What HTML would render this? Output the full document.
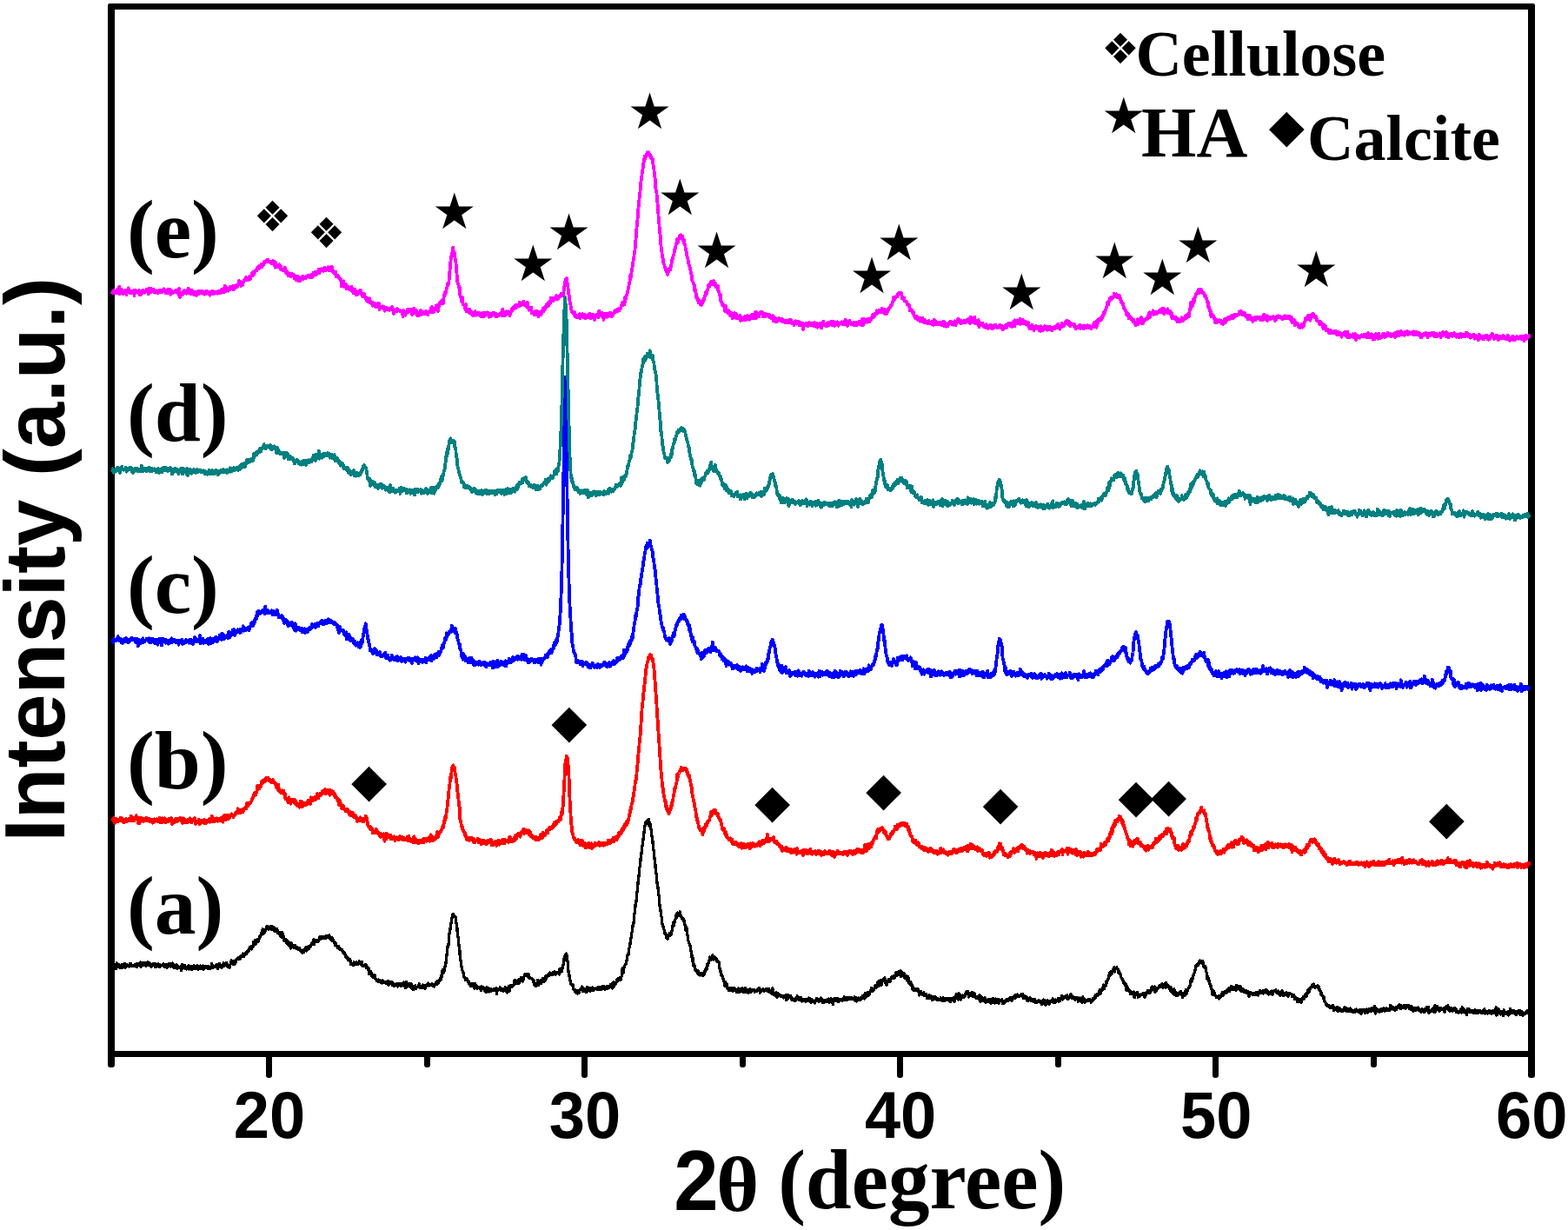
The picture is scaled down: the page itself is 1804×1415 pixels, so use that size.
<!DOCTYPE html>
<html lang="en">
<head>
<meta charset="utf-8">
<title>XRD patterns</title>
<style>
html,body{margin:0;padding:0;background:#fff;}
body{width:1804px;height:1415px;overflow:hidden;}
svg{display:block;}
</style>
</head>
<body>
<svg width="1804" height="1415" viewBox="0 0 1804 1415">
<rect x="0" y="0" width="1804" height="1415" fill="#ffffff"/>
<g id="axes" fill="#000">
<rect x="124" y="4" width="8" height="1224" rx="3"/>
<rect x="1758" y="4" width="8" height="1236" rx="3"/>
<rect x="124" y="4" width="1642" height="7" rx="3"/>
<rect x="128" y="1209" width="1634" height="7"/>
<rect x="306" y="1209" width="7" height="31" rx="3"/>
<rect x="488" y="1209" width="7" height="19" rx="3"/>
<rect x="669" y="1209" width="7" height="31" rx="3"/>
<rect x="851" y="1209" width="7" height="19" rx="3"/>
<rect x="1032" y="1209" width="7" height="31" rx="3"/>
<rect x="1214" y="1209" width="7" height="19" rx="3"/>
<rect x="1395" y="1209" width="7" height="31" rx="3"/>
<rect x="1577" y="1209" width="7" height="19" rx="3"/>
</g>
<g id="curves" shape-rendering="crispEdges">
<polyline points="129.0,1113.8 129.8,1110.2 130.5,1114.1 131.2,1112.6 132.0,1114.2 132.8,1111.9 133.5,1114.5 134.2,1107.5 135.0,1112.5 135.8,1109.7 136.5,1111.8 137.2,1109.6 138.0,1113.2 138.8,1110.4 139.5,1112.9 140.2,1109.2 141.0,1113.6 141.8,1110.0 142.5,1109.5 143.2,1108.2 144.0,1113.1 144.8,1111.9 145.5,1111.4 146.2,1109.8 147.0,1111.9 147.8,1110.8 148.5,1111.9 149.2,1108.9 150.0,1111.7 150.8,1108.5 151.5,1111.5 152.2,1110.4 153.0,1111.7 153.8,1110.8 154.5,1110.9 155.2,1109.2 156.0,1111.5 156.8,1108.7 157.5,1112.5 158.2,1109.4 159.0,1110.2 159.8,1108.2 160.5,1109.8 161.2,1107.1 162.0,1112.2 162.8,1108.8 163.5,1111.0 164.2,1107.6 165.0,1108.4 165.8,1107.4 166.5,1110.5 167.2,1107.7 168.0,1111.0 168.8,1108.0 169.5,1110.4 170.2,1107.0 171.0,1109.4 171.8,1107.4 172.5,1110.7 173.2,1109.5 174.0,1112.1 174.8,1110.0 175.5,1110.8 176.2,1109.0 177.0,1110.3 177.8,1108.4 178.5,1112.2 179.2,1109.1 180.0,1112.4 180.8,1109.8 181.5,1111.4 182.2,1108.7 183.0,1112.3 183.8,1109.7 184.5,1112.2 185.2,1111.1 186.0,1110.7 186.8,1109.9 187.5,1110.7 188.2,1108.8 189.0,1112.7 189.8,1109.5 190.5,1112.3 191.2,1109.8 192.0,1113.6 192.8,1110.6 193.5,1110.8 194.2,1108.3 195.0,1111.8 195.8,1108.8 196.5,1112.0 197.2,1108.4 198.0,1110.7 198.8,1108.0 199.5,1113.1 200.2,1109.9 201.0,1113.9 201.8,1110.4 202.5,1112.3 203.2,1109.5 204.0,1114.9 204.8,1111.9 205.5,1113.4 206.2,1112.6 207.0,1113.3 207.8,1112.6 208.5,1116.3 209.2,1109.4 210.0,1114.3 210.8,1113.0 211.5,1112.0 212.2,1110.5 213.0,1114.0 213.8,1113.0 214.5,1114.9 215.2,1112.3 216.0,1111.4 216.8,1110.7 217.5,1114.9 218.2,1111.8 219.0,1113.5 219.8,1111.9 220.5,1115.3 221.2,1112.4 222.0,1114.2 222.8,1110.7 223.5,1114.3 224.2,1111.5 225.0,1114.2 225.8,1112.2 226.5,1113.1 227.2,1110.5 228.0,1115.0 228.8,1111.7 229.5,1113.9 230.2,1111.1 231.0,1114.5 231.8,1111.6 232.5,1112.6 233.2,1111.1 234.0,1115.2 234.8,1111.9 235.5,1114.2 236.2,1111.6 237.0,1112.4 237.8,1111.5 238.5,1114.0 239.2,1111.6 240.0,1114.6 240.8,1112.1 241.5,1114.7 242.2,1113.0 243.0,1111.8 243.8,1108.4 244.5,1113.4 245.2,1112.0 246.0,1112.7 246.8,1111.5 247.5,1112.3 248.2,1110.6 249.0,1111.2 249.8,1109.4 250.5,1114.4 251.2,1111.0 252.0,1111.2 252.8,1108.4 253.5,1112.2 254.2,1111.1 255.0,1113.3 255.8,1111.3 256.5,1110.0 257.2,1107.9 258.0,1111.7 258.8,1108.8 259.5,1110.6 260.2,1107.2 261.0,1111.4 261.8,1109.3 262.5,1112.6 263.2,1110.3 264.0,1113.1 264.8,1109.9 265.5,1108.3 266.2,1104.8 267.0,1108.7 267.8,1105.3 268.5,1109.5 269.2,1105.3 270.0,1109.1 270.8,1105.5 271.5,1106.4 272.2,1103.5 273.0,1103.7 273.8,1101.5 274.5,1103.4 275.2,1102.1 276.0,1102.9 276.8,1099.9 277.5,1101.1 278.2,1099.4 279.0,1100.3 279.8,1097.0 280.5,1100.5 281.2,1097.0 282.0,1098.4 282.8,1096.6 283.5,1097.4 284.2,1094.2 285.0,1095.3 285.8,1093.2 286.5,1093.4 287.2,1089.5 288.0,1091.7 288.8,1089.1 289.5,1092.0 290.2,1088.2 291.0,1089.7 291.8,1083.5 292.5,1085.0 293.2,1081.7 294.0,1086.5 294.8,1083.0 295.5,1084.2 296.2,1080.2 297.0,1083.5 297.8,1080.9 298.5,1080.1 299.2,1076.1 300.0,1076.9 300.8,1073.5 301.5,1074.1 302.2,1068.7 303.0,1074.0 303.8,1070.1 304.5,1073.0 305.2,1070.8 306.0,1069.2 306.8,1065.9 307.5,1068.3 308.2,1066.1 309.0,1069.8 309.8,1066.7 310.5,1068.0 311.2,1065.2 312.0,1069.1 312.8,1065.7 313.5,1068.4 314.2,1066.7 315.0,1070.2 315.8,1067.0 316.5,1071.8 317.2,1068.5 318.0,1071.9 318.8,1068.2 319.5,1073.3 320.2,1072.4 321.0,1074.4 321.8,1072.7 322.5,1076.7 323.2,1076.3 324.0,1078.7 324.8,1072.4 325.5,1078.9 326.2,1076.7 327.0,1082.6 327.8,1080.6 328.5,1081.9 329.2,1080.9 330.0,1085.2 330.8,1082.7 331.5,1086.5 332.2,1083.7 333.0,1088.4 333.8,1085.9 334.5,1090.9 335.2,1084.6 336.0,1089.2 336.8,1088.8 337.5,1090.0 338.2,1087.6 339.0,1090.6 339.8,1087.8 340.5,1090.9 341.2,1089.2 342.0,1091.9 342.8,1090.4 343.5,1092.2 344.2,1090.3 345.0,1093.3 345.8,1092.2 346.5,1094.2 347.2,1093.7 348.0,1096.4 348.8,1093.0 349.5,1095.7 350.2,1092.3 351.0,1093.1 351.8,1089.9 352.5,1094.0 353.2,1090.3 354.0,1092.6 354.8,1089.1 355.5,1091.7 356.2,1088.9 357.0,1089.7 357.8,1086.8 358.5,1086.5 359.2,1084.1 360.0,1086.1 360.8,1080.9 361.5,1086.5 362.2,1083.3 363.0,1083.3 363.8,1081.2 364.5,1083.3 365.2,1081.8 366.0,1083.1 366.8,1081.1 367.5,1079.0 368.2,1077.5 369.0,1080.9 369.8,1077.2 370.5,1079.6 371.2,1078.0 372.0,1079.6 372.8,1077.5 373.5,1079.5 374.2,1077.1 375.0,1079.2 375.8,1076.3 376.5,1078.8 377.2,1076.8 378.0,1077.6 378.8,1075.7 379.5,1079.2 380.2,1079.0 381.0,1081.1 381.8,1078.2 382.5,1082.7 383.2,1081.2 384.0,1083.2 384.8,1083.1 385.5,1087.6 386.2,1085.0 387.0,1088.5 387.8,1088.1 388.5,1090.3 389.2,1088.2 390.0,1091.4 390.8,1090.0 391.5,1092.3 392.2,1091.7 393.0,1093.5 393.8,1092.6 394.5,1095.9 395.2,1094.7 396.0,1097.4 396.8,1096.6 397.5,1100.2 398.2,1099.8 399.0,1102.0 399.8,1101.0 400.5,1104.7 401.2,1103.9 402.0,1105.3 402.8,1103.7 403.5,1109.8 404.2,1108.1 405.0,1108.6 405.8,1108.2 406.5,1110.3 407.2,1107.0 408.0,1109.5 408.8,1108.4 409.5,1109.5 410.2,1106.6 411.0,1109.8 411.8,1107.3 412.5,1109.2 413.2,1105.6 414.0,1107.6 414.8,1106.5 415.5,1109.3 416.2,1106.3 417.0,1111.3 417.8,1110.6 418.5,1110.9 419.2,1110.1 420.0,1111.3 420.8,1109.3 421.5,1113.4 422.2,1113.2 423.0,1114.4 423.8,1113.0 424.5,1120.3 425.2,1118.7 426.0,1117.9 426.8,1117.7 427.5,1122.8 428.2,1120.7 429.0,1124.2 429.8,1123.1 430.5,1124.5 431.2,1121.6 432.0,1126.4 432.8,1126.2 433.5,1128.7 434.2,1127.2 435.0,1129.2 435.8,1127.0 436.5,1129.0 437.2,1127.9 438.0,1130.6 438.8,1128.9 439.5,1130.9 440.2,1127.7 441.0,1130.7 441.8,1129.2 442.5,1130.2 443.2,1129.5 444.0,1131.5 444.8,1130.5 445.5,1130.7 446.2,1128.5 447.0,1133.3 447.8,1130.4 448.5,1132.1 449.2,1129.3 450.0,1131.3 450.8,1129.3 451.5,1133.5 452.2,1130.8 453.0,1134.3 453.8,1133.4 454.5,1133.9 455.2,1132.7 456.0,1132.5 456.8,1131.3 457.5,1135.1 458.2,1131.8 459.0,1133.4 459.8,1131.6 460.5,1134.0 461.2,1132.1 462.0,1134.7 462.8,1132.2 463.5,1132.0 464.2,1130.1 465.0,1134.3 465.8,1133.7 466.5,1136.4 467.2,1129.3 468.0,1135.1 468.8,1131.7 469.5,1133.5 470.2,1132.1 471.0,1134.5 471.8,1131.4 472.5,1135.8 473.2,1131.8 474.0,1137.3 474.8,1134.7 475.5,1138.3 476.2,1135.8 477.0,1136.8 477.8,1133.9 478.5,1137.7 479.2,1135.7 480.0,1135.8 480.8,1134.6 481.5,1134.9 482.2,1131.8 483.0,1136.6 483.8,1134.5 484.5,1136.8 485.2,1134.7 486.0,1136.1 486.8,1133.1 487.5,1136.6 488.2,1133.8 489.0,1137.1 489.8,1133.4 490.5,1134.4 491.2,1132.5 492.0,1133.9 492.8,1131.1 493.5,1134.1 494.2,1133.0 495.0,1133.8 495.8,1132.6 496.5,1133.5 497.2,1131.8 498.0,1134.5 498.8,1132.6 499.5,1134.9 500.2,1132.5 501.0,1131.5 501.8,1129.7 502.5,1132.8 503.2,1128.8 504.0,1131.3 504.8,1128.4 505.5,1128.8 506.2,1125.6 507.0,1127.0 507.8,1122.0 508.5,1123.6 509.2,1115.8 510.0,1119.7 510.8,1114.6 511.5,1116.8 512.2,1110.4 513.0,1108.0 513.8,1099.9 514.5,1095.1 515.2,1087.8 516.0,1087.4 516.8,1074.2 517.5,1073.2 518.2,1066.4 519.0,1062.4 519.8,1055.9 520.5,1055.2 521.2,1051.4 522.0,1054.6 522.8,1053.3 523.5,1054.2 524.2,1055.1 525.0,1062.5 525.8,1066.5 526.5,1077.6 527.2,1078.1 528.0,1088.2 528.8,1091.6 529.5,1104.8 530.2,1104.5 531.0,1112.6 531.8,1115.7 532.5,1118.8 533.2,1119.1 534.0,1124.4 534.8,1125.1 535.5,1127.2 536.2,1125.4 537.0,1126.6 537.8,1126.7 538.5,1130.1 539.2,1128.9 540.0,1132.0 540.8,1131.3 541.5,1134.3 542.2,1131.5 543.0,1134.7 543.8,1131.6 544.5,1134.3 545.2,1133.0 546.0,1137.9 546.8,1131.5 547.5,1135.0 548.2,1134.0 549.0,1137.8 549.8,1135.2 550.5,1136.4 551.2,1135.2 552.0,1137.3 552.8,1135.5 553.5,1139.6 554.2,1134.8 555.0,1136.7 555.8,1135.2 556.5,1137.4 557.2,1136.3 558.0,1140.9 558.8,1138.6 559.5,1141.8 560.2,1135.9 561.0,1140.2 561.8,1136.7 562.5,1140.9 563.2,1137.7 564.0,1139.2 564.8,1137.7 565.5,1140.2 566.2,1138.4 567.0,1138.9 567.8,1137.6 568.5,1139.7 569.2,1138.9 570.0,1138.0 570.8,1136.6 571.5,1143.3 572.2,1137.6 573.0,1139.0 573.8,1137.9 574.5,1138.6 575.2,1136.0 576.0,1139.5 576.8,1138.0 577.5,1139.2 578.2,1137.8 579.0,1140.0 579.8,1137.7 580.5,1138.2 581.2,1136.0 582.0,1140.5 582.8,1136.3 583.5,1142.1 584.2,1140.8 585.0,1136.9 585.8,1134.2 586.5,1140.2 587.2,1133.1 588.0,1135.8 588.8,1134.6 589.5,1135.2 590.2,1133.5 591.0,1133.4 591.8,1127.7 592.5,1131.8 593.2,1127.9 594.0,1131.5 594.8,1129.6 595.5,1131.1 596.2,1127.0 597.0,1131.0 597.8,1129.0 598.5,1128.5 599.2,1124.5 600.0,1128.0 600.8,1124.8 601.5,1129.1 602.2,1126.7 603.0,1123.4 603.8,1121.1 604.5,1121.5 605.2,1120.2 606.0,1122.6 606.8,1120.5 607.5,1123.7 608.2,1120.8 609.0,1125.1 609.8,1124.2 610.5,1125.5 611.2,1125.5 612.0,1126.1 612.8,1126.0 613.5,1129.7 614.2,1127.5 615.0,1133.1 615.8,1132.7 616.5,1134.3 617.2,1131.2 618.0,1130.4 618.8,1127.4 619.5,1133.4 620.2,1129.5 621.0,1131.1 621.8,1128.1 622.5,1131.7 623.2,1127.8 624.0,1129.1 624.8,1125.5 625.5,1129.3 626.2,1127.1 627.0,1128.8 627.8,1122.8 628.5,1125.5 629.2,1123.2 630.0,1123.5 630.8,1120.8 631.5,1122.6 632.2,1119.0 633.0,1121.2 633.8,1119.7 634.5,1121.8 635.2,1120.5 636.0,1121.7 636.8,1118.4 637.5,1120.0 638.2,1117.8 639.0,1121.8 639.8,1119.2 640.5,1120.0 641.2,1118.2 642.0,1119.4 642.8,1117.8 643.5,1121.0 644.2,1114.1 645.0,1118.5 645.8,1116.0 646.5,1117.4 647.2,1112.0 648.0,1110.0 648.8,1103.5 649.5,1105.1 650.2,1098.8 651.0,1102.5 651.8,1097.1 652.5,1105.2 653.2,1106.0 654.0,1118.7 654.8,1121.1 655.5,1126.9 656.2,1128.7 657.0,1132.4 657.8,1133.2 658.5,1133.6 659.2,1132.7 660.0,1138.1 660.8,1138.2 661.5,1141.0 662.2,1139.0 663.0,1142.5 663.8,1140.0 664.5,1143.0 665.2,1139.9 666.0,1142.6 666.8,1139.2 667.5,1138.7 668.2,1137.3 669.0,1138.4 669.8,1135.1 670.5,1140.8 671.2,1138.6 672.0,1140.3 672.8,1137.7 673.5,1141.0 674.2,1138.8 675.0,1141.8 675.8,1135.3 676.5,1139.6 677.2,1137.9 678.0,1137.1 678.8,1136.2 679.5,1140.2 680.2,1136.9 681.0,1138.8 681.8,1136.0 682.5,1139.5 683.2,1136.6 684.0,1138.5 684.8,1137.4 685.5,1137.8 686.2,1136.4 687.0,1138.7 687.8,1136.1 688.5,1138.4 689.2,1135.4 690.0,1138.9 690.8,1136.1 691.5,1138.3 692.2,1135.7 693.0,1137.0 693.8,1134.3 694.5,1136.0 695.2,1134.7 696.0,1138.8 696.8,1136.6 697.5,1136.3 698.2,1134.5 699.0,1137.8 699.8,1134.8 700.5,1136.6 701.2,1134.1 702.0,1135.4 702.8,1132.4 703.5,1134.7 704.2,1131.7 705.0,1137.0 705.8,1129.7 706.5,1134.3 707.2,1130.3 708.0,1132.5 708.8,1130.1 709.5,1129.5 710.2,1126.1 711.0,1128.4 711.8,1125.8 712.5,1126.9 713.2,1125.0 714.0,1127.3 714.8,1123.8 715.5,1122.1 716.2,1113.8 717.0,1119.5 717.8,1114.2 718.5,1112.9 719.2,1109.6 720.0,1109.3 720.8,1105.4 721.5,1103.5 722.2,1097.6 723.0,1098.3 723.8,1090.6 724.5,1089.6 725.2,1083.9 726.0,1078.9 726.8,1073.4 727.5,1071.0 728.2,1063.6 729.0,1062.5 729.8,1052.0 730.5,1048.8 731.2,1039.2 732.0,1036.9 732.8,1027.6 733.5,1022.2 734.2,1013.1 735.0,1008.3 735.8,998.5 736.5,995.2 737.2,986.9 738.0,982.1 738.8,974.0 739.5,970.4 740.2,963.3 741.0,958.3 741.8,950.5 742.5,949.6 743.2,945.1 744.0,947.2 744.8,944.1 745.5,946.7 746.2,942.2 747.0,950.3 747.8,946.3 748.5,953.3 749.2,954.3 750.0,962.1 750.8,966.9 751.5,975.0 752.2,979.1 753.0,988.2 753.8,993.0 754.5,1005.0 755.2,1005.2 756.0,1015.7 756.8,1019.3 757.5,1027.1 758.2,1030.9 759.0,1041.8 759.8,1045.1 760.5,1052.3 761.2,1055.1 762.0,1063.5 762.8,1065.0 763.5,1068.5 764.2,1069.9 765.0,1074.1 765.8,1073.4 766.5,1078.9 767.2,1078.5 768.0,1080.6 768.8,1077.7 769.5,1076.8 770.2,1074.0 771.0,1076.8 771.8,1073.1 772.5,1074.7 773.2,1069.7 774.0,1065.7 774.8,1060.8 775.5,1064.7 776.2,1060.1 777.0,1057.8 777.8,1053.0 778.5,1056.1 779.2,1050.0 780.0,1053.6 780.8,1050.4 781.5,1051.2 782.2,1048.7 783.0,1054.4 783.8,1053.7 784.5,1056.3 785.2,1055.7 786.0,1058.4 786.8,1058.0 787.5,1062.6 788.2,1064.5 789.0,1070.0 789.8,1066.1 790.5,1074.7 791.2,1076.3 792.0,1082.7 792.8,1084.6 793.5,1086.9 794.2,1088.2 795.0,1094.7 795.8,1097.4 796.5,1105.5 797.2,1102.1 798.0,1111.0 798.8,1109.7 799.5,1115.7 800.2,1114.6 801.0,1117.1 801.8,1116.0 802.5,1119.5 803.2,1116.9 804.0,1121.5 804.8,1120.5 805.5,1121.9 806.2,1120.0 807.0,1121.7 807.8,1120.0 808.5,1122.4 809.2,1119.5 810.0,1121.8 810.8,1117.1 811.5,1117.4 812.2,1113.5 813.0,1115.2 813.8,1108.7 814.5,1111.1 815.2,1106.9 816.0,1104.9 816.8,1101.0 817.5,1104.6 818.2,1101.1 819.0,1101.4 819.8,1098.6 820.5,1104.0 821.2,1101.5 822.0,1101.4 822.8,1101.1 823.5,1103.2 824.2,1102.6 825.0,1106.1 825.8,1105.0 826.5,1106.4 827.2,1107.2 828.0,1114.6 828.8,1115.6 829.5,1121.3 830.2,1120.7 831.0,1122.9 831.8,1124.3 832.5,1129.2 833.2,1129.6 834.0,1134.8 834.8,1129.9 835.5,1132.3 836.2,1132.3 837.0,1137.2 837.8,1136.3 838.5,1139.7 839.2,1136.7 840.0,1138.4 840.8,1136.7 841.5,1139.2 842.2,1136.3 843.0,1140.5 843.8,1137.7 844.5,1137.2 845.2,1136.5 846.0,1139.5 846.8,1138.3 847.5,1141.8 848.2,1138.5 849.0,1138.6 849.8,1137.0 850.5,1141.3 851.2,1139.5 852.0,1140.7 852.8,1137.3 853.5,1137.8 854.2,1136.9 855.0,1141.4 855.8,1137.8 856.5,1141.4 857.2,1136.2 858.0,1141.5 858.8,1139.0 859.5,1139.0 860.2,1138.4 861.0,1142.4 861.8,1139.9 862.5,1140.8 863.2,1137.6 864.0,1141.2 864.8,1139.3 865.5,1140.1 866.2,1138.2 867.0,1139.8 867.8,1138.6 868.5,1141.2 869.2,1140.2 870.0,1140.5 870.8,1138.5 871.5,1140.2 872.2,1137.1 873.0,1138.5 873.8,1136.8 874.5,1142.2 875.2,1138.4 876.0,1140.8 876.8,1138.9 877.5,1139.7 878.2,1137.9 879.0,1140.6 879.8,1138.4 880.5,1139.4 881.2,1137.2 882.0,1139.1 882.8,1137.9 883.5,1140.4 884.2,1137.4 885.0,1141.4 885.8,1139.3 886.5,1141.5 887.2,1140.0 888.0,1143.7 888.8,1136.9 889.5,1143.9 890.2,1141.5 891.0,1144.0 891.8,1143.2 892.5,1145.3 893.2,1142.0 894.0,1147.4 894.8,1142.9 895.5,1145.0 896.2,1143.5 897.0,1145.5 897.8,1144.4 898.5,1146.4 899.2,1145.8 900.0,1146.6 900.8,1145.4 901.5,1148.0 902.2,1146.6 903.0,1146.2 903.8,1144.6 904.5,1150.4 905.2,1147.0 906.0,1149.0 906.8,1144.2 907.5,1148.2 908.2,1147.1 909.0,1147.4 909.8,1145.8 910.5,1150.0 911.2,1148.1 912.0,1150.5 912.8,1149.7 913.5,1151.1 914.2,1149.1 915.0,1151.1 915.8,1149.0 916.5,1149.3 917.2,1146.0 918.0,1149.6 918.8,1147.7 919.5,1150.5 920.2,1147.9 921.0,1150.2 921.8,1147.6 922.5,1151.9 923.2,1150.7 924.0,1151.6 924.8,1149.3 925.5,1151.4 926.2,1149.4 927.0,1152.2 927.8,1149.9 928.5,1150.0 929.2,1149.3 930.0,1151.6 930.8,1148.0 931.5,1150.9 932.2,1149.0 933.0,1153.2 933.8,1149.8 934.5,1152.3 935.2,1150.5 936.0,1152.1 936.8,1151.2 937.5,1154.0 938.2,1150.4 939.0,1150.8 939.8,1148.2 940.5,1151.3 941.2,1149.4 942.0,1152.8 942.8,1149.6 943.5,1150.9 944.2,1148.1 945.0,1151.4 945.8,1149.5 946.5,1153.5 947.2,1150.7 948.0,1153.7 948.8,1150.8 949.5,1152.8 950.2,1151.6 951.0,1152.5 951.8,1149.6 952.5,1152.5 953.2,1149.0 954.0,1153.5 954.8,1150.8 955.5,1152.1 956.2,1148.9 957.0,1153.0 957.8,1149.3 958.5,1155.3 959.2,1149.1 960.0,1151.3 960.8,1149.1 961.5,1151.1 962.2,1148.6 963.0,1151.9 963.8,1148.9 964.5,1152.3 965.2,1149.6 966.0,1151.6 966.8,1149.8 967.5,1150.7 968.2,1149.8 969.0,1151.4 969.8,1149.8 970.5,1149.8 971.2,1146.6 972.0,1150.3 972.8,1147.6 973.5,1150.8 974.2,1149.2 975.0,1150.4 975.8,1147.2 976.5,1149.4 977.2,1147.2 978.0,1149.1 978.8,1147.6 979.5,1149.4 980.2,1147.9 981.0,1149.8 981.8,1148.9 982.5,1149.8 983.2,1146.8 984.0,1151.3 984.8,1147.9 985.5,1152.0 986.2,1150.0 987.0,1149.7 987.8,1148.0 988.5,1150.7 989.2,1149.7 990.0,1150.5 990.8,1147.2 991.5,1148.2 992.2,1145.8 993.0,1148.5 993.8,1146.6 994.5,1149.0 995.2,1142.8 996.0,1147.8 996.8,1145.3 997.5,1144.4 998.2,1141.4 999.0,1145.3 999.8,1142.8 1000.5,1143.3 1001.2,1140.2 1002.0,1138.7 1002.8,1136.3 1003.5,1140.5 1004.2,1137.7 1005.0,1139.2 1005.8,1137.7 1006.5,1135.2 1007.2,1133.7 1008.0,1136.5 1008.8,1133.7 1009.5,1132.7 1010.2,1129.1 1011.0,1134.2 1011.8,1130.1 1012.5,1130.9 1013.2,1127.4 1014.0,1133.1 1014.8,1128.2 1015.5,1129.0 1016.2,1126.2 1017.0,1127.7 1017.8,1124.9 1018.5,1130.8 1019.2,1127.8 1020.0,1133.0 1020.8,1129.3 1021.5,1128.6 1022.2,1126.7 1023.0,1129.9 1023.8,1127.5 1024.5,1128.6 1025.2,1124.7 1026.0,1125.5 1026.8,1123.2 1027.5,1125.0 1028.2,1122.3 1029.0,1125.5 1029.8,1121.6 1030.5,1120.5 1031.2,1118.5 1032.0,1122.5 1032.8,1118.8 1033.5,1121.6 1034.2,1117.9 1035.0,1118.1 1035.8,1116.9 1036.5,1123.8 1037.2,1118.1 1038.0,1122.6 1038.8,1121.5 1039.5,1120.5 1040.2,1119.6 1041.0,1125.7 1041.8,1122.8 1042.5,1125.3 1043.2,1122.9 1044.0,1128.4 1044.8,1123.6 1045.5,1130.5 1046.2,1129.6 1047.0,1132.1 1047.8,1129.7 1048.5,1134.0 1049.2,1132.7 1050.0,1138.2 1050.8,1135.5 1051.5,1139.4 1052.2,1137.4 1053.0,1139.7 1053.8,1139.6 1054.5,1139.8 1055.2,1137.4 1056.0,1140.9 1056.8,1138.2 1057.5,1144.9 1058.2,1142.0 1059.0,1143.1 1059.8,1140.9 1060.5,1144.1 1061.2,1143.7 1062.0,1144.7 1062.8,1141.8 1063.5,1145.7 1064.2,1144.0 1065.0,1144.7 1065.8,1143.7 1066.5,1148.4 1067.2,1147.4 1068.0,1146.0 1068.8,1144.9 1069.5,1148.3 1070.2,1145.4 1071.0,1147.5 1071.8,1146.8 1072.5,1150.7 1073.2,1147.4 1074.0,1146.8 1074.8,1146.3 1075.5,1149.8 1076.2,1147.1 1077.0,1149.2 1077.8,1148.0 1078.5,1150.7 1079.2,1148.7 1080.0,1150.5 1080.8,1149.4 1081.5,1150.8 1082.2,1147.5 1083.0,1150.6 1083.8,1149.5 1084.5,1151.6 1085.2,1147.5 1086.0,1151.8 1086.8,1149.3 1087.5,1150.9 1088.2,1148.8 1089.0,1149.9 1089.8,1148.5 1090.5,1150.6 1091.2,1149.0 1092.0,1151.8 1092.8,1148.3 1093.5,1152.5 1094.2,1151.4 1095.0,1149.2 1095.8,1148.3 1096.5,1151.1 1097.2,1147.6 1098.0,1152.1 1098.8,1148.6 1099.5,1149.1 1100.2,1143.4 1101.0,1148.5 1101.8,1144.1 1102.5,1150.0 1103.2,1142.7 1104.0,1149.0 1104.8,1144.8 1105.5,1150.0 1106.2,1148.2 1107.0,1147.4 1107.8,1145.1 1108.5,1147.8 1109.2,1145.4 1110.0,1145.9 1110.8,1143.4 1111.5,1143.7 1112.2,1140.2 1113.0,1142.8 1113.8,1140.9 1114.5,1146.9 1115.2,1143.6 1116.0,1145.4 1116.8,1143.1 1117.5,1144.0 1118.2,1141.3 1119.0,1146.5 1119.8,1144.8 1120.5,1143.9 1121.2,1142.7 1122.0,1147.6 1122.8,1146.3 1123.5,1148.7 1124.2,1147.6 1125.0,1147.3 1125.8,1145.7 1126.5,1149.2 1127.2,1144.5 1128.0,1152.6 1128.8,1146.5 1129.5,1148.4 1130.2,1147.5 1131.0,1151.5 1131.8,1149.8 1132.5,1150.0 1133.2,1148.0 1134.0,1153.1 1134.8,1150.2 1135.5,1152.7 1136.2,1150.1 1137.0,1152.4 1137.8,1150.0 1138.5,1152.2 1139.2,1149.6 1140.0,1154.3 1140.8,1150.2 1141.5,1151.5 1142.2,1148.4 1143.0,1153.3 1143.8,1150.1 1144.5,1153.9 1145.2,1149.1 1146.0,1153.7 1146.8,1151.6 1147.5,1151.5 1148.2,1149.5 1149.0,1154.5 1149.8,1153.0 1150.5,1152.1 1151.2,1150.8 1152.0,1151.3 1152.8,1149.7 1153.5,1154.8 1154.2,1151.6 1155.0,1154.3 1155.8,1152.5 1156.5,1152.3 1157.2,1150.3 1158.0,1151.4 1158.8,1149.3 1159.5,1151.5 1160.2,1149.9 1161.0,1150.5 1161.8,1147.6 1162.5,1149.7 1163.2,1147.2 1164.0,1151.5 1164.8,1147.5 1165.5,1148.9 1166.2,1146.1 1167.0,1148.6 1167.8,1144.7 1168.5,1148.1 1169.2,1144.5 1170.0,1146.5 1170.8,1144.1 1171.5,1146.3 1172.2,1145.4 1173.0,1146.3 1173.8,1144.9 1174.5,1144.6 1175.2,1143.6 1176.0,1146.2 1176.8,1143.6 1177.5,1148.5 1178.2,1147.8 1179.0,1148.0 1179.8,1146.0 1180.5,1148.0 1181.2,1146.9 1182.0,1151.7 1182.8,1150.1 1183.5,1150.8 1184.2,1148.1 1185.0,1149.5 1185.8,1148.1 1186.5,1151.7 1187.2,1150.8 1188.0,1150.7 1188.8,1149.4 1189.5,1152.7 1190.2,1149.4 1191.0,1153.4 1191.8,1151.3 1192.5,1152.9 1193.2,1151.6 1194.0,1152.9 1194.8,1150.8 1195.5,1152.7 1196.2,1151.9 1197.0,1153.2 1197.8,1151.5 1198.5,1155.5 1199.2,1153.0 1200.0,1154.2 1200.8,1150.1 1201.5,1153.8 1202.2,1150.6 1203.0,1156.8 1203.8,1153.1 1204.5,1153.2 1205.2,1150.7 1206.0,1154.9 1206.8,1153.1 1207.5,1155.2 1208.2,1152.0 1209.0,1152.3 1209.8,1151.2 1210.5,1151.7 1211.2,1148.6 1212.0,1153.7 1212.8,1150.2 1213.5,1153.4 1214.2,1150.1 1215.0,1152.2 1215.8,1150.9 1216.5,1151.3 1217.2,1148.6 1218.0,1152.3 1218.8,1148.9 1219.5,1151.3 1220.2,1149.1 1221.0,1148.7 1221.8,1145.3 1222.5,1150.0 1223.2,1148.7 1224.0,1148.8 1224.8,1146.4 1225.5,1147.7 1226.2,1145.2 1227.0,1148.0 1227.8,1144.8 1228.5,1149.6 1229.2,1147.6 1230.0,1148.3 1230.8,1146.9 1231.5,1146.1 1232.2,1143.5 1233.0,1148.3 1233.8,1146.5 1234.5,1148.5 1235.2,1147.1 1236.0,1149.4 1236.8,1147.6 1237.5,1150.2 1238.2,1147.4 1239.0,1149.2 1239.8,1147.4 1240.5,1152.2 1241.2,1150.0 1242.0,1150.7 1242.8,1148.1 1243.5,1151.5 1244.2,1148.9 1245.0,1153.7 1245.8,1146.7 1246.5,1151.2 1247.2,1149.3 1248.0,1153.2 1248.8,1150.9 1249.5,1152.1 1250.2,1151.4 1251.0,1151.3 1251.8,1150.1 1252.5,1151.2 1253.2,1149.7 1254.0,1151.6 1254.8,1150.1 1255.5,1153.2 1256.2,1150.5 1257.0,1151.4 1257.8,1148.2 1258.5,1150.0 1259.2,1146.9 1260.0,1148.3 1260.8,1144.3 1261.5,1145.7 1262.2,1144.0 1263.0,1145.0 1263.8,1142.8 1264.5,1141.6 1265.2,1138.6 1266.0,1143.1 1266.8,1141.4 1267.5,1138.8 1268.2,1136.7 1269.0,1138.9 1269.8,1133.1 1270.5,1137.4 1271.2,1134.3 1272.0,1134.3 1272.8,1129.4 1273.5,1130.5 1274.2,1126.5 1275.0,1126.8 1275.8,1122.3 1276.5,1122.9 1277.2,1118.1 1278.0,1121.2 1278.8,1117.9 1279.5,1120.2 1280.2,1115.8 1281.0,1115.8 1281.8,1112.9 1282.5,1118.0 1283.2,1114.4 1284.0,1114.0 1284.8,1112.8 1285.5,1115.1 1286.2,1115.0 1287.0,1119.4 1287.8,1117.8 1288.5,1120.4 1289.2,1120.9 1290.0,1124.5 1290.8,1125.6 1291.5,1127.4 1292.2,1127.5 1293.0,1131.2 1293.8,1130.2 1294.5,1134.1 1295.2,1132.2 1296.0,1139.1 1296.8,1134.5 1297.5,1139.4 1298.2,1138.1 1299.0,1140.1 1299.8,1139.2 1300.5,1143.5 1301.2,1141.7 1302.0,1143.4 1302.8,1141.3 1303.5,1142.0 1304.2,1141.1 1305.0,1147.9 1305.8,1145.6 1306.5,1144.6 1307.2,1142.3 1308.0,1144.9 1308.8,1141.4 1309.5,1147.2 1310.2,1145.0 1311.0,1146.8 1311.8,1145.5 1312.5,1144.1 1313.2,1143.3 1314.0,1144.1 1314.8,1142.7 1315.5,1144.6 1316.2,1142.7 1317.0,1147.9 1317.8,1142.7 1318.5,1144.4 1319.2,1141.2 1320.0,1142.9 1320.8,1139.5 1321.5,1142.2 1322.2,1139.7 1323.0,1142.8 1323.8,1139.7 1324.5,1140.1 1325.2,1135.0 1326.0,1138.9 1326.8,1136.9 1327.5,1136.9 1328.2,1135.1 1329.0,1141.1 1329.8,1137.0 1330.5,1139.5 1331.2,1136.4 1332.0,1137.0 1332.8,1135.6 1333.5,1136.0 1334.2,1133.3 1335.0,1135.7 1335.8,1134.8 1336.5,1132.8 1337.2,1131.6 1338.0,1136.2 1338.8,1133.5 1339.5,1134.7 1340.2,1131.6 1341.0,1136.2 1341.8,1130.3 1342.5,1135.4 1343.2,1132.7 1344.0,1135.3 1344.8,1134.0 1345.5,1138.0 1346.2,1135.2 1347.0,1140.6 1347.8,1136.7 1348.5,1141.4 1349.2,1138.9 1350.0,1143.7 1350.8,1137.8 1351.5,1144.7 1352.2,1143.9 1353.0,1145.7 1353.8,1142.1 1354.5,1145.8 1355.2,1144.8 1356.0,1144.3 1356.8,1141.7 1357.5,1141.7 1358.2,1140.3 1359.0,1144.0 1359.8,1142.9 1360.5,1147.3 1361.2,1144.6 1362.0,1145.0 1362.8,1141.9 1363.5,1145.0 1364.2,1138.4 1365.0,1143.0 1365.8,1139.9 1366.5,1139.9 1367.2,1136.8 1368.0,1136.1 1368.8,1133.7 1369.5,1134.1 1370.2,1126.7 1371.0,1129.4 1371.8,1124.7 1372.5,1125.6 1373.2,1120.4 1374.0,1119.8 1374.8,1116.0 1375.5,1115.9 1376.2,1110.2 1377.0,1111.5 1377.8,1109.0 1378.5,1110.8 1379.2,1106.5 1380.0,1108.7 1380.8,1105.1 1381.5,1106.6 1382.2,1105.6 1383.0,1108.4 1383.8,1105.7 1384.5,1111.5 1385.2,1111.9 1386.0,1112.8 1386.8,1111.9 1387.5,1117.3 1388.2,1118.6 1389.0,1126.0 1389.8,1123.3 1390.5,1128.3 1391.2,1127.5 1392.0,1132.0 1392.8,1133.1 1393.5,1137.4 1394.2,1137.7 1395.0,1144.3 1395.8,1139.1 1396.5,1143.2 1397.2,1142.3 1398.0,1145.2 1398.8,1145.2 1399.5,1147.3 1400.2,1146.2 1401.0,1146.6 1401.8,1145.6 1402.5,1149.1 1403.2,1147.8 1404.0,1147.3 1404.8,1145.1 1405.5,1145.4 1406.2,1141.9 1407.0,1145.6 1407.8,1143.0 1408.5,1142.2 1409.2,1140.6 1410.0,1142.1 1410.8,1139.6 1411.5,1141.9 1412.2,1139.0 1413.0,1139.4 1413.8,1136.7 1414.5,1140.7 1415.2,1137.8 1416.0,1137.3 1416.8,1134.3 1417.5,1138.7 1418.2,1135.4 1419.0,1138.1 1419.8,1135.6 1420.5,1138.3 1421.2,1136.5 1422.0,1139.6 1422.8,1133.5 1423.5,1137.3 1424.2,1134.4 1425.0,1137.4 1425.8,1134.8 1426.5,1138.5 1427.2,1135.0 1428.0,1140.5 1428.8,1137.7 1429.5,1138.4 1430.2,1137.9 1431.0,1141.6 1431.8,1139.0 1432.5,1141.3 1433.2,1139.2 1434.0,1142.5 1434.8,1140.0 1435.5,1141.6 1436.2,1141.0 1437.0,1146.1 1437.8,1142.8 1438.5,1142.2 1439.2,1141.6 1440.0,1143.7 1440.8,1142.6 1441.5,1144.4 1442.2,1142.2 1443.0,1144.8 1443.8,1142.3 1444.5,1144.5 1445.2,1141.9 1446.0,1143.7 1446.8,1142.0 1447.5,1144.9 1448.2,1141.3 1449.0,1141.0 1449.8,1139.2 1450.5,1142.6 1451.2,1140.5 1452.0,1140.7 1452.8,1139.7 1453.5,1143.0 1454.2,1140.6 1455.0,1141.6 1455.8,1138.8 1456.5,1141.9 1457.2,1139.0 1458.0,1142.1 1458.8,1140.8 1459.5,1143.9 1460.2,1142.1 1461.0,1143.5 1461.8,1140.8 1462.5,1143.6 1463.2,1140.0 1464.0,1144.5 1464.8,1141.6 1465.5,1141.2 1466.2,1139.8 1467.0,1139.7 1467.8,1138.8 1468.5,1141.9 1469.2,1140.2 1470.0,1142.4 1470.8,1140.1 1471.5,1143.7 1472.2,1142.2 1473.0,1145.5 1473.8,1142.5 1474.5,1141.0 1475.2,1139.6 1476.0,1145.1 1476.8,1144.1 1477.5,1144.9 1478.2,1142.5 1479.0,1144.5 1479.8,1141.7 1480.5,1143.4 1481.2,1142.2 1482.0,1146.0 1482.8,1144.5 1483.5,1143.8 1484.2,1142.8 1485.0,1143.8 1485.8,1143.6 1486.5,1146.6 1487.2,1144.5 1488.0,1145.2 1488.8,1144.9 1489.5,1149.2 1490.2,1147.3 1491.0,1149.8 1491.8,1148.0 1492.5,1152.7 1493.2,1148.7 1494.0,1152.3 1494.8,1151.0 1495.5,1150.8 1496.2,1149.8 1497.0,1153.6 1497.8,1150.9 1498.5,1149.9 1499.2,1146.9 1500.0,1149.6 1500.8,1148.0 1501.5,1145.2 1502.2,1143.6 1503.0,1146.6 1503.8,1142.4 1504.5,1142.9 1505.2,1138.3 1506.0,1141.0 1506.8,1137.0 1507.5,1137.4 1508.2,1135.5 1509.0,1134.6 1509.8,1132.6 1510.5,1135.8 1511.2,1132.0 1512.0,1135.4 1512.8,1134.0 1513.5,1136.2 1514.2,1134.7 1515.0,1135.2 1515.8,1133.8 1516.5,1136.5 1517.2,1134.6 1518.0,1139.3 1518.8,1138.9 1519.5,1143.2 1520.2,1142.1 1521.0,1145.2 1521.8,1145.4 1522.5,1148.6 1523.2,1147.2 1524.0,1152.1 1524.8,1152.7 1525.5,1155.3 1526.2,1155.3 1527.0,1157.3 1527.8,1157.4 1528.5,1157.2 1529.2,1156.6 1530.0,1159.9 1530.8,1157.2 1531.5,1159.7 1532.2,1157.8 1533.0,1159.2 1533.8,1156.4 1534.5,1162.4 1535.2,1158.9 1536.0,1160.6 1536.8,1159.5 1537.5,1161.1 1538.2,1158.2 1539.0,1163.7 1539.8,1160.2 1540.5,1163.0 1541.2,1159.9 1542.0,1162.1 1542.8,1161.3 1543.5,1163.2 1544.2,1161.2 1545.0,1163.0 1545.8,1160.7 1546.5,1161.2 1547.2,1158.5 1548.0,1162.1 1548.8,1159.7 1549.5,1163.3 1550.2,1161.8 1551.0,1161.3 1551.8,1160.2 1552.5,1163.4 1553.2,1160.1 1554.0,1163.3 1554.8,1161.3 1555.5,1164.1 1556.2,1162.9 1557.0,1164.3 1557.8,1162.7 1558.5,1164.8 1559.2,1161.5 1560.0,1163.0 1560.8,1161.1 1561.5,1163.8 1562.2,1162.8 1563.0,1164.3 1563.8,1161.6 1564.5,1163.1 1565.2,1161.4 1566.0,1166.2 1566.8,1161.7 1567.5,1164.0 1568.2,1162.1 1569.0,1162.2 1569.8,1161.2 1570.5,1165.3 1571.2,1162.4 1572.0,1163.4 1572.8,1161.0 1573.5,1165.0 1574.2,1161.3 1575.0,1161.2 1575.8,1160.4 1576.5,1163.6 1577.2,1161.2 1578.0,1163.3 1578.8,1159.4 1579.5,1162.3 1580.2,1160.3 1581.0,1163.1 1581.8,1157.4 1582.5,1166.0 1583.2,1163.2 1584.0,1163.0 1584.8,1161.1 1585.5,1163.0 1586.2,1161.9 1587.0,1164.5 1587.8,1162.1 1588.5,1162.9 1589.2,1160.9 1590.0,1163.0 1590.8,1162.1 1591.5,1161.1 1592.2,1159.7 1593.0,1163.0 1593.8,1161.0 1594.5,1162.3 1595.2,1160.0 1596.0,1162.5 1596.8,1161.4 1597.5,1162.7 1598.2,1160.1 1599.0,1162.6 1599.8,1156.3 1600.5,1159.6 1601.2,1157.8 1602.0,1160.4 1602.8,1158.5 1603.5,1161.7 1604.2,1160.5 1605.0,1162.1 1605.8,1159.0 1606.5,1161.5 1607.2,1159.1 1608.0,1158.1 1608.8,1156.8 1609.5,1157.1 1610.2,1155.8 1611.0,1160.1 1611.8,1156.8 1612.5,1160.0 1613.2,1157.2 1614.0,1159.5 1614.8,1156.7 1615.5,1159.6 1616.2,1158.4 1617.0,1160.2 1617.8,1156.5 1618.5,1157.9 1619.2,1156.5 1620.0,1158.6 1620.8,1156.9 1621.5,1160.5 1622.2,1157.8 1623.0,1161.1 1623.8,1157.8 1624.5,1160.9 1625.2,1158.5 1626.0,1163.7 1626.8,1161.6 1627.5,1161.2 1628.2,1159.4 1629.0,1162.4 1629.8,1159.7 1630.5,1161.0 1631.2,1159.1 1632.0,1162.0 1632.8,1160.0 1633.5,1162.7 1634.2,1161.7 1635.0,1164.0 1635.8,1160.9 1636.5,1162.2 1637.2,1161.5 1638.0,1164.3 1638.8,1161.0 1639.5,1164.1 1640.2,1160.7 1641.0,1162.6 1641.8,1158.2 1642.5,1159.5 1643.2,1158.3 1644.0,1165.7 1644.8,1164.3 1645.5,1163.9 1646.2,1162.7 1647.0,1163.6 1647.8,1160.7 1648.5,1161.0 1649.2,1159.1 1650.0,1164.0 1650.8,1156.6 1651.5,1163.9 1652.2,1162.0 1653.0,1159.1 1653.8,1157.3 1654.5,1162.1 1655.2,1159.3 1656.0,1163.5 1656.8,1160.1 1657.5,1162.0 1658.2,1159.6 1659.0,1161.8 1659.8,1160.7 1660.5,1160.8 1661.2,1159.5 1662.0,1164.2 1662.8,1161.3 1663.5,1160.4 1664.2,1157.4 1665.0,1160.3 1665.8,1156.7 1666.5,1161.6 1667.2,1159.3 1668.0,1163.4 1668.8,1160.5 1669.5,1162.0 1670.2,1159.5 1671.0,1163.4 1671.8,1161.3 1672.5,1162.4 1673.2,1159.5 1674.0,1161.2 1674.8,1160.0 1675.5,1164.2 1676.2,1163.2 1677.0,1164.8 1677.8,1163.3 1678.5,1165.1 1679.2,1163.4 1680.0,1164.1 1680.8,1160.6 1681.5,1164.9 1682.2,1158.7 1683.0,1163.4 1683.8,1160.5 1684.5,1164.8 1685.2,1161.5 1686.0,1165.9 1686.8,1162.3 1687.5,1167.7 1688.2,1160.5 1689.0,1163.7 1689.8,1160.3 1690.5,1164.5 1691.2,1163.2 1692.0,1164.6 1692.8,1162.8 1693.5,1164.6 1694.2,1163.0 1695.0,1165.0 1695.8,1162.5 1696.5,1165.3 1697.2,1161.8 1698.0,1165.4 1698.8,1163.5 1699.5,1165.6 1700.2,1162.3 1701.0,1165.3 1701.8,1162.9 1702.5,1163.5 1703.2,1162.7 1704.0,1165.3 1704.8,1163.3 1705.5,1165.3 1706.2,1162.3 1707.0,1162.5 1707.8,1160.8 1708.5,1166.1 1709.2,1162.9 1710.0,1164.2 1710.8,1163.2 1711.5,1166.1 1712.2,1164.0 1713.0,1165.6 1713.8,1162.2 1714.5,1164.4 1715.2,1163.6 1716.0,1166.0 1716.8,1162.7 1717.5,1165.4 1718.2,1163.0 1719.0,1164.5 1719.8,1163.0 1720.5,1165.7 1721.2,1158.9 1722.0,1168.0 1722.8,1164.6 1723.5,1164.4 1724.2,1160.8 1725.0,1165.0 1725.8,1163.0 1726.5,1167.0 1727.2,1163.2 1728.0,1166.2 1728.8,1163.5 1729.5,1168.4 1730.2,1161.7 1731.0,1166.2 1731.8,1164.5 1732.5,1166.7 1733.2,1165.0 1734.0,1165.8 1734.8,1163.9 1735.5,1168.1 1736.2,1167.3 1737.0,1166.6 1737.8,1160.2 1738.5,1165.8 1739.2,1163.7 1740.0,1165.1 1740.8,1163.1 1741.5,1165.2 1742.2,1162.6 1743.0,1166.4 1743.8,1163.3 1744.5,1167.5 1745.2,1164.7 1746.0,1164.6 1746.8,1162.9 1747.5,1165.3 1748.2,1162.2 1749.0,1167.0 1749.8,1163.6 1750.5,1166.2 1751.2,1164.0 1752.0,1168.2 1752.8,1165.1 1753.5,1166.0 1754.2,1165.3 1755.0,1166.0 1755.8,1163.5 1756.5,1165.7 1757.2,1162.5 1758.0,1165.9 1758.8,1163.6" fill="none" stroke="#000000" stroke-width="3.3" stroke-linejoin="round" stroke-linecap="butt"/>
<polyline points="129.0,944.5 129.8,942.6 130.5,944.1 131.2,941.1 132.0,947.2 132.8,945.8 133.5,944.4 134.2,942.1 135.0,945.6 135.8,942.5 136.5,944.0 137.2,943.2 138.0,942.7 138.8,940.7 139.5,944.4 140.2,941.3 141.0,945.0 141.8,942.3 142.5,946.1 143.2,942.8 144.0,943.7 144.8,942.2 145.5,945.0 146.2,942.4 147.0,943.7 147.8,942.0 148.5,944.4 149.2,943.4 150.0,942.0 150.8,938.8 151.5,944.6 152.2,943.0 153.0,943.9 153.8,940.9 154.5,944.0 155.2,940.9 156.0,941.5 156.8,938.2 157.5,942.7 158.2,941.0 159.0,947.0 159.8,940.5 160.5,947.1 161.2,944.1 162.0,943.6 162.8,940.8 163.5,942.6 164.2,941.9 165.0,945.1 165.8,942.0 166.5,943.8 167.2,942.9 168.0,943.8 168.8,940.8 169.5,944.1 170.2,941.5 171.0,943.0 171.8,942.1 172.5,945.0 173.2,942.4 174.0,945.4 174.8,942.5 175.5,946.7 176.2,943.5 177.0,946.0 177.8,942.3 178.5,944.6 179.2,943.2 180.0,944.4 180.8,942.4 181.5,945.3 182.2,943.4 183.0,943.6 183.8,940.8 184.5,946.5 185.2,945.2 186.0,946.2 186.8,941.3 187.5,945.9 188.2,944.4 189.0,944.1 189.8,941.4 190.5,946.4 191.2,943.3 192.0,945.4 192.8,943.0 193.5,945.2 194.2,942.0 195.0,944.5 195.8,941.7 196.5,944.6 197.2,941.2 198.0,948.2 198.8,943.8 199.5,945.8 200.2,945.0 201.0,946.1 201.8,942.2 202.5,945.0 203.2,943.6 204.0,944.9 204.8,941.6 205.5,942.7 206.2,941.4 207.0,943.3 207.8,941.0 208.5,944.3 209.2,942.7 210.0,946.8 210.8,941.3 211.5,943.4 212.2,942.4 213.0,945.7 213.8,944.7 214.5,946.0 215.2,943.8 216.0,946.2 216.8,942.8 217.5,943.4 218.2,941.3 219.0,944.7 219.8,943.6 220.5,946.3 221.2,942.5 222.0,944.0 222.8,942.0 223.5,942.8 224.2,941.1 225.0,947.9 225.8,945.4 226.5,946.0 227.2,944.4 228.0,945.5 228.8,942.6 229.5,948.3 230.2,944.3 231.0,947.4 231.8,944.2 232.5,945.5 233.2,944.5 234.0,946.4 234.8,943.1 235.5,947.1 236.2,943.5 237.0,946.8 237.8,945.2 238.5,945.1 239.2,943.5 240.0,945.6 240.8,942.1 241.5,945.7 242.2,943.6 243.0,942.6 243.8,938.6 244.5,945.0 245.2,942.4 246.0,944.2 246.8,941.7 247.5,944.9 248.2,941.6 249.0,944.3 249.8,941.4 250.5,944.8 251.2,941.8 252.0,943.9 252.8,941.7 253.5,943.7 254.2,941.2 255.0,943.7 255.8,940.1 256.5,945.8 257.2,938.7 258.0,943.5 258.8,938.0 259.5,943.5 260.2,940.7 261.0,939.5 261.8,937.6 262.5,942.6 263.2,937.9 264.0,940.9 264.8,939.3 265.5,938.8 266.2,936.3 267.0,938.6 267.8,937.4 268.5,940.2 269.2,938.4 270.0,937.9 270.8,935.9 271.5,936.5 272.2,933.9 273.0,933.6 273.8,930.3 274.5,935.5 275.2,934.0 276.0,935.1 276.8,931.9 277.5,934.9 278.2,931.3 279.0,934.6 279.8,932.8 280.5,931.1 281.2,929.4 282.0,930.0 282.8,928.4 283.5,930.0 284.2,923.9 285.0,927.5 285.8,924.7 286.5,925.3 287.2,923.4 288.0,924.2 288.8,921.9 289.5,921.8 290.2,918.6 291.0,917.6 291.8,914.4 292.5,915.9 293.2,911.4 294.0,914.5 294.8,911.8 295.5,911.6 296.2,903.7 297.0,908.0 297.8,905.8 298.5,906.9 299.2,904.0 300.0,904.6 300.8,899.9 301.5,901.4 302.2,898.1 303.0,900.2 303.8,898.8 304.5,899.3 305.2,895.6 306.0,898.2 306.8,894.7 307.5,897.0 308.2,894.6 309.0,897.9 309.8,897.0 310.5,898.1 311.2,896.9 312.0,900.3 312.8,898.7 313.5,900.1 314.2,897.0 315.0,900.3 315.8,899.7 316.5,902.6 317.2,900.9 318.0,905.6 318.8,903.6 319.5,908.4 320.2,902.5 321.0,910.2 321.8,908.3 322.5,911.0 323.2,910.1 324.0,912.6 324.8,909.3 325.5,911.2 326.2,909.8 327.0,914.3 327.8,912.6 328.5,919.6 329.2,918.0 330.0,918.8 330.8,918.5 331.5,923.0 332.2,917.3 333.0,921.2 333.8,919.8 334.5,924.8 335.2,919.9 336.0,921.2 336.8,919.9 337.5,922.1 338.2,920.3 339.0,924.0 339.8,920.4 340.5,925.2 341.2,923.9 342.0,926.9 342.8,924.3 343.5,926.8 344.2,924.3 345.0,928.7 345.8,921.4 346.5,925.6 347.2,922.3 348.0,928.0 348.8,924.7 349.5,926.8 350.2,923.4 351.0,926.0 351.8,924.0 352.5,925.6 353.2,922.9 354.0,925.0 354.8,921.0 355.5,923.1 356.2,920.5 357.0,925.0 357.8,917.2 358.5,921.3 359.2,917.5 360.0,921.4 360.8,918.6 361.5,919.9 362.2,916.9 363.0,920.0 363.8,917.1 364.5,915.3 365.2,913.2 366.0,918.7 366.8,914.7 367.5,915.7 368.2,913.2 369.0,914.9 369.8,912.1 370.5,913.8 371.2,909.9 372.0,912.4 372.8,909.8 373.5,911.0 374.2,908.2 375.0,913.4 375.8,910.3 376.5,911.9 377.2,908.6 378.0,913.2 378.8,909.6 379.5,914.8 380.2,909.0 381.0,912.1 381.8,909.9 382.5,913.3 383.2,910.8 384.0,913.2 384.8,912.6 385.5,917.1 386.2,915.1 387.0,917.4 387.8,917.3 388.5,921.1 389.2,919.0 390.0,926.1 390.8,920.5 391.5,925.6 392.2,923.9 393.0,930.3 393.8,927.5 394.5,927.2 395.2,927.0 396.0,931.1 396.8,930.9 397.5,933.3 398.2,931.8 399.0,931.4 399.8,930.7 400.5,934.8 401.2,934.7 402.0,937.0 402.8,933.9 403.5,938.2 404.2,936.8 405.0,937.7 405.8,935.0 406.5,939.7 407.2,938.7 408.0,940.0 408.8,937.9 409.5,941.4 410.2,940.1 411.0,944.8 411.8,942.6 412.5,944.1 413.2,941.7 414.0,942.6 414.8,940.4 415.5,944.2 416.2,942.2 417.0,945.2 417.8,941.8 418.5,945.5 419.2,942.9 420.0,942.1 420.8,938.8 421.5,940.9 422.2,941.5 423.0,948.5 423.8,949.8 424.5,951.5 425.2,950.5 426.0,953.9 426.8,951.6 427.5,953.3 428.2,953.1 429.0,958.7 429.8,956.4 430.5,957.6 431.2,956.3 432.0,957.8 432.8,953.7 433.5,958.2 434.2,956.7 435.0,958.9 435.8,958.0 436.5,961.1 437.2,958.5 438.0,963.0 438.8,959.7 439.5,960.8 440.2,959.5 441.0,962.0 441.8,959.4 442.5,967.7 443.2,961.0 444.0,965.6 444.8,959.0 445.5,963.7 446.2,960.2 447.0,963.4 447.8,962.5 448.5,963.1 449.2,960.5 450.0,965.7 450.8,962.5 451.5,965.2 452.2,964.5 453.0,964.4 453.8,962.3 454.5,967.2 455.2,963.6 456.0,965.0 456.8,963.3 457.5,965.7 458.2,964.3 459.0,965.9 459.8,962.2 460.5,965.5 461.2,962.8 462.0,964.1 462.8,963.0 463.5,966.0 464.2,965.3 465.0,966.2 465.8,964.3 466.5,965.9 467.2,965.0 468.0,966.3 468.8,962.9 469.5,967.5 470.2,961.8 471.0,966.0 471.8,964.8 472.5,967.8 473.2,965.8 474.0,967.7 474.8,965.7 475.5,969.1 476.2,962.3 477.0,968.8 477.8,965.1 478.5,969.0 479.2,968.3 480.0,967.3 480.8,966.5 481.5,970.5 482.2,967.9 483.0,968.3 483.8,966.5 484.5,969.5 485.2,967.5 486.0,967.7 486.8,965.0 487.5,969.5 488.2,967.1 489.0,966.2 489.8,964.8 490.5,967.8 491.2,966.0 492.0,967.2 492.8,964.6 493.5,964.3 494.2,962.9 495.0,967.7 495.8,960.2 496.5,967.2 497.2,965.5 498.0,966.9 498.8,963.3 499.5,966.2 500.2,964.5 501.0,964.7 501.8,962.0 502.5,960.7 503.2,956.9 504.0,962.9 504.8,959.3 505.5,959.3 506.2,957.0 507.0,957.1 507.8,954.2 508.5,954.4 509.2,950.8 510.0,951.7 510.8,944.9 511.5,946.2 512.2,939.4 513.0,940.6 513.8,933.8 514.5,929.2 515.2,921.6 516.0,915.5 516.8,905.6 517.5,901.6 518.2,893.5 519.0,894.8 519.8,883.6 520.5,883.4 521.2,880.3 522.0,883.1 522.8,883.0 523.5,889.0 524.2,890.3 525.0,898.8 525.8,903.3 526.5,911.9 527.2,915.9 528.0,926.6 528.8,928.4 529.5,945.2 530.2,944.6 531.0,951.0 531.8,950.9 532.5,955.7 533.2,955.2 534.0,958.1 534.8,957.7 535.5,962.5 536.2,961.4 537.0,965.9 537.8,964.4 538.5,965.8 539.2,963.6 540.0,967.0 540.8,964.9 541.5,964.4 542.2,963.7 543.0,966.5 543.8,965.7 544.5,968.2 545.2,964.9 546.0,969.6 546.8,967.1 547.5,967.5 548.2,966.4 549.0,967.6 549.8,964.6 550.5,969.0 551.2,965.7 552.0,968.0 552.8,966.3 553.5,971.2 554.2,967.7 555.0,970.6 555.8,967.0 556.5,970.2 557.2,967.0 558.0,969.7 558.8,967.6 559.5,971.4 560.2,967.8 561.0,970.0 561.8,966.5 562.5,969.3 563.2,966.6 564.0,968.4 564.8,965.6 565.5,972.1 566.2,969.2 567.0,971.2 567.8,968.8 568.5,971.9 569.2,968.5 570.0,971.2 570.8,967.8 571.5,972.9 572.2,969.8 573.0,969.7 573.8,966.7 574.5,971.7 575.2,969.4 576.0,969.0 576.8,967.1 577.5,970.1 578.2,966.2 579.0,968.3 579.8,965.6 580.5,970.0 581.2,966.2 582.0,968.1 582.8,966.5 583.5,968.5 584.2,967.0 585.0,969.3 585.8,963.1 586.5,966.4 587.2,963.3 588.0,967.7 588.8,965.4 589.5,968.0 590.2,965.4 591.0,967.4 591.8,963.4 592.5,966.7 593.2,960.7 594.0,964.8 594.8,962.0 595.5,961.1 596.2,959.1 597.0,961.4 597.8,959.4 598.5,962.8 599.2,958.1 600.0,959.2 600.8,956.8 601.5,957.0 602.2,953.7 603.0,958.9 603.8,955.1 604.5,957.7 605.2,954.5 606.0,958.2 606.8,956.9 607.5,956.5 608.2,955.4 609.0,960.7 609.8,956.4 610.5,962.6 611.2,960.0 612.0,963.2 612.8,962.0 613.5,964.4 614.2,963.3 615.0,965.0 615.8,963.1 616.5,965.9 617.2,963.0 618.0,966.6 618.8,964.4 619.5,966.2 620.2,965.1 621.0,963.8 621.8,960.4 622.5,964.3 623.2,960.2 624.0,964.3 624.8,957.9 625.5,961.0 626.2,959.6 627.0,961.1 627.8,959.0 628.5,957.7 629.2,954.7 630.0,958.5 630.8,955.5 631.5,953.9 632.2,952.3 633.0,954.0 633.8,951.7 634.5,953.0 635.2,950.3 636.0,951.9 636.8,948.9 637.5,950.7 638.2,946.2 639.0,948.9 639.8,945.2 640.5,947.3 641.2,944.3 642.0,945.4 642.8,943.9 643.5,942.1 644.2,940.2 645.0,942.9 645.8,934.8 646.5,937.9 647.2,931.4 648.0,923.9 648.8,906.6 649.5,895.8 650.2,879.3 651.0,877.0 651.8,869.6 652.5,870.6 653.2,873.5 654.0,885.6 654.8,898.8 655.5,919.5 656.2,930.5 657.0,947.1 657.8,951.0 658.5,958.9 659.2,959.9 660.0,963.6 660.8,963.6 661.5,966.8 662.2,966.6 663.0,968.9 663.8,967.4 664.5,968.9 665.2,966.1 666.0,969.8 666.8,967.0 667.5,972.5 668.2,970.8 669.0,969.6 669.8,966.8 670.5,972.8 671.2,969.8 672.0,972.7 672.8,969.6 673.5,975.1 674.2,971.5 675.0,974.7 675.8,970.5 676.5,972.5 677.2,969.5 678.0,975.2 678.8,971.6 679.5,972.1 680.2,970.4 681.0,975.9 681.8,972.0 682.5,974.4 683.2,972.5 684.0,972.7 684.8,969.8 685.5,972.6 686.2,971.4 687.0,971.8 687.8,970.4 688.5,970.2 689.2,969.1 690.0,973.0 690.8,970.2 691.5,971.2 692.2,970.2 693.0,972.1 693.8,969.8 694.5,972.6 695.2,969.4 696.0,972.0 696.8,970.3 697.5,971.1 698.2,969.6 699.0,970.7 699.8,966.8 700.5,969.3 701.2,967.7 702.0,969.7 702.8,966.8 703.5,968.1 704.2,965.5 705.0,967.7 705.8,963.6 706.5,968.6 707.2,965.3 708.0,965.7 708.8,962.9 709.5,966.5 710.2,962.9 711.0,962.4 711.8,958.4 712.5,961.8 713.2,957.6 714.0,959.6 714.8,955.4 715.5,957.4 716.2,953.2 717.0,954.6 717.8,950.8 718.5,952.7 719.2,947.5 720.0,949.1 720.8,945.1 721.5,948.8 722.2,944.6 723.0,944.1 723.8,938.7 724.5,936.3 725.2,931.9 726.0,930.4 726.8,924.7 727.5,923.4 728.2,918.3 729.0,914.9 729.8,907.9 730.5,903.3 731.2,897.5 732.0,896.7 732.8,885.7 733.5,879.5 734.2,869.7 735.0,863.4 735.8,852.9 736.5,847.9 737.2,836.7 738.0,825.0 738.8,811.8 739.5,807.7 740.2,798.7 741.0,793.1 741.8,784.5 742.5,778.7 743.2,769.6 744.0,767.0 744.8,761.7 745.5,760.5 746.2,755.5 747.0,755.0 747.8,753.2 748.5,754.5 749.2,753.7 750.0,758.2 750.8,757.8 751.5,762.9 752.2,765.4 753.0,777.2 753.8,786.0 754.5,797.6 755.2,806.5 756.0,820.4 756.8,830.9 757.5,842.5 758.2,851.1 759.0,866.4 759.8,875.9 760.5,886.9 761.2,893.2 762.0,904.2 762.8,907.0 763.5,914.0 764.2,917.0 765.0,921.5 765.8,921.3 766.5,930.2 767.2,927.5 768.0,933.1 768.8,930.8 769.5,936.4 770.2,932.5 771.0,932.1 771.8,927.7 772.5,929.6 773.2,922.8 774.0,922.3 774.8,915.5 775.5,913.4 776.2,906.6 777.0,906.4 777.8,901.5 778.5,900.9 779.2,890.5 780.0,894.2 780.8,889.7 781.5,889.5 782.2,886.5 783.0,885.7 783.8,882.6 784.5,886.5 785.2,884.4 786.0,886.4 786.8,884.1 787.5,885.4 788.2,883.6 789.0,886.0 789.8,884.5 790.5,890.0 791.2,888.5 792.0,893.0 792.8,892.0 793.5,896.2 794.2,898.0 795.0,903.9 795.8,906.3 796.5,914.1 797.2,916.2 798.0,921.5 798.8,924.4 799.5,929.0 800.2,930.3 801.0,939.7 801.8,940.8 802.5,944.9 803.2,945.9 804.0,951.7 804.8,952.8 805.5,955.5 806.2,954.6 807.0,956.3 807.8,954.8 808.5,960.3 809.2,952.3 810.0,955.8 810.8,951.1 811.5,952.5 812.2,948.2 813.0,949.8 813.8,945.9 814.5,946.6 815.2,943.4 816.0,944.2 816.8,939.6 817.5,938.6 818.2,933.8 819.0,938.3 819.8,933.5 820.5,935.6 821.2,931.5 822.0,934.3 822.8,931.5 823.5,935.9 824.2,935.0 825.0,935.8 825.8,935.6 826.5,940.2 827.2,940.5 828.0,942.5 828.8,943.0 829.5,946.5 830.2,947.9 831.0,954.3 831.8,952.8 832.5,955.5 833.2,953.2 834.0,958.4 834.8,956.7 835.5,962.0 836.2,960.3 837.0,963.6 837.8,963.5 838.5,966.0 839.2,964.6 840.0,965.9 840.8,964.4 841.5,968.6 842.2,965.5 843.0,971.2 843.8,968.7 844.5,971.3 845.2,970.0 846.0,970.1 846.8,968.8 847.5,971.8 848.2,970.9 849.0,972.7 849.8,970.6 850.5,974.1 851.2,971.6 852.0,972.1 852.8,970.2 853.5,975.7 854.2,972.1 855.0,973.6 855.8,970.7 856.5,975.5 857.2,973.2 858.0,974.8 858.8,973.0 859.5,973.2 860.2,970.5 861.0,974.1 861.8,971.2 862.5,976.4 863.2,970.3 864.0,975.0 864.8,973.2 865.5,972.2 866.2,970.1 867.0,972.7 867.8,971.2 868.5,973.6 869.2,972.3 870.0,973.4 870.8,971.5 871.5,971.2 872.2,969.5 873.0,971.8 873.8,968.3 874.5,973.3 875.2,968.4 876.0,969.5 876.8,967.2 877.5,970.6 878.2,967.2 879.0,969.8 879.8,967.9 880.5,968.8 881.2,965.5 882.0,967.0 882.8,959.7 883.5,968.3 884.2,965.7 885.0,968.1 885.8,964.6 886.5,966.8 887.2,965.7 888.0,966.3 888.8,964.9 889.5,963.6 890.2,963.1 891.0,968.9 891.8,967.4 892.5,968.9 893.2,967.7 894.0,971.3 894.8,970.1 895.5,971.7 896.2,971.4 897.0,973.8 897.8,973.1 898.5,976.1 899.2,973.4 900.0,979.2 900.8,975.8 901.5,977.7 902.2,975.4 903.0,977.9 903.8,975.1 904.5,976.5 905.2,974.9 906.0,979.5 906.8,976.6 907.5,979.1 908.2,976.7 909.0,979.8 909.8,976.9 910.5,981.4 911.2,977.7 912.0,980.2 912.8,978.7 913.5,980.6 914.2,977.2 915.0,980.0 915.8,978.7 916.5,982.6 917.2,976.2 918.0,980.9 918.8,979.7 919.5,981.1 920.2,979.8 921.0,981.0 921.8,979.0 922.5,979.7 923.2,978.4 924.0,984.3 924.8,977.9 925.5,981.7 926.2,981.0 927.0,981.0 927.8,977.5 928.5,982.2 929.2,979.8 930.0,981.8 930.8,978.7 931.5,980.2 932.2,976.5 933.0,982.0 933.8,979.7 934.5,982.7 935.2,981.4 936.0,980.9 936.8,979.5 937.5,981.6 938.2,979.0 939.0,982.9 939.8,981.8 940.5,981.7 941.2,978.4 942.0,981.9 942.8,978.6 943.5,982.5 944.2,979.6 945.0,984.0 945.8,980.3 946.5,983.3 947.2,981.2 948.0,982.8 948.8,979.1 949.5,981.8 950.2,980.5 951.0,982.4 951.8,980.9 952.5,982.3 953.2,979.9 954.0,982.3 954.8,978.8 955.5,981.0 956.2,979.5 957.0,984.0 957.8,980.5 958.5,982.1 959.2,980.2 960.0,986.3 960.8,982.9 961.5,983.7 962.2,980.3 963.0,982.2 963.8,978.7 964.5,982.5 965.2,980.0 966.0,982.1 966.8,981.0 967.5,982.4 968.2,980.7 969.0,982.5 969.8,980.6 970.5,982.9 971.2,980.1 972.0,981.6 972.8,979.7 973.5,982.6 974.2,980.3 975.0,984.0 975.8,982.0 976.5,981.2 977.2,978.4 978.0,980.3 978.8,979.0 979.5,981.7 980.2,979.7 981.0,982.9 981.8,979.3 982.5,982.0 983.2,978.6 984.0,981.7 984.8,979.3 985.5,980.5 986.2,977.2 987.0,979.9 987.8,976.8 988.5,980.2 989.2,977.9 990.0,979.4 990.8,978.3 991.5,981.4 992.2,977.8 993.0,981.0 993.8,977.2 994.5,978.1 995.2,971.5 996.0,979.0 996.8,975.6 997.5,978.7 998.2,971.4 999.0,974.6 999.8,970.8 1000.5,975.9 1001.2,972.9 1002.0,974.4 1002.8,969.4 1003.5,971.0 1004.2,967.6 1005.0,966.8 1005.8,964.4 1006.5,964.6 1007.2,961.7 1008.0,964.5 1008.8,957.0 1009.5,958.3 1010.2,953.9 1011.0,957.3 1011.8,953.6 1012.5,955.7 1013.2,952.5 1014.0,953.6 1014.8,952.2 1015.5,954.8 1016.2,954.0 1017.0,957.9 1017.8,955.7 1018.5,959.5 1019.2,957.5 1020.0,962.0 1020.8,961.6 1021.5,965.1 1022.2,962.9 1023.0,964.8 1023.8,962.5 1024.5,962.1 1025.2,959.2 1026.0,959.5 1026.8,956.5 1027.5,958.2 1028.2,955.7 1029.0,955.0 1029.8,950.6 1030.5,952.9 1031.2,951.1 1032.0,953.7 1032.8,948.8 1033.5,951.0 1034.2,949.4 1035.0,949.9 1035.8,947.6 1036.5,949.8 1037.2,946.6 1038.0,947.7 1038.8,946.6 1039.5,949.1 1040.2,946.6 1041.0,950.1 1041.8,948.2 1042.5,949.2 1043.2,947.8 1044.0,952.2 1044.8,951.3 1045.5,956.1 1046.2,954.7 1047.0,960.3 1047.8,960.3 1048.5,962.7 1049.2,962.8 1050.0,967.7 1050.8,966.0 1051.5,969.0 1052.2,968.7 1053.0,969.7 1053.8,967.2 1054.5,971.7 1055.2,968.9 1056.0,971.2 1056.8,969.3 1057.5,974.5 1058.2,973.5 1059.0,975.3 1059.8,973.6 1060.5,976.1 1061.2,974.2 1062.0,977.3 1062.8,974.9 1063.5,978.3 1064.2,975.0 1065.0,977.9 1065.8,976.2 1066.5,978.3 1067.2,977.3 1068.0,980.1 1068.8,978.7 1069.5,979.3 1070.2,975.8 1071.0,978.2 1071.8,977.0 1072.5,979.8 1073.2,978.5 1074.0,981.1 1074.8,980.5 1075.5,981.3 1076.2,978.8 1077.0,980.8 1077.8,978.7 1078.5,982.7 1079.2,979.5 1080.0,981.8 1080.8,979.2 1081.5,981.1 1082.2,975.6 1083.0,980.9 1083.8,978.0 1084.5,979.4 1085.2,977.3 1086.0,981.3 1086.8,979.7 1087.5,980.7 1088.2,980.0 1089.0,982.4 1089.8,980.5 1090.5,983.7 1091.2,983.0 1092.0,981.0 1092.8,979.6 1093.5,982.0 1094.2,980.1 1095.0,981.7 1095.8,979.2 1096.5,978.5 1097.2,976.4 1098.0,980.2 1098.8,978.7 1099.5,980.7 1100.2,977.4 1101.0,980.7 1101.8,978.8 1102.5,979.0 1103.2,977.0 1104.0,977.8 1104.8,976.2 1105.5,979.3 1106.2,978.1 1107.0,979.2 1107.8,975.8 1108.5,977.2 1109.2,974.8 1110.0,976.9 1110.8,974.2 1111.5,977.3 1112.2,973.6 1113.0,979.7 1113.8,972.5 1114.5,977.7 1115.2,974.9 1116.0,974.7 1116.8,970.9 1117.5,976.6 1118.2,974.1 1119.0,975.8 1119.8,972.4 1120.5,975.8 1121.2,974.0 1122.0,977.0 1122.8,975.9 1123.5,976.1 1124.2,974.4 1125.0,978.8 1125.8,978.1 1126.5,977.7 1127.2,976.2 1128.0,979.2 1128.8,978.1 1129.5,979.8 1130.2,978.0 1131.0,982.8 1131.8,982.2 1132.5,984.0 1133.2,982.3 1134.0,983.9 1134.8,981.7 1135.5,984.9 1136.2,981.4 1137.0,984.3 1137.8,980.6 1138.5,986.7 1139.2,984.0 1140.0,986.1 1140.8,984.0 1141.5,985.9 1142.2,982.6 1143.0,984.3 1143.8,980.2 1144.5,982.5 1145.2,978.9 1146.0,980.6 1146.8,978.0 1147.5,979.6 1148.2,975.1 1149.0,973.6 1149.8,970.4 1150.5,974.0 1151.2,970.6 1152.0,976.5 1152.8,975.0 1153.5,979.7 1154.2,978.5 1155.0,983.4 1155.8,983.3 1156.5,984.4 1157.2,982.0 1158.0,984.5 1158.8,983.3 1159.5,986.2 1160.2,983.8 1161.0,985.4 1161.8,981.7 1162.5,984.5 1163.2,980.1 1164.0,981.2 1164.8,979.2 1165.5,980.0 1166.2,976.1 1167.0,981.3 1167.8,979.7 1168.5,978.5 1169.2,976.3 1170.0,977.0 1170.8,975.1 1171.5,979.0 1172.2,974.8 1173.0,974.8 1173.8,973.5 1174.5,974.8 1175.2,971.5 1176.0,975.1 1176.8,972.8 1177.5,976.3 1178.2,973.7 1179.0,976.6 1179.8,976.2 1180.5,978.6 1181.2,977.1 1182.0,981.7 1182.8,977.4 1183.5,980.0 1184.2,978.8 1185.0,981.8 1185.8,979.4 1186.5,980.9 1187.2,980.2 1188.0,981.3 1188.8,979.6 1189.5,983.4 1190.2,980.9 1191.0,983.2 1191.8,981.9 1192.5,987.9 1193.2,981.3 1194.0,984.7 1194.8,982.4 1195.5,984.1 1196.2,980.7 1197.0,985.7 1197.8,982.4 1198.5,984.7 1199.2,981.8 1200.0,987.2 1200.8,983.4 1201.5,982.4 1202.2,980.8 1203.0,984.0 1203.8,981.4 1204.5,983.2 1205.2,982.0 1206.0,984.9 1206.8,981.8 1207.5,984.6 1208.2,981.2 1209.0,984.6 1209.8,977.5 1210.5,981.8 1211.2,979.3 1212.0,984.5 1212.8,980.8 1213.5,984.9 1214.2,982.9 1215.0,984.6 1215.8,982.6 1216.5,982.8 1217.2,979.6 1218.0,983.6 1218.8,979.7 1219.5,980.2 1220.2,979.0 1221.0,979.6 1221.8,977.0 1222.5,983.0 1223.2,978.5 1224.0,980.1 1224.8,979.1 1225.5,978.6 1226.2,977.4 1227.0,979.4 1227.8,976.0 1228.5,982.8 1229.2,975.5 1230.0,979.8 1230.8,977.5 1231.5,979.7 1232.2,977.0 1233.0,981.3 1233.8,977.8 1234.5,981.7 1235.2,978.0 1236.0,980.5 1236.8,979.6 1237.5,983.3 1238.2,977.2 1239.0,983.9 1239.8,981.1 1240.5,982.5 1241.2,979.8 1242.0,981.5 1242.8,979.7 1243.5,985.7 1244.2,982.6 1245.0,984.3 1245.8,983.0 1246.5,985.6 1247.2,980.5 1248.0,983.3 1248.8,981.7 1249.5,984.4 1250.2,981.5 1251.0,983.0 1251.8,979.5 1252.5,984.6 1253.2,981.3 1254.0,984.1 1254.8,982.5 1255.5,984.2 1256.2,981.5 1257.0,984.0 1257.8,983.0 1258.5,982.7 1259.2,980.6 1260.0,982.8 1260.8,980.6 1261.5,980.0 1262.2,976.8 1263.0,979.4 1263.8,977.8 1264.5,977.5 1265.2,975.4 1266.0,978.3 1266.8,970.4 1267.5,974.7 1268.2,973.2 1269.0,974.2 1269.8,971.6 1270.5,972.1 1271.2,969.0 1272.0,972.0 1272.8,968.8 1273.5,967.8 1274.2,965.0 1275.0,967.6 1275.8,963.3 1276.5,964.3 1277.2,958.9 1278.0,958.4 1278.8,954.0 1279.5,959.4 1280.2,950.5 1281.0,949.8 1281.8,947.1 1282.5,950.9 1283.2,943.7 1284.0,945.2 1284.8,943.4 1285.5,945.0 1286.2,942.5 1287.0,942.0 1287.8,938.8 1288.5,942.7 1289.2,939.5 1290.0,943.8 1290.8,942.8 1291.5,948.7 1292.2,945.0 1293.0,951.0 1293.8,951.3 1294.5,955.6 1295.2,957.2 1296.0,960.2 1296.8,961.5 1297.5,965.3 1298.2,965.3 1299.0,971.5 1299.8,966.2 1300.5,973.0 1301.2,969.9 1302.0,973.5 1302.8,969.8 1303.5,973.8 1304.2,967.7 1305.0,968.9 1305.8,966.5 1306.5,969.8 1307.2,966.5 1308.0,965.5 1308.8,964.8 1309.5,970.0 1310.2,968.0 1311.0,969.5 1311.8,968.6 1312.5,973.2 1313.2,971.3 1314.0,972.7 1314.8,972.7 1315.5,974.3 1316.2,974.1 1317.0,977.1 1317.8,973.6 1318.5,978.7 1319.2,976.2 1320.0,976.6 1320.8,972.9 1321.5,977.7 1322.2,973.6 1323.0,975.3 1323.8,973.7 1324.5,975.0 1325.2,972.6 1326.0,974.7 1326.8,970.1 1327.5,971.9 1328.2,970.2 1329.0,969.6 1329.8,965.0 1330.5,969.5 1331.2,965.0 1332.0,968.1 1332.8,964.3 1333.5,966.0 1334.2,961.5 1335.0,965.2 1335.8,961.6 1336.5,961.2 1337.2,959.7 1338.0,962.3 1338.8,959.7 1339.5,958.7 1340.2,957.0 1341.0,959.0 1341.8,953.8 1342.5,959.1 1343.2,952.9 1344.0,956.3 1344.8,955.3 1345.5,955.9 1346.2,953.5 1347.0,957.4 1347.8,958.2 1348.5,963.9 1349.2,963.3 1350.0,964.9 1350.8,963.3 1351.5,972.2 1352.2,972.8 1353.0,976.3 1353.8,974.3 1354.5,975.2 1355.2,972.7 1356.0,978.1 1356.8,975.7 1357.5,977.2 1358.2,975.3 1359.0,977.8 1359.8,975.2 1360.5,975.3 1361.2,971.2 1362.0,976.1 1362.8,972.7 1363.5,975.5 1364.2,971.3 1365.0,973.5 1365.8,969.2 1366.5,970.3 1367.2,966.7 1368.0,967.8 1368.8,962.5 1369.5,960.5 1370.2,957.0 1371.0,960.3 1371.8,955.5 1372.5,955.8 1373.2,950.6 1374.0,951.7 1374.8,947.5 1375.5,947.3 1376.2,941.2 1377.0,942.6 1377.8,936.3 1378.5,937.0 1379.2,934.3 1380.0,935.5 1380.8,933.4 1381.5,930.8 1382.2,928.8 1383.0,933.1 1383.8,933.2 1384.5,934.6 1385.2,932.3 1386.0,936.8 1386.8,936.2 1387.5,940.8 1388.2,943.2 1389.0,951.4 1389.8,952.6 1390.5,956.6 1391.2,955.9 1392.0,964.9 1392.8,964.1 1393.5,969.4 1394.2,968.4 1395.0,972.5 1395.8,971.6 1396.5,975.0 1397.2,974.8 1398.0,978.6 1398.8,978.8 1399.5,981.4 1400.2,979.2 1401.0,982.7 1401.8,980.9 1402.5,982.3 1403.2,979.3 1404.0,980.3 1404.8,979.1 1405.5,981.9 1406.2,978.4 1407.0,978.1 1407.8,976.5 1408.5,980.7 1409.2,976.5 1410.0,977.8 1410.8,975.8 1411.5,975.9 1412.2,973.1 1413.0,975.4 1413.8,971.6 1414.5,974.7 1415.2,971.4 1416.0,971.0 1416.8,969.4 1417.5,974.8 1418.2,970.7 1419.0,974.6 1419.8,968.2 1420.5,970.1 1421.2,966.7 1422.0,970.2 1422.8,967.6 1423.5,971.0 1424.2,969.5 1425.0,971.2 1425.8,965.4 1426.5,967.2 1427.2,965.3 1428.0,966.4 1428.8,963.0 1429.5,966.0 1430.2,964.3 1431.0,969.9 1431.8,967.3 1432.5,969.2 1433.2,967.2 1434.0,968.2 1434.8,966.3 1435.5,971.8 1436.2,969.5 1437.0,972.1 1437.8,968.9 1438.5,971.4 1439.2,971.0 1440.0,973.4 1440.8,971.4 1441.5,974.7 1442.2,972.6 1443.0,978.7 1443.8,975.9 1444.5,976.0 1445.2,974.7 1446.0,978.1 1446.8,974.9 1447.5,980.0 1448.2,976.8 1449.0,978.9 1449.8,977.2 1450.5,976.2 1451.2,972.8 1452.0,978.4 1452.8,975.9 1453.5,976.1 1454.2,974.5 1455.0,972.7 1455.8,971.1 1456.5,977.3 1457.2,973.7 1458.0,974.7 1458.8,968.6 1459.5,975.3 1460.2,972.8 1461.0,973.3 1461.8,970.5 1462.5,972.8 1463.2,969.5 1464.0,975.2 1464.8,972.9 1465.5,975.3 1466.2,971.7 1467.0,974.4 1467.8,971.4 1468.5,974.4 1469.2,972.1 1470.0,974.8 1470.8,971.0 1471.5,973.9 1472.2,971.5 1473.0,972.4 1473.8,971.3 1474.5,974.4 1475.2,973.1 1476.0,974.8 1476.8,971.5 1477.5,974.6 1478.2,971.3 1479.0,973.6 1479.8,971.7 1480.5,974.0 1481.2,972.2 1482.0,972.5 1482.8,971.2 1483.5,975.1 1484.2,972.0 1485.0,975.2 1485.8,971.8 1486.5,980.3 1487.2,973.4 1488.0,976.0 1488.8,974.3 1489.5,978.0 1490.2,974.9 1491.0,978.2 1491.8,977.2 1492.5,979.7 1493.2,979.2 1494.0,980.9 1494.8,978.8 1495.5,980.7 1496.2,979.1 1497.0,983.6 1497.8,981.2 1498.5,980.0 1499.2,978.5 1500.0,979.3 1500.8,977.2 1501.5,980.9 1502.2,977.8 1503.0,975.1 1503.8,971.9 1504.5,975.6 1505.2,971.5 1506.0,972.7 1506.8,968.7 1507.5,968.5 1508.2,966.0 1509.0,968.3 1509.8,965.7 1510.5,968.9 1511.2,967.1 1512.0,966.1 1512.8,965.4 1513.5,969.1 1514.2,968.0 1515.0,972.3 1515.8,970.7 1516.5,973.7 1517.2,971.2 1518.0,976.6 1518.8,975.0 1519.5,978.5 1520.2,976.5 1521.0,980.9 1521.8,978.6 1522.5,983.1 1523.2,980.5 1524.0,985.3 1524.8,982.7 1525.5,987.1 1526.2,986.6 1527.0,988.2 1527.8,987.0 1528.5,991.3 1529.2,990.1 1530.0,991.1 1530.8,988.2 1531.5,990.8 1532.2,988.8 1533.0,994.2 1533.8,990.8 1534.5,992.6 1535.2,987.8 1536.0,990.1 1536.8,989.5 1537.5,992.6 1538.2,989.8 1539.0,991.0 1539.8,989.1 1540.5,992.6 1541.2,991.6 1542.0,994.4 1542.8,992.1 1543.5,993.0 1544.2,992.2 1545.0,992.3 1545.8,990.9 1546.5,992.4 1547.2,991.7 1548.0,993.4 1548.8,992.4 1549.5,995.2 1550.2,992.4 1551.0,993.3 1551.8,991.0 1552.5,994.1 1553.2,990.4 1554.0,994.6 1554.8,993.5 1555.5,993.8 1556.2,992.6 1557.0,993.9 1557.8,993.0 1558.5,994.4 1559.2,993.1 1560.0,993.2 1560.8,991.6 1561.5,994.2 1562.2,992.1 1563.0,995.3 1563.8,993.9 1564.5,993.9 1565.2,992.6 1566.0,994.2 1566.8,992.3 1567.5,994.7 1568.2,993.0 1569.0,995.6 1569.8,992.3 1570.5,997.6 1571.2,995.1 1572.0,993.7 1572.8,991.4 1573.5,994.7 1574.2,992.5 1575.0,997.0 1575.8,994.5 1576.5,995.4 1577.2,991.5 1578.0,994.8 1578.8,992.9 1579.5,993.0 1580.2,990.4 1581.0,995.1 1581.8,993.7 1582.5,995.2 1583.2,993.3 1584.0,994.7 1584.8,993.6 1585.5,994.7 1586.2,991.2 1587.0,995.0 1587.8,992.1 1588.5,994.5 1589.2,991.4 1590.0,995.5 1590.8,992.4 1591.5,993.5 1592.2,992.3 1593.0,995.1 1593.8,992.3 1594.5,991.8 1595.2,990.5 1596.0,993.5 1596.8,990.8 1597.5,989.7 1598.2,988.5 1599.0,992.7 1599.8,991.4 1600.5,993.5 1601.2,992.3 1602.0,992.8 1602.8,990.3 1603.5,995.0 1604.2,993.8 1605.0,991.4 1605.8,989.5 1606.5,992.2 1607.2,990.1 1608.0,992.3 1608.8,988.5 1609.5,992.4 1610.2,989.2 1611.0,992.0 1611.8,989.4 1612.5,992.6 1613.2,986.5 1614.0,990.8 1614.8,989.3 1615.5,994.3 1616.2,992.4 1617.0,991.6 1617.8,989.9 1618.5,993.4 1619.2,990.6 1620.0,990.1 1620.8,989.0 1621.5,992.8 1622.2,989.1 1623.0,992.6 1623.8,990.9 1624.5,992.8 1625.2,989.4 1626.0,992.5 1626.8,989.3 1627.5,992.5 1628.2,990.4 1629.0,992.2 1629.8,991.6 1630.5,993.5 1631.2,992.5 1632.0,994.5 1632.8,992.7 1633.5,992.4 1634.2,989.4 1635.0,991.3 1635.8,989.1 1636.5,994.2 1637.2,990.7 1638.0,994.5 1638.8,991.1 1639.5,994.6 1640.2,992.9 1641.0,996.1 1641.8,992.4 1642.5,993.6 1643.2,991.3 1644.0,996.1 1644.8,995.2 1645.5,994.5 1646.2,992.9 1647.0,992.4 1647.8,990.5 1648.5,995.6 1649.2,993.6 1650.0,994.5 1650.8,993.2 1651.5,995.5 1652.2,991.9 1653.0,992.2 1653.8,990.3 1654.5,994.0 1655.2,990.7 1656.0,993.3 1656.8,991.6 1657.5,993.8 1658.2,989.5 1659.0,993.2 1659.8,991.1 1660.5,994.0 1661.2,990.6 1662.0,993.0 1662.8,990.8 1663.5,991.9 1664.2,990.2 1665.0,990.7 1665.8,987.2 1666.5,992.3 1667.2,989.6 1668.0,990.2 1668.8,989.3 1669.5,991.9 1670.2,990.9 1671.0,992.0 1671.8,990.5 1672.5,992.3 1673.2,989.4 1674.0,991.4 1674.8,989.7 1675.5,995.6 1676.2,992.6 1677.0,994.8 1677.8,992.6 1678.5,996.4 1679.2,993.3 1680.0,997.6 1680.8,994.5 1681.5,994.4 1682.2,992.2 1683.0,993.8 1683.8,992.2 1684.5,996.3 1685.2,994.3 1686.0,997.8 1686.8,993.0 1687.5,998.5 1688.2,990.9 1689.0,995.2 1689.8,993.6 1690.5,996.2 1691.2,990.2 1692.0,995.7 1692.8,994.1 1693.5,995.5 1694.2,992.8 1695.0,997.0 1695.8,994.0 1696.5,996.4 1697.2,995.7 1698.0,995.9 1698.8,992.9 1699.5,997.2 1700.2,993.8 1701.0,997.0 1701.8,993.4 1702.5,997.5 1703.2,994.1 1704.0,998.7 1704.8,994.9 1705.5,996.4 1706.2,995.2 1707.0,996.8 1707.8,995.0 1708.5,997.8 1709.2,994.3 1710.0,997.5 1710.8,991.9 1711.5,996.4 1712.2,994.1 1713.0,996.0 1713.8,995.3 1714.5,997.2 1715.2,996.3 1716.0,998.0 1716.8,995.6 1717.5,999.7 1718.2,996.3 1719.0,995.5 1719.8,992.9 1720.5,996.3 1721.2,994.5 1722.0,993.9 1722.8,993.2 1723.5,995.6 1724.2,994.2 1725.0,995.0 1725.8,992.3 1726.5,997.6 1727.2,996.0 1728.0,997.6 1728.8,995.2 1729.5,994.7 1730.2,993.9 1731.0,997.1 1731.8,994.7 1732.5,997.4 1733.2,995.3 1734.0,997.9 1734.8,997.1 1735.5,998.1 1736.2,994.8 1737.0,997.2 1737.8,994.1 1738.5,995.9 1739.2,994.9 1740.0,997.5 1740.8,994.9 1741.5,997.5 1742.2,994.1 1743.0,996.1 1743.8,993.8 1744.5,995.7 1745.2,992.6 1746.0,997.8 1746.8,995.6 1747.5,995.6 1748.2,993.7 1749.0,995.9 1749.8,994.4 1750.5,997.9 1751.2,994.7 1752.0,996.1 1752.8,994.5 1753.5,998.3 1754.2,994.9 1755.0,994.4 1755.8,993.5 1756.5,997.1 1757.2,994.9 1758.0,994.6 1758.8,992.5 1759.5,995.0" fill="none" stroke="#ff0000" stroke-width="3.8" stroke-linejoin="round" stroke-linecap="butt"/>
<polyline points="129.0,738.4 129.8,736.1 130.5,739.1 131.2,735.2 132.0,737.2 132.8,735.7 133.5,737.5 134.2,735.4 135.0,735.2 135.8,732.2 136.5,736.1 137.2,734.3 138.0,737.5 138.8,734.5 139.5,738.9 140.2,736.1 141.0,739.8 141.8,735.8 142.5,738.3 143.2,734.7 144.0,735.9 144.8,734.0 145.5,738.4 146.2,735.6 147.0,738.9 147.8,736.5 148.5,738.7 149.2,736.2 150.0,736.9 150.8,734.3 151.5,736.4 152.2,734.1 153.0,735.9 153.8,735.0 154.5,735.9 155.2,734.7 156.0,738.7 156.8,737.1 157.5,739.1 158.2,735.1 159.0,743.3 159.8,735.5 160.5,740.3 161.2,737.3 162.0,740.0 162.8,736.2 163.5,737.7 164.2,734.3 165.0,739.2 165.8,736.3 166.5,738.3 167.2,736.7 168.0,735.9 168.8,734.5 169.5,735.9 170.2,735.0 171.0,738.1 171.8,734.2 172.5,739.6 173.2,737.8 174.0,738.7 174.8,734.7 175.5,735.9 176.2,735.1 177.0,738.7 177.8,736.1 178.5,740.1 179.2,736.1 180.0,736.4 180.8,735.5 181.5,741.9 182.2,737.8 183.0,738.3 183.8,735.0 184.5,739.8 185.2,738.1 186.0,742.6 186.8,734.5 187.5,738.6 188.2,735.1 189.0,738.5 189.8,736.8 190.5,739.8 191.2,735.9 192.0,738.2 192.8,736.7 193.5,740.7 194.2,737.0 195.0,739.8 195.8,736.2 196.5,737.4 197.2,734.3 198.0,739.4 198.8,736.8 199.5,737.5 200.2,735.7 201.0,738.4 201.8,737.1 202.5,739.4 203.2,737.2 204.0,739.1 204.8,736.6 205.5,741.8 206.2,736.7 207.0,739.3 207.8,736.5 208.5,739.0 209.2,735.7 210.0,741.1 210.8,739.0 211.5,740.0 212.2,737.7 213.0,739.4 213.8,736.1 214.5,738.9 215.2,736.9 216.0,737.9 216.8,736.8 217.5,739.8 218.2,736.1 219.0,737.3 219.8,736.0 220.5,740.5 221.2,739.5 222.0,740.9 222.8,737.7 223.5,736.8 224.2,733.1 225.0,738.2 225.8,734.8 226.5,738.2 227.2,737.0 228.0,738.3 228.8,735.3 229.5,738.7 230.2,731.2 231.0,740.4 231.8,736.4 232.5,737.3 233.2,734.7 234.0,740.1 234.8,736.4 235.5,738.9 236.2,736.8 237.0,739.5 237.8,738.5 238.5,736.5 239.2,735.1 240.0,740.8 240.8,737.3 241.5,736.0 242.2,734.0 243.0,740.3 243.8,736.1 244.5,739.5 245.2,735.2 246.0,738.3 246.8,734.4 247.5,735.5 248.2,732.8 249.0,738.3 249.8,735.9 250.5,737.6 251.2,733.6 252.0,733.6 252.8,730.7 253.5,731.3 254.2,729.8 255.0,736.0 255.8,729.0 256.5,732.9 257.2,730.8 258.0,735.2 258.8,731.5 259.5,732.8 260.2,731.5 261.0,732.9 261.8,730.9 262.5,734.1 263.2,726.7 264.0,733.6 264.8,729.9 265.5,731.0 266.2,727.7 267.0,730.5 267.8,724.8 268.5,728.2 269.2,723.9 270.0,730.8 270.8,727.5 271.5,728.3 272.2,726.1 273.0,726.1 273.8,724.4 274.5,727.0 275.2,724.4 276.0,727.9 276.8,723.6 277.5,727.3 278.2,725.7 279.0,724.4 279.8,720.4 280.5,725.7 281.2,722.1 282.0,725.5 282.8,723.8 283.5,724.6 284.2,722.5 285.0,724.4 285.8,721.9 286.5,725.1 287.2,722.1 288.0,720.1 288.8,717.8 289.5,719.8 290.2,715.8 291.0,719.9 291.8,715.8 292.5,717.1 293.2,713.2 294.0,712.5 294.8,708.6 295.5,711.2 296.2,703.7 297.0,706.5 297.8,702.5 298.5,706.4 299.2,704.8 300.0,705.6 300.8,703.7 301.5,703.2 302.2,701.5 303.0,704.2 303.8,701.2 304.5,706.0 305.2,697.9 306.0,704.9 306.8,702.5 307.5,703.2 308.2,702.1 309.0,705.4 309.8,703.3 310.5,705.4 311.2,703.7 312.0,704.6 312.8,702.4 313.5,706.9 314.2,703.0 315.0,707.1 315.8,703.3 316.5,707.4 317.2,705.1 318.0,707.6 318.8,701.5 319.5,707.4 320.2,706.2 321.0,710.5 321.8,708.4 322.5,710.4 323.2,708.3 324.0,711.0 324.8,708.3 325.5,712.9 326.2,711.5 327.0,717.1 327.8,715.7 328.5,716.0 329.2,713.1 330.0,716.5 330.8,714.7 331.5,720.4 332.2,717.0 333.0,719.5 333.8,716.8 334.5,719.2 335.2,715.9 336.0,720.0 336.8,716.7 337.5,722.0 338.2,720.2 339.0,724.7 339.8,717.3 340.5,725.8 341.2,723.0 342.0,724.0 342.8,721.5 343.5,723.1 344.2,722.3 345.0,725.3 345.8,723.1 346.5,725.3 347.2,722.7 348.0,727.7 348.8,726.3 349.5,725.4 350.2,723.3 351.0,728.1 351.8,725.4 352.5,726.0 353.2,724.1 354.0,727.2 354.8,725.3 355.5,724.2 356.2,721.8 357.0,724.4 357.8,722.8 358.5,720.3 359.2,718.1 360.0,721.7 360.8,719.1 361.5,720.3 362.2,718.2 363.0,721.8 363.8,719.8 364.5,719.7 365.2,717.2 366.0,720.5 366.8,717.1 367.5,717.1 368.2,715.8 369.0,716.2 369.8,714.0 370.5,717.8 371.2,714.1 372.0,718.6 372.8,715.6 373.5,715.6 374.2,714.3 375.0,717.4 375.8,716.1 376.5,716.2 377.2,712.3 378.0,715.6 378.8,713.1 379.5,716.0 380.2,713.5 381.0,716.0 381.8,715.0 382.5,715.9 383.2,715.5 384.0,717.9 384.8,716.2 385.5,717.6 386.2,717.4 387.0,719.4 387.8,718.3 388.5,724.1 389.2,723.4 390.0,728.2 390.8,721.0 391.5,724.7 392.2,724.5 393.0,725.6 393.8,725.5 394.5,726.4 395.2,725.0 396.0,730.2 396.8,729.2 397.5,731.5 398.2,727.3 399.0,735.7 399.8,732.0 400.5,731.0 401.2,729.7 402.0,735.8 402.8,732.2 403.5,737.5 404.2,734.7 405.0,735.4 405.8,734.6 406.5,739.6 407.2,739.2 408.0,741.2 408.8,738.2 409.5,742.6 410.2,739.6 411.0,740.1 411.8,739.4 412.5,744.2 413.2,740.5 414.0,744.8 414.8,738.7 415.5,743.2 416.2,735.4 417.0,738.9 417.8,730.6 418.5,727.5 419.2,723.1 420.0,720.8 420.8,717.3 421.5,724.6 422.2,726.0 423.0,734.7 423.8,736.1 424.5,739.9 425.2,742.1 426.0,748.6 426.8,747.7 427.5,749.7 428.2,747.9 429.0,751.8 429.8,749.3 430.5,749.7 431.2,746.1 432.0,751.1 432.8,748.1 433.5,753.0 434.2,750.8 435.0,753.4 435.8,750.5 436.5,751.6 437.2,749.9 438.0,755.0 438.8,754.0 439.5,755.0 440.2,754.1 441.0,754.2 441.8,752.8 442.5,754.3 443.2,750.7 444.0,757.2 444.8,755.2 445.5,756.7 446.2,753.8 447.0,758.1 447.8,756.3 448.5,759.7 449.2,756.3 450.0,759.3 450.8,753.6 451.5,757.6 452.2,756.2 453.0,759.3 453.8,757.5 454.5,759.0 455.2,755.8 456.0,756.1 456.8,754.9 457.5,760.6 458.2,757.4 459.0,759.4 459.8,758.3 460.5,759.6 461.2,756.2 462.0,761.0 462.8,757.9 463.5,759.1 464.2,757.8 465.0,759.7 465.8,757.5 466.5,761.7 467.2,758.7 468.0,758.3 468.8,756.9 469.5,758.1 470.2,756.7 471.0,760.0 471.8,758.7 472.5,758.5 473.2,757.5 474.0,762.8 474.8,758.9 475.5,759.6 476.2,758.2 477.0,759.0 477.8,756.4 478.5,760.1 479.2,758.8 480.0,758.0 480.8,756.4 481.5,763.6 482.2,759.8 483.0,760.7 483.8,759.2 484.5,761.3 485.2,760.2 486.0,762.3 486.8,758.5 487.5,761.1 488.2,758.5 489.0,759.2 489.8,756.8 490.5,762.0 491.2,757.9 492.0,759.3 492.8,757.1 493.5,759.1 494.2,755.5 495.0,756.5 495.8,754.2 496.5,760.3 497.2,757.8 498.0,758.3 498.8,754.6 499.5,757.7 500.2,753.1 501.0,753.2 501.8,751.9 502.5,756.1 503.2,753.8 504.0,754.4 504.8,749.8 505.5,753.0 506.2,750.1 507.0,750.0 507.8,746.0 508.5,746.5 509.2,742.0 510.0,745.2 510.8,739.8 511.5,737.9 512.2,733.8 513.0,736.1 513.8,728.2 514.5,732.2 515.2,728.3 516.0,729.4 516.8,726.5 517.5,727.3 518.2,725.4 519.0,727.2 519.8,719.6 520.5,723.4 521.2,722.5 522.0,725.0 522.8,723.7 523.5,728.0 524.2,723.2 525.0,728.5 525.8,729.5 526.5,735.9 527.2,736.5 528.0,741.2 528.8,740.5 529.5,747.4 530.2,747.1 531.0,755.1 531.8,753.2 532.5,758.8 533.2,752.0 534.0,757.6 534.8,754.5 535.5,760.3 536.2,757.2 537.0,759.1 537.8,758.0 538.5,762.2 539.2,758.2 540.0,760.8 540.8,756.9 541.5,762.1 542.2,756.8 543.0,759.7 543.8,758.3 544.5,764.8 545.2,760.4 546.0,765.2 546.8,761.3 547.5,764.6 548.2,762.1 549.0,763.4 549.8,761.8 550.5,764.6 551.2,760.8 552.0,763.7 552.8,761.4 553.5,765.0 554.2,762.7 555.0,764.0 555.8,762.4 556.5,763.1 557.2,761.7 558.0,765.8 558.8,764.4 559.5,767.3 560.2,763.0 561.0,765.2 561.8,764.3 562.5,765.0 563.2,763.2 564.0,765.6 564.8,762.0 565.5,765.7 566.2,763.3 567.0,768.5 567.8,760.9 568.5,764.1 569.2,761.9 570.0,766.7 570.8,761.2 571.5,766.9 572.2,759.5 573.0,766.9 573.8,764.8 574.5,763.9 575.2,761.4 576.0,764.9 576.8,760.4 577.5,764.1 578.2,761.4 579.0,764.7 579.8,762.8 580.5,763.7 581.2,760.3 582.0,766.5 582.8,763.3 583.5,763.8 584.2,762.6 585.0,760.2 585.8,757.6 586.5,762.4 587.2,760.7 588.0,762.3 588.8,759.4 589.5,759.9 590.2,756.0 591.0,759.8 591.8,757.2 592.5,758.8 593.2,757.2 594.0,757.8 594.8,755.4 595.5,758.6 596.2,755.1 597.0,758.2 597.8,755.9 598.5,756.2 599.2,755.2 600.0,759.1 600.8,752.9 601.5,756.3 602.2,752.7 603.0,758.9 603.8,755.1 604.5,757.6 605.2,754.2 606.0,759.6 606.8,758.2 607.5,762.1 608.2,759.3 609.0,762.1 609.8,759.6 610.5,759.6 611.2,757.7 612.0,760.6 612.8,759.7 613.5,760.2 614.2,759.2 615.0,762.6 615.8,759.3 616.5,760.5 617.2,758.8 618.0,761.1 618.8,758.2 619.5,762.3 620.2,759.5 621.0,761.4 621.8,757.9 622.5,764.7 623.2,757.8 624.0,760.7 624.8,758.0 625.5,758.4 626.2,756.4 627.0,757.0 627.8,753.9 628.5,755.2 629.2,752.8 630.0,755.9 630.8,751.7 631.5,752.8 632.2,749.2 633.0,750.9 633.8,747.2 634.5,751.5 635.2,747.2 636.0,747.2 636.8,742.8 637.5,745.0 638.2,738.8 639.0,741.5 639.8,736.2 640.5,739.5 641.2,733.7 642.0,731.8 642.8,723.9 643.5,720.1 644.2,710.6 645.0,700.5 645.8,677.2 646.5,653.9 647.2,613.7 648.0,572.2 648.8,514.7 649.5,468.8 650.2,433.4 651.0,464.0 651.8,508.0 652.5,566.9 653.2,611.4 654.0,652.3 654.8,677.5 655.5,696.4 656.2,707.2 657.0,722.5 657.8,730.2 658.5,741.0 659.2,743.6 660.0,750.2 660.8,750.2 661.5,753.7 662.2,753.1 663.0,761.8 663.8,759.4 664.5,761.8 665.2,760.4 666.0,761.7 666.8,760.8 667.5,764.0 668.2,760.6 669.0,764.0 669.8,760.8 670.5,766.5 671.2,762.9 672.0,764.5 672.8,762.8 673.5,762.8 674.2,761.5 675.0,764.4 675.8,762.5 676.5,767.3 677.2,766.4 678.0,767.7 678.8,765.3 679.5,768.0 680.2,764.6 681.0,766.2 681.8,762.7 682.5,766.6 683.2,765.8 684.0,767.7 684.8,765.8 685.5,766.5 686.2,764.6 687.0,768.3 687.8,764.2 688.5,767.5 689.2,765.7 690.0,768.1 690.8,764.6 691.5,766.2 692.2,764.7 693.0,766.1 693.8,764.5 694.5,764.5 695.2,761.5 696.0,765.4 696.8,762.6 697.5,766.6 698.2,763.8 699.0,766.8 699.8,765.4 700.5,765.8 701.2,762.1 702.0,766.7 702.8,762.9 703.5,764.1 704.2,762.3 705.0,763.1 705.8,760.1 706.5,764.0 707.2,761.8 708.0,763.1 708.8,761.2 709.5,761.7 710.2,757.2 711.0,759.9 711.8,756.7 712.5,759.0 713.2,757.3 714.0,757.7 714.8,754.8 715.5,757.3 716.2,755.0 717.0,756.8 717.8,747.8 718.5,754.6 719.2,751.8 720.0,751.0 720.8,747.2 721.5,749.8 722.2,744.1 723.0,742.3 723.8,739.2 724.5,742.8 725.2,737.1 726.0,737.7 726.8,732.4 727.5,735.9 728.2,729.2 729.0,724.8 729.8,717.0 730.5,715.5 731.2,707.9 732.0,708.9 732.8,700.7 733.5,699.6 734.2,687.4 735.0,683.6 735.8,673.8 736.5,674.7 737.2,665.9 738.0,663.0 738.8,656.0 739.5,653.2 740.2,646.0 741.0,643.3 741.8,636.5 742.5,633.3 743.2,629.3 744.0,627.6 744.8,624.8 745.5,629.8 746.2,626.0 747.0,624.9 747.8,622.0 748.5,627.8 749.2,628.9 750.0,632.6 750.8,635.4 751.5,642.4 752.2,644.5 753.0,653.4 753.8,656.3 754.5,664.9 755.2,670.7 756.0,680.3 756.8,686.1 757.5,694.9 758.2,696.6 759.0,705.4 759.8,708.3 760.5,715.2 761.2,717.9 762.0,722.0 762.8,721.7 763.5,726.8 764.2,726.6 765.0,733.2 765.8,733.4 766.5,735.9 767.2,735.5 768.0,736.8 768.8,735.9 769.5,736.3 770.2,734.2 771.0,740.8 771.8,736.1 772.5,738.6 773.2,733.6 774.0,732.6 774.8,728.7 775.5,732.3 776.2,727.0 777.0,724.6 777.8,719.9 778.5,720.2 779.2,716.5 780.0,716.0 780.8,713.6 781.5,714.9 782.2,710.7 783.0,712.6 783.8,707.5 784.5,711.2 785.2,709.9 786.0,710.1 786.8,706.7 787.5,712.3 788.2,709.7 789.0,713.3 789.8,712.7 790.5,716.9 791.2,715.5 792.0,719.4 792.8,718.5 793.5,726.7 794.2,723.0 795.0,731.9 795.8,731.4 796.5,738.0 797.2,733.4 798.0,738.8 798.8,737.6 799.5,743.5 800.2,744.0 801.0,747.0 801.8,746.0 802.5,751.1 803.2,748.6 804.0,752.4 804.8,752.3 805.5,754.1 806.2,751.7 807.0,758.4 807.8,751.0 808.5,756.4 809.2,751.8 810.0,755.0 810.8,748.3 811.5,751.1 812.2,748.0 813.0,750.7 813.8,747.7 814.5,748.0 815.2,745.7 816.0,749.2 816.8,746.8 817.5,750.5 818.2,747.1 819.0,746.0 819.8,738.4 820.5,748.2 821.2,744.5 822.0,748.5 822.8,745.1 823.5,748.8 824.2,747.8 825.0,749.6 825.8,748.6 826.5,749.2 827.2,749.0 828.0,754.2 828.8,751.5 829.5,755.4 830.2,753.9 831.0,758.5 831.8,755.7 832.5,760.1 833.2,757.9 834.0,761.3 834.8,758.4 835.5,766.0 836.2,763.3 837.0,761.8 837.8,760.9 838.5,764.6 839.2,762.4 840.0,763.5 840.8,763.1 841.5,766.2 842.2,764.9 843.0,769.6 843.8,767.2 844.5,768.4 845.2,765.7 846.0,767.2 846.8,766.0 847.5,767.9 848.2,765.0 849.0,770.0 849.8,768.2 850.5,768.8 851.2,767.0 852.0,771.9 852.8,767.9 853.5,769.8 854.2,767.3 855.0,770.3 855.8,767.6 856.5,770.4 857.2,769.2 858.0,769.7 858.8,766.4 859.5,772.2 860.2,771.3 861.0,769.6 861.8,768.4 862.5,772.5 863.2,769.0 864.0,773.0 864.8,769.7 865.5,774.9 866.2,772.7 867.0,772.2 867.8,770.9 868.5,773.3 869.2,770.9 870.0,772.1 870.8,768.6 871.5,771.6 872.2,769.4 873.0,771.0 873.8,769.3 874.5,773.0 875.2,768.8 876.0,771.4 876.8,763.8 877.5,770.8 878.2,766.2 879.0,771.8 879.8,769.2 880.5,766.9 881.2,761.5 882.0,763.0 882.8,758.6 883.5,760.7 884.2,752.1 885.0,750.2 885.8,744.7 886.5,744.6 887.2,739.0 888.0,737.4 888.8,735.6 889.5,738.7 890.2,740.1 891.0,742.7 891.8,746.0 892.5,752.9 893.2,755.1 894.0,761.7 894.8,763.1 895.5,767.1 896.2,765.2 897.0,770.5 897.8,767.7 898.5,773.0 899.2,765.8 900.0,774.1 900.8,767.5 901.5,770.1 902.2,768.6 903.0,771.0 903.8,767.1 904.5,774.5 905.2,772.8 906.0,773.0 906.8,772.0 907.5,774.6 908.2,771.0 909.0,778.3 909.8,774.7 910.5,776.0 911.2,773.9 912.0,775.2 912.8,773.9 913.5,774.3 914.2,772.6 915.0,776.9 915.8,773.0 916.5,775.5 917.2,774.4 918.0,777.7 918.8,771.3 919.5,777.1 920.2,776.3 921.0,777.4 921.8,774.5 922.5,777.6 923.2,774.1 924.0,775.6 924.8,772.8 925.5,774.8 926.2,774.1 927.0,777.2 927.8,776.3 928.5,776.9 929.2,774.5 930.0,778.2 930.8,771.5 931.5,776.6 932.2,775.4 933.0,776.7 933.8,774.7 934.5,777.2 935.2,773.2 936.0,775.9 936.8,775.2 937.5,778.8 938.2,774.7 939.0,777.0 939.8,775.6 940.5,775.6 941.2,774.2 942.0,778.7 942.8,771.4 943.5,778.4 944.2,774.4 945.0,776.4 945.8,773.1 946.5,776.6 947.2,775.8 948.0,776.6 948.8,775.3 949.5,776.5 950.2,772.4 951.0,774.4 951.8,771.8 952.5,776.7 953.2,773.3 954.0,777.8 954.8,774.2 955.5,777.3 956.2,774.6 957.0,779.0 957.8,775.9 958.5,777.7 959.2,774.0 960.0,779.4 960.8,772.0 961.5,778.2 962.2,774.1 963.0,775.9 963.8,774.4 964.5,779.3 965.2,776.2 966.0,778.3 966.8,771.4 967.5,775.1 968.2,773.7 969.0,776.2 969.8,773.4 970.5,778.4 971.2,775.3 972.0,776.7 972.8,772.5 973.5,775.3 974.2,773.2 975.0,776.8 975.8,774.9 976.5,778.1 977.2,774.8 978.0,776.3 978.8,772.4 979.5,777.1 980.2,774.2 981.0,775.0 981.8,772.7 982.5,777.9 983.2,774.5 984.0,774.0 984.8,771.9 985.5,775.7 986.2,771.7 987.0,774.4 987.8,772.0 988.5,773.7 989.2,770.7 990.0,774.4 990.8,771.4 991.5,775.4 992.2,771.4 993.0,772.7 993.8,769.4 994.5,775.4 995.2,772.5 996.0,772.9 996.8,769.8 997.5,772.4 998.2,769.2 999.0,772.1 999.8,765.3 1000.5,770.9 1001.2,766.5 1002.0,770.1 1002.8,767.3 1003.5,766.5 1004.2,763.3 1005.0,765.2 1005.8,760.1 1006.5,761.3 1007.2,755.0 1008.0,755.2 1008.8,747.8 1009.5,748.4 1010.2,739.5 1011.0,735.4 1011.8,727.0 1012.5,726.7 1013.2,722.8 1014.0,719.1 1014.8,718.5 1015.5,722.8 1016.2,725.6 1017.0,736.6 1017.8,736.7 1018.5,745.1 1019.2,750.2 1020.0,755.0 1020.8,756.3 1021.5,762.4 1022.2,761.1 1023.0,765.3 1023.8,763.4 1024.5,764.0 1025.2,762.0 1026.0,766.0 1026.8,761.5 1027.5,762.2 1028.2,758.0 1029.0,762.4 1029.8,761.1 1030.5,764.7 1031.2,761.5 1032.0,764.9 1032.8,756.6 1033.5,760.6 1034.2,758.9 1035.0,758.5 1035.8,755.6 1036.5,757.3 1037.2,754.9 1038.0,759.5 1038.8,755.1 1039.5,755.7 1040.2,754.6 1041.0,756.8 1041.8,756.1 1042.5,756.1 1043.2,754.4 1044.0,759.0 1044.8,757.3 1045.5,759.9 1046.2,758.4 1047.0,758.4 1047.8,756.3 1048.5,761.8 1049.2,760.8 1050.0,766.4 1050.8,760.6 1051.5,766.7 1052.2,762.9 1053.0,769.6 1053.8,762.1 1054.5,768.5 1055.2,768.1 1056.0,769.0 1056.8,766.6 1057.5,768.5 1058.2,767.5 1059.0,772.2 1059.8,769.7 1060.5,775.7 1061.2,770.8 1062.0,771.6 1062.8,770.3 1063.5,775.8 1064.2,771.9 1065.0,773.4 1065.8,771.0 1066.5,772.3 1067.2,769.6 1068.0,773.8 1068.8,770.1 1069.5,773.6 1070.2,771.0 1071.0,778.7 1071.8,771.3 1072.5,775.2 1073.2,772.6 1074.0,775.9 1074.8,770.6 1075.5,774.9 1076.2,773.7 1077.0,777.5 1077.8,774.5 1078.5,776.4 1079.2,772.3 1080.0,774.4 1080.8,772.9 1081.5,776.8 1082.2,773.4 1083.0,775.1 1083.8,772.3 1084.5,776.0 1085.2,775.0 1086.0,777.0 1086.8,775.5 1087.5,776.5 1088.2,774.1 1089.0,775.2 1089.8,774.1 1090.5,775.9 1091.2,774.9 1092.0,774.6 1092.8,772.6 1093.5,779.4 1094.2,775.3 1095.0,779.2 1095.8,777.6 1096.5,777.5 1097.2,773.5 1098.0,774.3 1098.8,771.6 1099.5,775.7 1100.2,773.6 1101.0,775.5 1101.8,771.7 1102.5,775.0 1103.2,770.7 1104.0,778.6 1104.8,771.0 1105.5,777.2 1106.2,771.7 1107.0,775.1 1107.8,772.2 1108.5,777.4 1109.2,773.7 1110.0,775.8 1110.8,772.2 1111.5,773.2 1112.2,771.8 1113.0,775.4 1113.8,772.6 1114.5,773.7 1115.2,769.7 1116.0,773.6 1116.8,771.7 1117.5,772.6 1118.2,771.3 1119.0,775.4 1119.8,771.6 1120.5,774.5 1121.2,771.7 1122.0,774.7 1122.8,771.6 1123.5,777.5 1124.2,771.9 1125.0,775.9 1125.8,775.0 1126.5,777.4 1127.2,773.8 1128.0,777.6 1128.8,776.2 1129.5,776.2 1130.2,772.7 1131.0,778.9 1131.8,774.0 1132.5,779.2 1133.2,777.2 1134.0,777.0 1134.8,775.6 1135.5,775.6 1136.2,771.8 1137.0,779.5 1137.8,775.9 1138.5,776.9 1139.2,775.6 1140.0,779.1 1140.8,774.7 1141.5,777.2 1142.2,773.7 1143.0,776.8 1143.8,771.8 1144.5,775.0 1145.2,769.0 1146.0,764.6 1146.8,755.8 1147.5,753.5 1148.2,743.6 1149.0,740.2 1149.8,734.7 1150.5,737.5 1151.2,736.4 1152.0,742.4 1152.8,744.1 1153.5,756.9 1154.2,758.7 1155.0,763.9 1155.8,766.1 1156.5,773.8 1157.2,768.7 1158.0,775.8 1158.8,773.7 1159.5,775.6 1160.2,773.0 1161.0,774.9 1161.8,772.2 1162.5,773.5 1163.2,772.3 1164.0,778.2 1164.8,774.6 1165.5,775.6 1166.2,772.7 1167.0,776.6 1167.8,775.5 1168.5,777.6 1169.2,775.0 1170.0,775.2 1170.8,773.7 1171.5,777.5 1172.2,775.2 1173.0,776.6 1173.8,769.9 1174.5,776.3 1175.2,775.4 1176.0,776.5 1176.8,773.3 1177.5,777.7 1178.2,775.7 1179.0,778.0 1179.8,775.9 1180.5,777.7 1181.2,776.7 1182.0,780.0 1182.8,776.1 1183.5,777.9 1184.2,775.8 1185.0,776.9 1185.8,775.3 1186.5,778.3 1187.2,775.0 1188.0,780.0 1188.8,779.2 1189.5,779.2 1190.2,775.2 1191.0,779.4 1191.8,776.8 1192.5,780.1 1193.2,778.1 1194.0,779.8 1194.8,777.1 1195.5,779.3 1196.2,775.7 1197.0,777.4 1197.8,774.9 1198.5,780.9 1199.2,779.1 1200.0,779.1 1200.8,777.1 1201.5,777.5 1202.2,776.2 1203.0,778.5 1203.8,777.7 1204.5,780.6 1205.2,777.4 1206.0,778.1 1206.8,775.0 1207.5,779.7 1208.2,778.6 1209.0,781.1 1209.8,776.9 1210.5,781.1 1211.2,777.9 1212.0,779.7 1212.8,778.2 1213.5,778.9 1214.2,776.2 1215.0,777.8 1215.8,775.2 1216.5,778.7 1217.2,777.5 1218.0,779.1 1218.8,775.8 1219.5,780.8 1220.2,778.8 1221.0,780.4 1221.8,774.3 1222.5,779.6 1223.2,776.6 1224.0,779.4 1224.8,775.7 1225.5,776.5 1226.2,774.2 1227.0,779.6 1227.8,777.2 1228.5,777.4 1229.2,776.4 1230.0,777.4 1230.8,774.0 1231.5,779.2 1232.2,776.8 1233.0,780.6 1233.8,777.4 1234.5,779.2 1235.2,775.5 1236.0,778.6 1236.8,775.6 1237.5,777.3 1238.2,776.0 1239.0,777.9 1239.8,776.0 1240.5,782.4 1241.2,775.3 1242.0,778.5 1242.8,776.6 1243.5,779.4 1244.2,776.5 1245.0,779.3 1245.8,777.0 1246.5,775.3 1247.2,772.2 1248.0,779.3 1248.8,775.8 1249.5,779.5 1250.2,776.5 1251.0,779.4 1251.8,775.7 1252.5,776.1 1253.2,774.6 1254.0,777.9 1254.8,774.4 1255.5,778.6 1256.2,777.1 1257.0,778.9 1257.8,775.9 1258.5,778.9 1259.2,774.8 1260.0,775.7 1260.8,772.0 1261.5,775.1 1262.2,773.4 1263.0,776.4 1263.8,772.0 1264.5,772.3 1265.2,769.7 1266.0,772.8 1266.8,769.8 1267.5,771.9 1268.2,767.3 1269.0,769.7 1269.8,767.1 1270.5,766.4 1271.2,764.6 1272.0,766.5 1272.8,762.3 1273.5,766.4 1274.2,759.9 1275.0,765.1 1275.8,763.4 1276.5,763.9 1277.2,762.4 1278.0,761.3 1278.8,756.7 1279.5,759.7 1280.2,755.0 1281.0,760.0 1281.8,755.4 1282.5,759.9 1283.2,755.6 1284.0,755.8 1284.8,754.1 1285.5,756.2 1286.2,751.4 1287.0,753.3 1287.8,750.5 1288.5,751.7 1289.2,748.6 1290.0,748.5 1290.8,745.8 1291.5,746.7 1292.2,743.7 1293.0,744.8 1293.8,744.8 1294.5,750.4 1295.2,745.0 1296.0,754.4 1296.8,756.9 1297.5,759.3 1298.2,757.1 1299.0,761.7 1299.8,761.7 1300.5,762.7 1301.2,759.3 1302.0,760.0 1302.8,753.7 1303.5,750.5 1304.2,739.5 1305.0,734.7 1305.8,730.0 1306.5,730.8 1307.2,727.1 1308.0,731.4 1308.8,730.7 1309.5,736.4 1310.2,738.7 1311.0,747.9 1311.8,751.9 1312.5,759.6 1313.2,759.4 1314.0,765.4 1314.8,766.1 1315.5,768.9 1316.2,766.4 1317.0,770.7 1317.8,770.7 1318.5,773.5 1319.2,773.1 1320.0,775.2 1320.8,774.1 1321.5,774.7 1322.2,771.6 1323.0,773.2 1323.8,768.9 1324.5,770.3 1325.2,768.1 1326.0,770.8 1326.8,769.5 1327.5,770.2 1328.2,767.1 1329.0,768.9 1329.8,765.9 1330.5,767.4 1331.2,765.3 1332.0,767.3 1332.8,763.5 1333.5,766.3 1334.2,763.2 1335.0,764.3 1335.8,762.0 1336.5,759.8 1337.2,755.6 1338.0,758.3 1338.8,751.7 1339.5,746.4 1340.2,737.4 1341.0,730.3 1341.8,723.0 1342.5,720.1 1343.2,715.1 1344.0,718.4 1344.8,714.9 1345.5,716.8 1346.2,719.6 1347.0,730.4 1347.8,735.0 1348.5,744.3 1349.2,750.2 1350.0,757.6 1350.8,758.2 1351.5,764.9 1352.2,765.7 1353.0,768.0 1353.8,766.0 1354.5,769.4 1355.2,768.3 1356.0,771.3 1356.8,768.7 1357.5,772.2 1358.2,768.9 1359.0,773.9 1359.8,772.4 1360.5,774.8 1361.2,767.7 1362.0,770.9 1362.8,768.9 1363.5,769.7 1364.2,766.8 1365.0,769.1 1365.8,766.3 1366.5,768.8 1367.2,765.8 1368.0,768.1 1368.8,763.1 1369.5,764.8 1370.2,762.3 1371.0,762.2 1371.8,758.6 1372.5,760.3 1373.2,758.3 1374.0,759.7 1374.8,755.7 1375.5,755.4 1376.2,753.1 1377.0,756.8 1377.8,752.8 1378.5,755.3 1379.2,751.9 1380.0,754.1 1380.8,749.8 1381.5,754.1 1382.2,752.6 1383.0,754.1 1383.8,751.5 1384.5,755.7 1385.2,750.9 1386.0,757.3 1386.8,757.3 1387.5,761.1 1388.2,759.9 1389.0,761.1 1389.8,758.8 1390.5,767.5 1391.2,762.0 1392.0,769.4 1392.8,769.1 1393.5,772.4 1394.2,770.6 1395.0,774.5 1395.8,773.4 1396.5,777.3 1397.2,774.6 1398.0,774.8 1398.8,772.0 1399.5,777.8 1400.2,776.9 1401.0,778.5 1401.8,772.1 1402.5,778.6 1403.2,774.8 1404.0,778.1 1404.8,775.2 1405.5,780.2 1406.2,776.5 1407.0,776.4 1407.8,774.1 1408.5,778.1 1409.2,775.5 1410.0,775.9 1410.8,772.4 1411.5,779.6 1412.2,776.0 1413.0,775.8 1413.8,772.7 1414.5,778.2 1415.2,770.4 1416.0,773.2 1416.8,771.6 1417.5,774.0 1418.2,771.2 1419.0,775.1 1419.8,773.7 1420.5,774.5 1421.2,770.8 1422.0,771.5 1422.8,769.9 1423.5,772.0 1424.2,770.8 1425.0,773.6 1425.8,770.1 1426.5,775.4 1427.2,773.0 1428.0,773.5 1428.8,770.5 1429.5,774.6 1430.2,771.1 1431.0,775.4 1431.8,772.1 1432.5,777.5 1433.2,773.5 1434.0,775.2 1434.8,771.7 1435.5,773.4 1436.2,769.6 1437.0,772.3 1437.8,771.1 1438.5,775.6 1439.2,774.6 1440.0,775.4 1440.8,771.6 1441.5,771.7 1442.2,769.4 1443.0,774.0 1443.8,770.3 1444.5,774.0 1445.2,770.1 1446.0,773.6 1446.8,770.3 1447.5,774.2 1448.2,771.8 1449.0,774.4 1449.8,771.2 1450.5,774.8 1451.2,772.1 1452.0,772.5 1452.8,766.1 1453.5,772.4 1454.2,771.3 1455.0,772.2 1455.8,770.3 1456.5,771.5 1457.2,769.0 1458.0,775.5 1458.8,769.8 1459.5,771.0 1460.2,769.2 1461.0,772.0 1461.8,768.4 1462.5,774.5 1463.2,773.6 1464.0,774.6 1464.8,770.9 1465.5,775.4 1466.2,771.6 1467.0,775.9 1467.8,772.7 1468.5,772.1 1469.2,770.5 1470.0,775.3 1470.8,774.2 1471.5,774.9 1472.2,771.8 1473.0,775.5 1473.8,772.7 1474.5,775.6 1475.2,773.7 1476.0,776.3 1476.8,773.0 1477.5,775.3 1478.2,771.9 1479.0,774.7 1479.8,773.8 1480.5,775.5 1481.2,773.7 1482.0,778.8 1482.8,772.8 1483.5,772.8 1484.2,771.0 1485.0,778.3 1485.8,774.6 1486.5,774.4 1487.2,773.0 1488.0,779.4 1488.8,775.8 1489.5,776.1 1490.2,775.0 1491.0,779.0 1491.8,775.3 1492.5,776.6 1493.2,772.7 1494.0,778.3 1494.8,775.1 1495.5,776.8 1496.2,772.4 1497.0,775.7 1497.8,772.3 1498.5,774.5 1499.2,772.9 1500.0,771.9 1500.8,767.9 1501.5,773.0 1502.2,769.4 1503.0,772.0 1503.8,770.2 1504.5,774.2 1505.2,772.5 1506.0,774.7 1506.8,771.6 1507.5,776.5 1508.2,773.2 1509.0,776.8 1509.8,773.5 1510.5,780.3 1511.2,774.9 1512.0,776.9 1512.8,776.4 1513.5,779.6 1514.2,778.8 1515.0,780.9 1515.8,778.0 1516.5,781.5 1517.2,778.5 1518.0,781.9 1518.8,779.2 1519.5,784.5 1520.2,782.8 1521.0,784.3 1521.8,782.4 1522.5,785.8 1523.2,782.7 1524.0,785.6 1524.8,782.7 1525.5,785.9 1526.2,782.6 1527.0,791.0 1527.8,787.8 1528.5,787.6 1529.2,784.8 1530.0,786.7 1530.8,782.8 1531.5,787.7 1532.2,784.9 1533.0,787.6 1533.8,786.0 1534.5,788.1 1535.2,782.2 1536.0,789.5 1536.8,787.4 1537.5,788.1 1538.2,784.3 1539.0,789.8 1539.8,786.6 1540.5,790.2 1541.2,784.1 1542.0,787.3 1542.8,786.4 1543.5,794.0 1544.2,790.1 1545.0,788.4 1545.8,786.4 1546.5,788.0 1547.2,784.8 1548.0,789.4 1548.8,786.1 1549.5,788.6 1550.2,785.8 1551.0,791.2 1551.8,788.5 1552.5,790.2 1553.2,788.0 1554.0,788.8 1554.8,785.5 1555.5,792.8 1556.2,789.0 1557.0,789.8 1557.8,787.2 1558.5,787.8 1559.2,786.6 1560.0,792.9 1560.8,787.5 1561.5,791.7 1562.2,787.7 1563.0,788.7 1563.8,786.6 1564.5,787.9 1565.2,787.1 1566.0,789.8 1566.8,787.6 1567.5,788.9 1568.2,787.3 1569.0,790.9 1569.8,788.3 1570.5,790.6 1571.2,788.0 1572.0,789.5 1572.8,785.4 1573.5,789.4 1574.2,785.7 1575.0,789.1 1575.8,788.2 1576.5,794.5 1577.2,786.6 1578.0,788.6 1578.8,787.6 1579.5,790.1 1580.2,789.3 1581.0,789.9 1581.8,786.3 1582.5,790.3 1583.2,788.6 1584.0,789.8 1584.8,786.7 1585.5,790.6 1586.2,788.3 1587.0,789.5 1587.8,786.2 1588.5,789.0 1589.2,787.0 1590.0,792.0 1590.8,790.7 1591.5,790.7 1592.2,789.4 1593.0,788.4 1593.8,786.2 1594.5,791.5 1595.2,789.1 1596.0,789.3 1596.8,787.9 1597.5,790.9 1598.2,790.0 1599.0,787.6 1599.8,786.3 1600.5,790.1 1601.2,786.8 1602.0,789.9 1602.8,786.0 1603.5,789.6 1604.2,785.5 1605.0,787.7 1605.8,786.2 1606.5,792.0 1607.2,789.6 1608.0,790.3 1608.8,786.3 1609.5,788.5 1610.2,787.2 1611.0,790.0 1611.8,782.3 1612.5,790.6 1613.2,788.6 1614.0,790.7 1614.8,788.4 1615.5,788.8 1616.2,786.9 1617.0,787.9 1617.8,784.6 1618.5,790.7 1619.2,786.5 1620.0,789.0 1620.8,786.4 1621.5,787.5 1622.2,783.5 1623.0,791.6 1623.8,787.5 1624.5,789.2 1625.2,785.5 1626.0,785.8 1626.8,783.6 1627.5,785.0 1628.2,783.9 1629.0,787.8 1629.8,784.1 1630.5,786.6 1631.2,785.0 1632.0,785.7 1632.8,783.0 1633.5,785.3 1634.2,782.0 1635.0,782.5 1635.8,781.4 1636.5,786.1 1637.2,783.2 1638.0,785.6 1638.8,777.8 1639.5,784.1 1640.2,781.6 1641.0,785.8 1641.8,782.3 1642.5,785.8 1643.2,782.9 1644.0,787.4 1644.8,785.9 1645.5,789.3 1646.2,787.3 1647.0,786.8 1647.8,781.5 1648.5,789.3 1649.2,785.0 1650.0,791.2 1650.8,787.6 1651.5,791.7 1652.2,787.8 1653.0,788.2 1653.8,786.5 1654.5,789.0 1655.2,787.9 1656.0,789.1 1656.8,785.8 1657.5,788.5 1658.2,785.0 1659.0,787.0 1659.8,782.5 1660.5,785.9 1661.2,781.8 1662.0,782.8 1662.8,776.9 1663.5,778.5 1664.2,771.7 1665.0,772.0 1665.8,767.9 1666.5,770.8 1667.2,768.1 1668.0,773.6 1668.8,772.1 1669.5,780.9 1670.2,781.0 1671.0,781.6 1671.8,781.1 1672.5,788.3 1673.2,782.5 1674.0,790.3 1674.8,788.6 1675.5,787.6 1676.2,785.9 1677.0,786.0 1677.8,784.8 1678.5,790.5 1679.2,789.5 1680.0,792.3 1680.8,789.1 1681.5,792.2 1682.2,789.3 1683.0,791.1 1683.8,789.8 1684.5,791.5 1685.2,789.8 1686.0,789.9 1686.8,787.0 1687.5,791.7 1688.2,789.8 1689.0,790.5 1689.8,786.0 1690.5,788.8 1691.2,786.5 1692.0,790.5 1692.8,788.3 1693.5,788.9 1694.2,787.4 1695.0,789.4 1695.8,787.5 1696.5,790.8 1697.2,787.5 1698.0,791.2 1698.8,787.9 1699.5,794.1 1700.2,786.5 1701.0,790.5 1701.8,787.3 1702.5,793.3 1703.2,785.7 1704.0,794.0 1704.8,786.3 1705.5,792.5 1706.2,788.6 1707.0,792.3 1707.8,789.8 1708.5,793.2 1709.2,789.7 1710.0,793.8 1710.8,787.8 1711.5,792.2 1712.2,790.1 1713.0,792.4 1713.8,790.5 1714.5,792.9 1715.2,788.3 1716.0,792.4 1716.8,789.4 1717.5,791.3 1718.2,787.9 1719.0,791.9 1719.8,790.2 1720.5,792.7 1721.2,791.3 1722.0,791.0 1722.8,788.9 1723.5,793.5 1724.2,791.5 1725.0,792.3 1725.8,788.1 1726.5,794.1 1727.2,790.4 1728.0,794.8 1728.8,791.2 1729.5,791.7 1730.2,790.8 1731.0,791.5 1731.8,789.5 1732.5,792.4 1733.2,790.7 1734.0,792.5 1734.8,788.6 1735.5,792.0 1736.2,787.8 1737.0,793.7 1737.8,791.0 1738.5,789.3 1739.2,788.1 1740.0,792.7 1740.8,791.8 1741.5,792.6 1742.2,787.8 1743.0,793.7 1743.8,791.0 1744.5,791.1 1745.2,790.1 1746.0,795.0 1746.8,792.0 1747.5,791.1 1748.2,790.2 1749.0,790.2 1749.8,786.8 1750.5,795.5 1751.2,794.5 1752.0,793.0 1752.8,789.8 1753.5,792.9 1754.2,789.6 1755.0,793.0 1755.8,789.9 1756.5,791.8 1757.2,790.3 1758.0,793.1 1758.8,790.6 1759.5,791.0" fill="none" stroke="#0000ff" stroke-width="3.8" stroke-linejoin="round" stroke-linecap="butt"/>
<polyline points="129.0,542.5 129.8,539.4 130.5,543.7 131.2,540.8 132.0,543.3 132.8,540.6 133.5,542.0 134.2,538.9 135.0,540.5 135.8,537.6 136.5,541.3 137.2,538.4 138.0,544.2 138.8,538.2 139.5,540.4 140.2,536.6 141.0,540.5 141.8,539.6 142.5,540.8 143.2,539.8 144.0,539.4 144.8,537.6 145.5,542.7 146.2,540.8 147.0,541.2 147.8,538.6 148.5,539.3 149.2,537.4 150.0,540.0 150.8,537.9 151.5,542.1 152.2,539.2 153.0,544.1 153.8,539.4 154.5,542.0 155.2,538.9 156.0,541.2 156.8,539.4 157.5,540.7 158.2,539.0 159.0,542.6 159.8,541.4 160.5,542.5 161.2,540.6 162.0,540.1 162.8,536.0 163.5,541.9 164.2,538.2 165.0,542.3 165.8,539.1 166.5,540.9 167.2,538.6 168.0,542.2 168.8,538.8 169.5,541.6 170.2,539.9 171.0,540.0 171.8,537.8 172.5,541.9 173.2,541.2 174.0,541.7 174.8,538.8 175.5,541.9 176.2,540.7 177.0,541.6 177.8,539.3 178.5,540.6 179.2,539.5 180.0,543.4 180.8,540.2 181.5,542.4 182.2,539.0 183.0,544.0 183.8,540.3 184.5,542.8 185.2,539.3 186.0,543.4 186.8,542.6 187.5,541.2 188.2,537.8 189.0,541.5 189.8,539.8 190.5,541.3 191.2,538.0 192.0,540.0 192.8,538.6 193.5,541.9 194.2,540.0 195.0,539.8 195.8,538.2 196.5,541.3 197.2,540.2 198.0,545.5 198.8,539.5 199.5,543.1 200.2,540.1 201.0,542.1 201.8,538.8 202.5,541.9 203.2,539.8 204.0,543.1 204.8,541.1 205.5,545.0 206.2,541.4 207.0,543.1 207.8,539.2 208.5,542.3 209.2,541.2 210.0,545.6 210.8,539.0 211.5,543.4 212.2,539.8 213.0,543.6 213.8,541.1 214.5,545.7 215.2,539.1 216.0,547.1 216.8,540.4 217.5,543.6 218.2,539.6 219.0,544.4 219.8,540.7 220.5,544.8 221.2,541.1 222.0,543.3 222.8,540.2 223.5,543.3 224.2,541.4 225.0,543.9 225.8,541.7 226.5,542.3 227.2,540.0 228.0,543.1 228.8,541.6 229.5,542.5 230.2,540.7 231.0,543.3 231.8,541.5 232.5,542.6 233.2,541.8 234.0,543.4 234.8,541.4 235.5,545.5 236.2,542.1 237.0,545.6 237.8,543.3 238.5,545.6 239.2,542.4 240.0,543.6 240.8,540.5 241.5,545.0 242.2,541.7 243.0,541.9 243.8,541.0 244.5,544.9 245.2,542.4 246.0,545.6 246.8,542.1 247.5,544.1 248.2,541.0 249.0,544.6 249.8,541.4 250.5,546.0 251.2,541.9 252.0,544.9 252.8,542.7 253.5,543.4 254.2,541.0 255.0,543.0 255.8,540.8 256.5,541.4 257.2,539.9 258.0,543.6 258.8,540.6 259.5,542.3 260.2,540.9 261.0,544.0 261.8,540.3 262.5,543.1 263.2,542.1 264.0,541.7 264.8,538.4 265.5,542.6 266.2,538.5 267.0,542.0 267.8,539.5 268.5,539.7 269.2,538.0 270.0,541.1 270.8,538.7 271.5,540.0 272.2,537.8 273.0,540.3 273.8,538.2 274.5,540.9 275.2,536.7 276.0,540.2 276.8,536.0 277.5,538.4 278.2,534.0 279.0,537.0 279.8,535.0 280.5,537.1 281.2,533.1 282.0,537.0 282.8,533.4 283.5,533.1 284.2,528.5 285.0,532.7 285.8,530.6 286.5,530.9 287.2,528.7 288.0,530.8 288.8,528.1 289.5,530.2 290.2,527.6 291.0,530.3 291.8,522.1 292.5,526.2 293.2,522.4 294.0,522.9 294.8,520.4 295.5,523.0 296.2,519.7 297.0,521.2 297.8,518.7 298.5,518.9 299.2,515.5 300.0,519.7 300.8,516.2 301.5,516.7 302.2,514.5 303.0,514.2 303.8,511.2 304.5,515.6 305.2,513.0 306.0,516.0 306.8,513.2 307.5,514.9 308.2,513.3 309.0,514.4 309.8,512.9 310.5,515.3 311.2,512.2 312.0,516.8 312.8,513.8 313.5,516.8 314.2,515.3 315.0,514.6 315.8,513.3 316.5,516.4 317.2,515.7 318.0,520.9 318.8,514.9 319.5,520.0 320.2,517.0 321.0,521.5 321.8,519.5 322.5,522.3 323.2,520.7 324.0,521.7 324.8,520.9 325.5,522.2 326.2,520.6 327.0,527.0 327.8,522.1 328.5,523.9 329.2,520.4 330.0,525.6 330.8,521.9 331.5,528.1 332.2,525.9 333.0,527.2 333.8,525.1 334.5,528.0 335.2,526.1 336.0,527.5 336.8,527.1 337.5,530.5 338.2,528.9 339.0,533.6 339.8,531.7 340.5,531.6 341.2,529.0 342.0,531.2 342.8,529.4 343.5,533.4 344.2,531.8 345.0,534.3 345.8,533.7 346.5,534.6 347.2,530.7 348.0,532.7 348.8,530.2 349.5,534.2 350.2,531.4 351.0,532.5 351.8,529.9 352.5,534.9 353.2,530.8 354.0,532.4 354.8,529.3 355.5,532.3 356.2,529.9 357.0,530.9 357.8,528.9 358.5,531.0 359.2,529.0 360.0,527.4 360.8,524.0 361.5,529.6 362.2,525.3 363.0,530.2 363.8,522.5 364.5,526.4 365.2,525.0 366.0,527.3 366.8,519.0 367.5,527.8 368.2,524.6 369.0,524.4 369.8,522.5 370.5,526.6 371.2,522.4 372.0,524.6 372.8,521.6 373.5,524.9 374.2,521.7 375.0,523.7 375.8,522.2 376.5,522.4 377.2,520.9 378.0,524.6 378.8,521.7 379.5,526.7 380.2,525.4 381.0,524.7 381.8,523.0 382.5,526.9 383.2,525.2 384.0,526.2 384.8,523.2 385.5,530.3 386.2,528.4 387.0,528.7 387.8,526.9 388.5,530.1 389.2,529.0 390.0,533.3 390.8,531.2 391.5,535.6 392.2,533.2 393.0,534.4 393.8,532.9 394.5,537.5 395.2,535.7 396.0,539.5 396.8,537.9 397.5,539.7 398.2,538.8 399.0,541.1 399.8,537.5 400.5,543.0 401.2,540.0 402.0,544.6 402.8,541.3 403.5,546.2 404.2,543.7 405.0,545.0 405.8,543.6 406.5,541.6 407.2,541.0 408.0,547.4 408.8,543.6 409.5,547.7 410.2,543.8 411.0,546.0 411.8,544.5 412.5,547.2 413.2,544.3 414.0,546.6 414.8,544.7 415.5,544.3 416.2,541.3 417.0,540.8 417.8,536.4 418.5,538.7 419.2,535.1 420.0,538.4 420.8,537.8 421.5,540.1 422.2,544.4 423.0,551.0 423.8,549.3 424.5,553.8 425.2,550.8 426.0,558.8 426.8,553.0 427.5,555.9 428.2,553.8 429.0,557.1 429.8,555.9 430.5,558.0 431.2,554.9 432.0,560.4 432.8,558.1 433.5,560.6 434.2,558.0 435.0,561.7 435.8,560.8 436.5,559.2 437.2,557.1 438.0,559.8 438.8,556.9 439.5,561.8 440.2,558.9 441.0,559.5 441.8,558.5 442.5,561.3 443.2,560.0 444.0,563.7 444.8,561.4 445.5,563.8 446.2,560.8 447.0,565.0 447.8,562.4 448.5,566.2 449.2,558.0 450.0,563.9 450.8,561.5 451.5,565.4 452.2,561.4 453.0,565.5 453.8,564.1 454.5,566.8 455.2,563.8 456.0,566.3 456.8,565.0 457.5,565.2 458.2,563.8 459.0,565.6 459.8,561.8 460.5,567.9 461.2,560.5 462.0,565.3 462.8,564.4 463.5,564.6 464.2,561.6 465.0,564.6 465.8,563.2 466.5,563.5 467.2,562.5 468.0,567.5 468.8,563.6 469.5,566.9 470.2,564.1 471.0,565.1 471.8,563.3 472.5,567.9 473.2,565.1 474.0,567.5 474.8,563.5 475.5,566.9 476.2,563.6 477.0,569.7 477.8,562.9 478.5,566.4 479.2,565.4 480.0,565.7 480.8,562.8 481.5,565.7 482.2,563.7 483.0,564.4 483.8,563.2 484.5,567.8 485.2,564.6 486.0,566.1 486.8,564.4 487.5,567.3 488.2,565.5 489.0,566.5 489.8,562.2 490.5,564.3 491.2,562.9 492.0,568.2 492.8,564.2 493.5,566.1 494.2,565.2 495.0,564.3 495.8,561.1 496.5,567.0 497.2,563.6 498.0,564.4 498.8,560.9 499.5,567.8 500.2,561.4 501.0,564.0 501.8,561.0 502.5,561.4 503.2,558.8 504.0,561.2 504.8,556.5 505.5,558.7 506.2,554.9 507.0,553.0 507.8,548.3 508.5,553.3 509.2,548.5 510.0,546.9 510.8,541.5 511.5,541.1 512.2,535.3 513.0,528.1 513.8,520.6 514.5,524.1 515.2,516.1 516.0,516.7 516.8,507.5 517.5,509.0 518.2,504.3 519.0,509.0 519.8,507.3 520.5,508.5 521.2,506.5 522.0,509.5 522.8,507.8 523.5,516.3 524.2,515.0 525.0,525.9 525.8,527.9 526.5,536.9 527.2,538.7 528.0,543.9 528.8,545.7 529.5,548.4 530.2,549.3 531.0,555.1 531.8,555.6 532.5,555.1 533.2,555.1 534.0,560.7 534.8,557.8 535.5,561.4 536.2,558.4 537.0,561.0 537.8,559.2 538.5,561.2 539.2,559.6 540.0,561.9 540.8,560.5 541.5,563.1 542.2,562.0 543.0,566.2 543.8,563.5 544.5,565.5 545.2,561.8 546.0,563.6 546.8,562.7 547.5,567.0 548.2,565.4 549.0,567.7 549.8,564.6 550.5,566.1 551.2,564.5 552.0,568.5 552.8,565.3 553.5,567.5 554.2,564.2 555.0,569.3 555.8,566.8 556.5,567.0 557.2,564.7 558.0,567.1 558.8,563.5 559.5,567.6 560.2,564.0 561.0,568.4 561.8,564.7 562.5,568.0 563.2,565.3 564.0,567.1 564.8,564.6 565.5,567.0 566.2,564.8 567.0,565.4 567.8,564.5 568.5,567.2 569.2,564.5 570.0,569.4 570.8,567.4 571.5,568.2 572.2,564.2 573.0,566.2 573.8,564.2 574.5,566.0 575.2,565.0 576.0,567.0 576.8,563.6 577.5,567.9 578.2,564.1 579.0,566.3 579.8,563.7 580.5,568.9 581.2,565.7 582.0,566.7 582.8,562.6 583.5,567.9 584.2,562.1 585.0,567.5 585.8,565.7 586.5,565.8 587.2,562.7 588.0,567.2 588.8,563.2 589.5,563.5 590.2,562.1 591.0,564.8 591.8,561.7 592.5,565.7 593.2,562.1 594.0,559.9 594.8,558.2 595.5,562.6 596.2,556.5 597.0,557.9 597.8,554.8 598.5,556.9 599.2,555.0 600.0,555.7 600.8,551.2 601.5,555.0 602.2,550.8 603.0,551.6 603.8,549.6 604.5,550.9 605.2,549.1 606.0,554.7 606.8,554.7 607.5,556.7 608.2,555.3 609.0,559.5 609.8,558.6 610.5,559.5 611.2,558.1 612.0,560.6 612.8,558.8 613.5,561.1 614.2,557.9 615.0,560.5 615.8,558.6 616.5,563.5 617.2,559.8 618.0,560.9 618.8,558.6 619.5,563.2 620.2,560.8 621.0,562.6 621.8,559.1 622.5,559.2 623.2,557.7 624.0,558.9 624.8,557.0 625.5,556.1 626.2,554.4 627.0,555.4 627.8,551.9 628.5,557.8 629.2,554.4 630.0,552.7 630.8,550.7 631.5,553.7 632.2,551.1 633.0,550.1 633.8,547.4 634.5,550.1 635.2,548.0 636.0,549.9 636.8,547.1 637.5,546.1 638.2,542.0 639.0,544.8 639.8,541.0 640.5,545.3 641.2,538.6 642.0,541.8 642.8,533.7 643.5,531.9 644.2,520.1 645.0,507.1 645.8,485.4 646.5,463.7 647.2,426.7 648.0,399.1 648.8,369.8 649.5,354.2 650.2,342.0 651.0,355.9 651.8,370.7 652.5,402.5 653.2,426.3 654.0,469.2 654.8,495.6 655.5,523.6 656.2,539.7 657.0,549.5 657.8,550.1 658.5,555.1 659.2,554.2 660.0,560.3 660.8,559.6 661.5,563.5 662.2,561.1 663.0,562.1 663.8,561.3 664.5,564.1 665.2,563.8 666.0,566.4 666.8,563.6 667.5,567.9 668.2,565.8 669.0,566.3 669.8,564.4 670.5,566.9 671.2,565.5 672.0,567.4 672.8,563.9 673.5,566.7 674.2,565.3 675.0,569.2 675.8,564.0 676.5,572.3 677.2,570.9 678.0,571.0 678.8,567.3 679.5,570.0 680.2,566.7 681.0,570.1 681.8,566.4 682.5,566.9 683.2,565.4 684.0,567.5 684.8,566.0 685.5,570.3 686.2,567.2 687.0,569.6 687.8,565.9 688.5,569.5 689.2,568.2 690.0,568.9 690.8,565.7 691.5,568.3 692.2,567.2 693.0,567.6 693.8,566.2 694.5,569.3 695.2,565.1 696.0,567.3 696.8,566.1 697.5,568.4 698.2,566.1 699.0,565.9 699.8,563.9 700.5,567.8 701.2,561.9 702.0,565.2 702.8,562.4 703.5,565.7 704.2,562.5 705.0,565.6 705.8,562.5 706.5,563.8 707.2,561.8 708.0,560.7 708.8,557.9 709.5,560.5 710.2,558.5 711.0,559.2 711.8,557.2 712.5,557.7 713.2,555.8 714.0,559.1 714.8,550.0 715.5,556.7 716.2,549.0 717.0,553.4 717.8,550.8 718.5,550.9 719.2,547.0 720.0,548.3 720.8,544.7 721.5,540.9 722.2,535.3 723.0,535.5 723.8,530.8 724.5,530.3 725.2,523.5 726.0,526.2 726.8,519.6 727.5,518.7 728.2,510.4 729.0,507.5 729.8,497.9 730.5,494.9 731.2,485.8 732.0,481.8 732.8,473.3 733.5,468.8 734.2,458.5 735.0,452.8 735.8,442.9 736.5,435.7 737.2,429.0 738.0,428.1 738.8,420.6 739.5,419.6 740.2,412.4 741.0,416.1 741.8,410.2 742.5,414.5 743.2,410.1 744.0,410.4 744.8,407.0 745.5,410.2 746.2,406.4 747.0,406.4 747.8,403.4 748.5,411.5 749.2,408.9 750.0,410.5 750.8,409.0 751.5,415.8 752.2,416.3 753.0,424.1 753.8,426.4 754.5,430.8 755.2,435.7 756.0,449.3 756.8,453.8 757.5,461.2 758.2,467.4 759.0,480.7 759.8,485.6 760.5,498.3 761.2,497.8 762.0,511.8 762.8,513.8 763.5,519.8 764.2,521.5 765.0,526.9 765.8,525.5 766.5,526.7 767.2,526.8 768.0,532.2 768.8,530.8 769.5,530.8 770.2,528.1 771.0,527.4 771.8,522.6 772.5,525.4 773.2,516.3 774.0,516.4 774.8,510.6 775.5,510.7 776.2,504.5 777.0,505.4 777.8,501.5 778.5,500.3 779.2,497.2 780.0,497.9 780.8,494.9 781.5,496.2 782.2,494.1 783.0,495.6 783.8,492.2 784.5,493.8 785.2,492.8 786.0,496.0 786.8,493.6 787.5,496.3 788.2,496.8 789.0,501.9 789.8,503.9 790.5,507.2 791.2,508.1 792.0,514.3 792.8,515.3 793.5,522.3 794.2,524.5 795.0,528.5 795.8,528.3 796.5,535.9 797.2,537.2 798.0,541.8 798.8,541.6 799.5,548.4 800.2,546.7 801.0,556.3 801.8,556.8 802.5,553.4 803.2,552.8 804.0,558.2 804.8,557.1 805.5,558.7 806.2,551.6 807.0,555.3 807.8,550.2 808.5,551.4 809.2,549.3 810.0,552.0 810.8,548.4 811.5,547.2 812.2,543.7 813.0,544.1 813.8,541.7 814.5,544.3 815.2,541.9 816.0,540.1 816.8,535.8 817.5,539.9 818.2,531.8 819.0,539.2 819.8,536.6 820.5,541.7 821.2,536.8 822.0,542.3 822.8,534.7 823.5,542.5 824.2,540.4 825.0,543.4 825.8,542.5 826.5,545.8 827.2,544.5 828.0,547.8 828.8,547.4 829.5,552.6 830.2,551.7 831.0,558.0 831.8,555.5 832.5,559.0 833.2,558.4 834.0,562.5 834.8,557.9 835.5,564.0 836.2,560.9 837.0,564.7 837.8,562.3 838.5,567.6 839.2,564.2 840.0,566.7 840.8,565.2 841.5,569.9 842.2,569.2 843.0,569.7 843.8,568.7 844.5,571.2 845.2,568.5 846.0,569.0 846.8,566.9 847.5,569.8 848.2,565.9 849.0,571.4 849.8,569.8 850.5,571.7 851.2,569.3 852.0,574.7 852.8,572.6 853.5,571.0 854.2,570.0 855.0,571.9 855.8,568.8 856.5,574.2 857.2,570.8 858.0,570.6 858.8,567.5 859.5,573.1 860.2,570.2 861.0,571.6 861.8,568.2 862.5,569.4 863.2,566.8 864.0,570.6 864.8,568.0 865.5,571.9 866.2,570.7 867.0,571.8 867.8,570.7 868.5,571.9 869.2,568.4 870.0,569.6 870.8,567.3 871.5,569.4 872.2,567.9 873.0,569.2 873.8,566.9 874.5,568.9 875.2,565.7 876.0,570.9 876.8,566.9 877.5,569.6 878.2,566.1 879.0,568.7 879.8,561.4 880.5,565.7 881.2,563.2 882.0,563.5 882.8,560.6 883.5,561.5 884.2,557.7 885.0,556.9 885.8,549.1 886.5,551.5 887.2,545.6 888.0,546.2 888.8,545.0 889.5,547.8 890.2,548.1 891.0,553.6 891.8,554.7 892.5,560.8 893.2,559.6 894.0,568.1 894.8,569.1 895.5,570.0 896.2,569.0 897.0,573.6 897.8,571.2 898.5,578.0 899.2,576.2 900.0,576.4 900.8,573.0 901.5,578.4 902.2,573.4 903.0,577.9 903.8,575.9 904.5,575.8 905.2,573.1 906.0,577.1 906.8,573.6 907.5,582.4 908.2,580.0 909.0,578.9 909.8,576.9 910.5,575.9 911.2,574.5 912.0,578.6 912.8,575.5 913.5,578.8 914.2,576.7 915.0,579.7 915.8,577.9 916.5,578.8 917.2,577.3 918.0,577.6 918.8,576.1 919.5,579.3 920.2,577.4 921.0,581.4 921.8,578.2 922.5,579.5 923.2,576.1 924.0,577.9 924.8,576.6 925.5,579.1 926.2,575.7 927.0,577.5 927.8,574.4 928.5,582.2 929.2,578.6 930.0,580.2 930.8,578.4 931.5,580.8 932.2,576.9 933.0,580.5 933.8,577.9 934.5,582.5 935.2,578.8 936.0,579.9 936.8,577.5 937.5,578.0 938.2,577.1 939.0,581.7 939.8,579.5 940.5,577.6 941.2,575.4 942.0,580.1 942.8,577.8 943.5,582.7 944.2,579.0 945.0,583.7 945.8,579.0 946.5,580.1 947.2,578.7 948.0,581.3 948.8,577.5 949.5,580.0 950.2,578.7 951.0,579.8 951.8,578.6 952.5,580.3 953.2,578.4 954.0,582.2 954.8,580.1 955.5,581.1 956.2,578.9 957.0,582.4 957.8,580.5 958.5,581.9 959.2,578.1 960.0,580.3 960.8,577.3 961.5,580.0 962.2,577.6 963.0,583.6 963.8,579.9 964.5,580.8 965.2,575.8 966.0,582.2 966.8,578.4 967.5,579.2 968.2,576.4 969.0,580.9 969.8,578.3 970.5,580.1 971.2,576.8 972.0,579.6 972.8,577.1 973.5,578.4 974.2,577.2 975.0,578.8 975.8,577.0 976.5,579.7 977.2,578.3 978.0,581.3 978.8,579.5 979.5,583.2 980.2,575.1 981.0,578.4 981.8,576.7 982.5,580.6 983.2,577.7 984.0,576.7 984.8,574.1 985.5,579.3 986.2,577.4 987.0,583.2 987.8,579.0 988.5,576.9 989.2,573.4 990.0,579.4 990.8,575.5 991.5,579.7 992.2,577.9 993.0,580.4 993.8,578.6 994.5,579.5 995.2,577.2 996.0,577.4 996.8,573.9 997.5,578.3 998.2,576.3 999.0,577.8 999.8,573.8 1000.5,573.5 1001.2,570.2 1002.0,572.4 1002.8,569.0 1003.5,571.5 1004.2,563.8 1005.0,567.5 1005.8,564.4 1006.5,566.9 1007.2,560.5 1008.0,555.7 1008.8,550.4 1009.5,551.2 1010.2,541.4 1011.0,538.8 1011.8,531.6 1012.5,532.9 1013.2,528.9 1014.0,532.3 1014.8,533.6 1015.5,542.4 1016.2,545.8 1017.0,552.8 1017.8,552.5 1018.5,559.2 1019.2,558.6 1020.0,561.3 1020.8,557.8 1021.5,562.9 1022.2,562.1 1023.0,563.0 1023.8,561.9 1024.5,564.4 1025.2,563.2 1026.0,563.4 1026.8,559.7 1027.5,561.7 1028.2,557.1 1029.0,558.2 1029.8,555.8 1030.5,557.6 1031.2,553.4 1032.0,556.5 1032.8,551.5 1033.5,556.1 1034.2,552.8 1035.0,551.7 1035.8,549.8 1036.5,550.7 1037.2,549.7 1038.0,553.7 1038.8,551.4 1039.5,555.6 1040.2,554.3 1041.0,556.6 1041.8,553.2 1042.5,557.1 1043.2,554.2 1044.0,561.6 1044.8,558.3 1045.5,559.8 1046.2,559.1 1047.0,561.4 1047.8,559.0 1048.5,566.6 1049.2,559.4 1050.0,567.1 1050.8,565.2 1051.5,567.1 1052.2,566.2 1053.0,571.1 1053.8,569.3 1054.5,571.9 1055.2,569.3 1056.0,573.0 1056.8,572.9 1057.5,575.4 1058.2,573.8 1059.0,572.6 1059.8,571.6 1060.5,578.2 1061.2,576.3 1062.0,577.4 1062.8,576.6 1063.5,579.1 1064.2,575.5 1065.0,578.0 1065.8,576.7 1066.5,579.1 1067.2,575.2 1068.0,581.0 1068.8,577.8 1069.5,579.9 1070.2,576.0 1071.0,579.9 1071.8,578.5 1072.5,576.9 1073.2,575.4 1074.0,583.3 1074.8,578.5 1075.5,579.6 1076.2,578.1 1077.0,580.6 1077.8,577.5 1078.5,578.0 1079.2,577.1 1080.0,578.4 1080.8,577.2 1081.5,581.4 1082.2,577.5 1083.0,575.6 1083.8,574.0 1084.5,582.3 1085.2,578.6 1086.0,579.7 1086.8,576.1 1087.5,579.5 1088.2,576.1 1089.0,580.8 1089.8,576.8 1090.5,582.4 1091.2,579.7 1092.0,579.4 1092.8,578.5 1093.5,580.9 1094.2,579.1 1095.0,578.1 1095.8,575.9 1096.5,578.7 1097.2,576.8 1098.0,580.8 1098.8,578.3 1099.5,578.8 1100.2,575.1 1101.0,576.2 1101.8,573.7 1102.5,579.1 1103.2,575.2 1104.0,577.8 1104.8,576.8 1105.5,577.8 1106.2,576.8 1107.0,580.5 1107.8,575.8 1108.5,579.1 1109.2,576.5 1110.0,577.1 1110.8,575.4 1111.5,579.2 1112.2,575.4 1113.0,580.1 1113.8,572.3 1114.5,578.2 1115.2,574.3 1116.0,575.5 1116.8,574.1 1117.5,578.7 1118.2,574.7 1119.0,576.8 1119.8,574.1 1120.5,580.3 1121.2,575.1 1122.0,575.3 1122.8,574.5 1123.5,579.7 1124.2,577.6 1125.0,576.8 1125.8,576.1 1126.5,579.8 1127.2,578.3 1128.0,578.6 1128.8,576.6 1129.5,579.3 1130.2,577.3 1131.0,582.7 1131.8,578.8 1132.5,580.0 1133.2,576.6 1134.0,582.3 1134.8,581.5 1135.5,584.8 1136.2,582.7 1137.0,583.8 1137.8,580.5 1138.5,581.0 1139.2,577.9 1140.0,582.8 1140.8,581.1 1141.5,581.8 1142.2,579.0 1143.0,580.8 1143.8,578.5 1144.5,578.8 1145.2,572.1 1146.0,573.3 1146.8,560.8 1147.5,560.8 1148.2,554.7 1149.0,553.2 1149.8,551.8 1150.5,556.3 1151.2,554.8 1152.0,560.2 1152.8,563.7 1153.5,574.5 1154.2,574.7 1155.0,577.2 1155.8,575.5 1156.5,578.8 1157.2,577.3 1158.0,581.8 1158.8,577.9 1159.5,583.0 1160.2,579.8 1161.0,582.8 1161.8,580.0 1162.5,579.2 1163.2,576.4 1164.0,580.4 1164.8,578.7 1165.5,582.2 1166.2,576.3 1167.0,582.2 1167.8,580.9 1168.5,579.7 1169.2,575.4 1170.0,576.3 1170.8,575.0 1171.5,576.2 1172.2,573.6 1173.0,577.2 1173.8,575.5 1174.5,578.8 1175.2,575.4 1176.0,578.6 1176.8,575.3 1177.5,578.2 1178.2,575.9 1179.0,577.5 1179.8,576.3 1180.5,582.3 1181.2,575.0 1182.0,581.1 1182.8,577.8 1183.5,583.4 1184.2,582.7 1185.0,580.6 1185.8,579.7 1186.5,580.6 1187.2,577.9 1188.0,582.1 1188.8,578.7 1189.5,582.4 1190.2,579.6 1191.0,579.7 1191.8,578.2 1192.5,582.9 1193.2,580.7 1194.0,583.9 1194.8,580.6 1195.5,583.4 1196.2,581.4 1197.0,581.9 1197.8,580.3 1198.5,583.1 1199.2,581.1 1200.0,584.7 1200.8,580.9 1201.5,585.0 1202.2,581.8 1203.0,584.1 1203.8,581.3 1204.5,581.4 1205.2,579.8 1206.0,583.7 1206.8,582.2 1207.5,584.6 1208.2,583.1 1209.0,582.9 1209.8,580.0 1210.5,580.3 1211.2,576.3 1212.0,584.4 1212.8,580.3 1213.5,583.5 1214.2,581.4 1215.0,583.0 1215.8,578.9 1216.5,581.1 1217.2,579.0 1218.0,583.3 1218.8,579.9 1219.5,582.5 1220.2,578.9 1221.0,580.1 1221.8,578.2 1222.5,579.1 1223.2,577.7 1224.0,579.5 1224.8,577.3 1225.5,580.1 1226.2,578.1 1227.0,579.8 1227.8,575.7 1228.5,578.0 1229.2,574.1 1230.0,577.9 1230.8,576.1 1231.5,580.4 1232.2,576.3 1233.0,582.6 1233.8,575.8 1234.5,579.2 1235.2,578.1 1236.0,582.5 1236.8,579.4 1237.5,580.3 1238.2,579.2 1239.0,584.1 1239.8,580.2 1240.5,583.8 1241.2,582.6 1242.0,582.9 1242.8,581.8 1243.5,582.5 1244.2,580.6 1245.0,584.2 1245.8,580.4 1246.5,581.0 1247.2,577.1 1248.0,585.6 1248.8,581.6 1249.5,582.0 1250.2,579.5 1251.0,582.6 1251.8,578.8 1252.5,582.0 1253.2,580.8 1254.0,581.9 1254.8,579.4 1255.5,582.1 1256.2,580.8 1257.0,581.3 1257.8,579.5 1258.5,580.5 1259.2,579.1 1260.0,581.4 1260.8,579.3 1261.5,579.3 1262.2,577.5 1263.0,578.4 1263.8,573.8 1264.5,577.5 1265.2,573.4 1266.0,574.4 1266.8,572.3 1267.5,575.6 1268.2,572.5 1269.0,571.0 1269.8,568.4 1270.5,569.7 1271.2,567.3 1272.0,569.9 1272.8,566.7 1273.5,564.7 1274.2,560.9 1275.0,564.4 1275.8,555.9 1276.5,561.6 1277.2,553.7 1278.0,554.0 1278.8,550.3 1279.5,552.6 1280.2,550.3 1281.0,552.5 1281.8,547.4 1282.5,549.4 1283.2,545.9 1284.0,549.5 1284.8,545.8 1285.5,547.2 1286.2,543.8 1287.0,547.8 1287.8,545.2 1288.5,547.6 1289.2,544.3 1290.0,548.4 1290.8,545.8 1291.5,548.4 1292.2,546.5 1293.0,552.1 1293.8,549.8 1294.5,556.1 1295.2,554.6 1296.0,557.5 1296.8,558.8 1297.5,564.0 1298.2,562.5 1299.0,566.8 1299.8,567.0 1300.5,567.7 1301.2,566.2 1302.0,568.1 1302.8,562.1 1303.5,563.1 1304.2,555.0 1305.0,550.0 1305.8,543.4 1306.5,544.7 1307.2,541.4 1308.0,545.1 1308.8,545.3 1309.5,552.5 1310.2,555.0 1311.0,564.9 1311.8,566.5 1312.5,569.0 1313.2,568.9 1314.0,573.4 1314.8,573.2 1315.5,575.2 1316.2,573.7 1317.0,576.9 1317.8,572.7 1318.5,576.9 1319.2,572.6 1320.0,575.5 1320.8,573.1 1321.5,576.0 1322.2,572.6 1323.0,573.7 1323.8,571.9 1324.5,574.5 1325.2,571.3 1326.0,572.4 1326.8,570.2 1327.5,571.3 1328.2,568.8 1329.0,571.1 1329.8,567.1 1330.5,572.0 1331.2,568.6 1332.0,566.7 1332.8,564.8 1333.5,566.7 1334.2,565.1 1335.0,567.9 1335.8,563.0 1336.5,564.7 1337.2,561.4 1338.0,560.4 1338.8,554.5 1339.5,554.0 1340.2,548.9 1341.0,546.8 1341.8,539.5 1342.5,541.2 1343.2,536.8 1344.0,540.0 1344.8,540.5 1345.5,546.7 1346.2,548.7 1347.0,556.7 1347.8,558.2 1348.5,567.1 1349.2,562.6 1350.0,569.5 1350.8,569.4 1351.5,571.5 1352.2,569.9 1353.0,573.8 1353.8,569.8 1354.5,575.3 1355.2,572.2 1356.0,576.8 1356.8,576.0 1357.5,575.5 1358.2,573.5 1359.0,574.3 1359.8,570.2 1360.5,573.6 1361.2,572.4 1362.0,574.9 1362.8,572.4 1363.5,573.1 1364.2,569.2 1365.0,573.1 1365.8,568.7 1366.5,570.1 1367.2,565.4 1368.0,567.3 1368.8,562.5 1369.5,565.7 1370.2,556.3 1371.0,561.2 1371.8,558.2 1372.5,558.8 1373.2,553.9 1374.0,554.3 1374.8,551.5 1375.5,551.6 1376.2,548.4 1377.0,548.0 1377.8,545.5 1378.5,548.6 1379.2,544.4 1380.0,543.8 1380.8,541.3 1381.5,544.7 1382.2,544.1 1383.0,545.6 1383.8,542.3 1384.5,548.5 1385.2,542.9 1386.0,547.8 1386.8,547.7 1387.5,552.5 1388.2,552.9 1389.0,557.3 1389.8,556.0 1390.5,561.5 1391.2,562.3 1392.0,562.7 1392.8,563.7 1393.5,569.2 1394.2,567.0 1395.0,570.7 1395.8,568.8 1396.5,574.5 1397.2,573.0 1398.0,576.7 1398.8,576.6 1399.5,577.4 1400.2,573.3 1401.0,579.6 1401.8,578.3 1402.5,578.2 1403.2,576.0 1404.0,580.9 1404.8,580.4 1405.5,580.8 1406.2,578.1 1407.0,581.6 1407.8,578.6 1408.5,579.4 1409.2,576.4 1410.0,582.0 1410.8,578.7 1411.5,578.9 1412.2,575.4 1413.0,577.5 1413.8,573.2 1414.5,577.9 1415.2,573.6 1416.0,573.6 1416.8,571.3 1417.5,574.4 1418.2,569.8 1419.0,572.7 1419.8,569.2 1420.5,570.1 1421.2,568.8 1422.0,572.1 1422.8,569.4 1423.5,572.2 1424.2,569.0 1425.0,568.6 1425.8,564.9 1426.5,570.4 1427.2,568.5 1428.0,569.8 1428.8,567.9 1429.5,568.1 1430.2,567.2 1431.0,570.2 1431.8,569.2 1432.5,573.9 1433.2,570.9 1434.0,571.0 1434.8,569.6 1435.5,572.8 1436.2,569.8 1437.0,573.3 1437.8,569.7 1438.5,580.0 1439.2,572.1 1440.0,577.4 1440.8,573.7 1441.5,574.3 1442.2,573.7 1443.0,576.8 1443.8,573.7 1444.5,578.3 1445.2,574.3 1446.0,578.5 1446.8,571.4 1447.5,577.9 1448.2,574.5 1449.0,575.5 1449.8,573.1 1450.5,576.4 1451.2,573.9 1452.0,575.3 1452.8,571.6 1453.5,574.7 1454.2,571.2 1455.0,572.3 1455.8,571.3 1456.5,573.3 1457.2,572.3 1458.0,575.8 1458.8,570.8 1459.5,571.3 1460.2,569.5 1461.0,574.0 1461.8,571.9 1462.5,575.2 1463.2,572.2 1464.0,574.1 1464.8,572.4 1465.5,573.8 1466.2,571.4 1467.0,574.4 1467.8,569.4 1468.5,571.3 1469.2,570.3 1470.0,573.0 1470.8,569.0 1471.5,573.4 1472.2,569.9 1473.0,571.5 1473.8,570.4 1474.5,573.4 1475.2,571.4 1476.0,573.4 1476.8,570.2 1477.5,573.6 1478.2,570.8 1479.0,574.6 1479.8,573.7 1480.5,573.7 1481.2,572.7 1482.0,575.2 1482.8,572.8 1483.5,572.0 1484.2,571.6 1485.0,576.6 1485.8,574.2 1486.5,576.3 1487.2,573.3 1488.0,580.3 1488.8,577.0 1489.5,577.3 1490.2,574.4 1491.0,577.8 1491.8,577.3 1492.5,580.8 1493.2,579.6 1494.0,583.0 1494.8,581.0 1495.5,579.7 1496.2,575.2 1497.0,579.8 1497.8,575.6 1498.5,577.1 1499.2,573.7 1500.0,578.3 1500.8,574.9 1501.5,577.5 1502.2,574.1 1503.0,573.7 1503.8,571.1 1504.5,573.1 1505.2,570.4 1506.0,571.1 1506.8,566.7 1507.5,568.8 1508.2,566.9 1509.0,571.1 1509.8,569.1 1510.5,570.7 1511.2,569.2 1512.0,573.0 1512.8,572.1 1513.5,572.8 1514.2,572.7 1515.0,577.8 1515.8,575.5 1516.5,577.4 1517.2,577.0 1518.0,579.7 1518.8,579.2 1519.5,582.5 1520.2,581.9 1521.0,583.9 1521.8,581.6 1522.5,586.3 1523.2,584.8 1524.0,586.2 1524.8,582.7 1525.5,585.3 1526.2,584.9 1527.0,588.3 1527.8,587.7 1528.5,592.0 1529.2,584.0 1530.0,588.9 1530.8,585.4 1531.5,590.5 1532.2,583.2 1533.0,588.8 1533.8,586.6 1534.5,590.5 1535.2,587.1 1536.0,590.2 1536.8,587.4 1537.5,588.6 1538.2,587.5 1539.0,589.8 1539.8,587.2 1540.5,591.7 1541.2,589.0 1542.0,592.0 1542.8,590.4 1543.5,593.2 1544.2,590.4 1545.0,590.6 1545.8,587.8 1546.5,589.6 1547.2,588.3 1548.0,591.5 1548.8,590.4 1549.5,591.5 1550.2,588.6 1551.0,593.0 1551.8,589.7 1552.5,593.1 1553.2,590.2 1554.0,591.5 1554.8,588.9 1555.5,592.0 1556.2,589.1 1557.0,590.2 1557.8,587.7 1558.5,590.1 1559.2,588.0 1560.0,592.3 1560.8,591.2 1561.5,594.6 1562.2,592.1 1563.0,591.0 1563.8,586.9 1564.5,590.9 1565.2,587.7 1566.0,591.0 1566.8,589.8 1567.5,593.3 1568.2,590.4 1569.0,590.2 1569.8,587.4 1570.5,592.4 1571.2,589.6 1572.0,594.6 1572.8,590.6 1573.5,590.3 1574.2,586.4 1575.0,590.8 1575.8,588.4 1576.5,592.3 1577.2,591.3 1578.0,593.2 1578.8,591.3 1579.5,591.0 1580.2,589.0 1581.0,593.2 1581.8,590.8 1582.5,593.0 1583.2,591.1 1584.0,593.1 1584.8,585.6 1585.5,592.3 1586.2,589.4 1587.0,592.3 1587.8,588.3 1588.5,591.8 1589.2,589.4 1590.0,592.9 1590.8,589.5 1591.5,592.9 1592.2,586.5 1593.0,590.0 1593.8,587.4 1594.5,591.0 1595.2,587.6 1596.0,590.0 1596.8,588.7 1597.5,593.0 1598.2,588.2 1599.0,594.0 1599.8,589.9 1600.5,590.7 1601.2,589.6 1602.0,590.6 1602.8,589.2 1603.5,590.9 1604.2,589.3 1605.0,592.9 1605.8,590.1 1606.5,593.7 1607.2,587.1 1608.0,593.2 1608.8,587.9 1609.5,590.6 1610.2,588.7 1611.0,594.3 1611.8,586.4 1612.5,590.4 1613.2,589.2 1614.0,593.4 1614.8,589.6 1615.5,591.0 1616.2,589.2 1617.0,592.2 1617.8,590.4 1618.5,590.9 1619.2,589.5 1620.0,591.9 1620.8,587.8 1621.5,589.4 1622.2,585.2 1623.0,591.8 1623.8,586.0 1624.5,589.8 1625.2,585.9 1626.0,590.9 1626.8,589.0 1627.5,590.8 1628.2,586.9 1629.0,590.4 1629.8,586.9 1630.5,589.5 1631.2,585.9 1632.0,592.4 1632.8,586.0 1633.5,585.6 1634.2,584.7 1635.0,589.9 1635.8,586.7 1636.5,588.2 1637.2,586.3 1638.0,588.3 1638.8,585.8 1639.5,588.7 1640.2,587.4 1641.0,591.2 1641.8,587.7 1642.5,592.1 1643.2,588.3 1644.0,593.0 1644.8,589.9 1645.5,591.5 1646.2,587.7 1647.0,591.1 1647.8,588.3 1648.5,594.1 1649.2,589.8 1650.0,594.1 1650.8,590.3 1651.5,591.6 1652.2,587.8 1653.0,590.7 1653.8,589.2 1654.5,592.3 1655.2,589.4 1656.0,590.2 1656.8,588.9 1657.5,591.0 1658.2,588.9 1659.0,588.7 1659.8,585.3 1660.5,586.5 1661.2,580.6 1662.0,585.2 1662.8,581.2 1663.5,577.3 1664.2,575.0 1665.0,577.3 1665.8,573.7 1666.5,575.8 1667.2,576.5 1668.0,579.8 1668.8,580.2 1669.5,586.9 1670.2,586.8 1671.0,591.4 1671.8,590.2 1672.5,590.8 1673.2,590.3 1674.0,592.4 1674.8,590.3 1675.5,593.8 1676.2,591.4 1677.0,593.8 1677.8,589.6 1678.5,591.5 1679.2,588.2 1680.0,592.9 1680.8,591.5 1681.5,592.6 1682.2,591.7 1683.0,590.4 1683.8,587.4 1684.5,594.9 1685.2,591.3 1686.0,590.3 1686.8,589.0 1687.5,590.1 1688.2,589.1 1689.0,590.8 1689.8,589.6 1690.5,592.0 1691.2,591.0 1692.0,592.9 1692.8,590.5 1693.5,592.0 1694.2,588.0 1695.0,593.7 1695.8,591.2 1696.5,593.6 1697.2,592.5 1698.0,592.6 1698.8,591.2 1699.5,591.8 1700.2,588.4 1701.0,592.9 1701.8,590.3 1702.5,593.4 1703.2,591.0 1704.0,595.7 1704.8,592.3 1705.5,593.7 1706.2,591.6 1707.0,594.5 1707.8,593.2 1708.5,597.4 1709.2,596.2 1710.0,594.6 1710.8,592.2 1711.5,595.3 1712.2,591.2 1713.0,597.6 1713.8,591.7 1714.5,596.8 1715.2,593.4 1716.0,596.8 1716.8,593.7 1717.5,595.3 1718.2,592.2 1719.0,592.7 1719.8,591.7 1720.5,592.5 1721.2,590.4 1722.0,594.3 1722.8,591.2 1723.5,594.3 1724.2,592.6 1725.0,592.8 1725.8,592.0 1726.5,593.5 1727.2,590.8 1728.0,594.9 1728.8,592.2 1729.5,594.8 1730.2,592.1 1731.0,593.7 1731.8,593.0 1732.5,596.8 1733.2,595.9 1734.0,595.7 1734.8,594.9 1735.5,594.0 1736.2,591.2 1737.0,596.8 1737.8,593.9 1738.5,595.4 1739.2,592.8 1740.0,595.2 1740.8,591.4 1741.5,594.4 1742.2,592.8 1743.0,598.5 1743.8,596.7 1744.5,596.0 1745.2,592.4 1746.0,594.6 1746.8,591.9 1747.5,595.1 1748.2,593.1 1749.0,596.2 1749.8,594.2 1750.5,595.3 1751.2,593.5 1752.0,595.2 1752.8,592.7 1753.5,593.9 1754.2,592.0 1755.0,594.3 1755.8,592.2 1756.5,593.8 1757.2,590.8 1758.0,595.3 1758.8,592.6 1759.5,595.7" fill="none" stroke="#008080" stroke-width="3.8" stroke-linejoin="round" stroke-linecap="butt"/>
<polyline points="129.0,338.4 129.8,335.1 130.5,337.0 131.2,334.1 132.0,336.4 132.8,334.9 133.5,337.4 134.2,335.7 135.0,333.1 135.8,332.1 136.5,337.4 137.2,329.8 138.0,338.4 138.8,332.4 139.5,335.0 140.2,333.1 141.0,338.1 141.8,334.3 142.5,337.7 143.2,334.3 144.0,335.8 144.8,333.9 145.5,339.0 146.2,333.6 147.0,334.8 147.8,331.4 148.5,335.9 149.2,334.4 150.0,337.6 150.8,334.8 151.5,337.1 152.2,336.3 153.0,337.4 153.8,334.2 154.5,340.0 155.2,333.7 156.0,336.0 156.8,335.2 157.5,335.3 158.2,334.5 159.0,336.8 159.8,334.0 160.5,338.9 161.2,336.7 162.0,339.4 162.8,335.6 163.5,337.2 164.2,333.7 165.0,336.4 165.8,334.7 166.5,336.7 167.2,334.5 168.0,334.2 168.8,332.5 169.5,335.4 170.2,333.5 171.0,338.4 171.8,332.0 172.5,336.8 173.2,331.5 174.0,336.1 174.8,333.5 175.5,334.8 176.2,332.6 177.0,336.0 177.8,334.0 178.5,336.6 179.2,335.9 180.0,336.1 180.8,334.4 181.5,337.5 182.2,334.8 183.0,336.4 183.8,333.8 184.5,335.0 185.2,333.9 186.0,336.6 186.8,334.5 187.5,334.6 188.2,332.3 189.0,335.6 189.8,333.7 190.5,336.9 191.2,333.5 192.0,336.9 192.8,333.1 193.5,337.4 194.2,334.8 195.0,336.8 195.8,333.0 196.5,338.9 197.2,334.9 198.0,337.5 198.8,336.1 199.5,336.6 200.2,335.6 201.0,336.5 201.8,334.1 202.5,335.2 203.2,334.4 204.0,337.4 204.8,336.3 205.5,339.6 206.2,332.2 207.0,342.3 207.8,336.3 208.5,338.1 209.2,336.4 210.0,339.2 210.8,336.7 211.5,336.6 212.2,334.1 213.0,336.9 213.8,335.8 214.5,337.6 215.2,334.2 216.0,335.6 216.8,331.9 217.5,337.6 218.2,335.8 219.0,337.7 219.8,334.3 220.5,338.0 221.2,334.2 222.0,338.2 222.8,335.6 223.5,339.3 224.2,335.9 225.0,338.2 225.8,336.0 226.5,339.9 227.2,336.8 228.0,336.8 228.8,334.5 229.5,337.7 230.2,336.9 231.0,336.3 231.8,334.8 232.5,337.2 233.2,335.0 234.0,338.3 234.8,336.9 235.5,338.6 236.2,335.3 237.0,338.4 237.8,334.7 238.5,337.2 239.2,335.8 240.0,337.8 240.8,336.2 241.5,339.8 242.2,335.5 243.0,338.5 243.8,335.2 244.5,336.5 245.2,334.9 246.0,338.3 246.8,335.8 247.5,336.6 248.2,335.5 249.0,336.8 249.8,335.8 250.5,337.8 251.2,334.4 252.0,337.4 252.8,336.2 253.5,337.3 254.2,334.1 255.0,336.6 255.8,332.7 256.5,334.0 257.2,332.0 258.0,336.2 258.8,329.0 259.5,335.3 260.2,332.4 261.0,332.9 261.8,331.4 262.5,334.6 263.2,331.7 264.0,333.5 264.8,329.7 265.5,332.1 266.2,330.3 267.0,331.4 267.8,329.0 268.5,333.5 269.2,331.6 270.0,331.6 270.8,328.6 271.5,330.0 272.2,328.0 273.0,329.7 273.8,327.3 274.5,325.7 275.2,323.0 276.0,326.9 276.8,323.7 277.5,328.9 278.2,324.8 279.0,328.2 279.8,324.1 280.5,324.1 281.2,321.8 282.0,321.9 282.8,319.2 283.5,321.1 284.2,319.7 285.0,322.5 285.8,320.0 286.5,320.4 287.2,317.7 288.0,320.9 288.8,317.1 289.5,317.9 290.2,314.0 291.0,317.1 291.8,312.8 292.5,315.7 293.2,311.6 294.0,312.3 294.8,310.5 295.5,311.0 296.2,308.1 297.0,309.6 297.8,306.2 298.5,308.0 299.2,305.9 300.0,307.5 300.8,303.8 301.5,307.3 302.2,303.3 303.0,304.9 303.8,301.2 304.5,302.5 305.2,300.4 306.0,301.0 306.8,299.1 307.5,301.0 308.2,298.6 309.0,301.3 309.8,300.6 310.5,301.3 311.2,300.5 312.0,303.1 312.8,302.5 313.5,303.4 314.2,300.1 315.0,303.4 315.8,301.0 316.5,307.8 317.2,302.5 318.0,307.2 318.8,304.4 319.5,307.5 320.2,307.0 321.0,307.3 321.8,304.3 322.5,309.8 323.2,306.9 324.0,310.2 324.8,309.4 325.5,311.1 326.2,310.5 327.0,310.2 327.8,307.8 328.5,313.6 329.2,311.8 330.0,314.8 330.8,312.6 331.5,317.1 332.2,314.7 333.0,315.7 333.8,315.0 334.5,318.1 335.2,314.8 336.0,317.5 336.8,316.4 337.5,317.1 338.2,316.1 339.0,320.4 339.8,318.2 340.5,322.5 341.2,320.2 342.0,320.0 342.8,317.6 343.5,323.3 344.2,320.9 345.0,323.6 345.8,321.7 346.5,320.5 347.2,318.3 348.0,321.2 348.8,317.7 349.5,320.6 350.2,318.9 351.0,320.1 351.8,318.0 352.5,319.9 353.2,317.5 354.0,318.4 354.8,316.8 355.5,318.7 356.2,316.5 357.0,319.2 357.8,316.3 358.5,319.0 359.2,316.0 360.0,317.7 360.8,313.5 361.5,315.1 362.2,312.7 363.0,316.3 363.8,313.4 364.5,315.8 365.2,312.4 366.0,313.6 366.8,310.0 367.5,314.5 368.2,310.5 369.0,311.0 369.8,309.3 370.5,310.5 371.2,309.4 372.0,312.3 372.8,308.2 373.5,310.4 374.2,308.2 375.0,311.1 375.8,309.8 376.5,310.3 377.2,307.3 378.0,310.8 378.8,307.8 379.5,311.5 380.2,310.0 381.0,309.8 381.8,306.9 382.5,312.2 383.2,311.0 384.0,313.8 384.8,313.1 385.5,314.9 386.2,312.7 387.0,318.5 387.8,316.7 388.5,318.3 389.2,316.9 390.0,320.3 390.8,319.9 391.5,321.9 392.2,321.1 393.0,329.3 393.8,324.2 394.5,328.3 395.2,323.3 396.0,330.2 396.8,328.0 397.5,329.0 398.2,327.1 399.0,332.6 399.8,331.9 400.5,331.3 401.2,330.2 402.0,332.7 402.8,332.2 403.5,332.8 404.2,329.6 405.0,334.6 405.8,331.9 406.5,337.1 407.2,335.3 408.0,334.2 408.8,333.3 409.5,339.2 410.2,335.5 411.0,338.7 411.8,337.9 412.5,337.0 413.2,335.1 414.0,337.0 414.8,334.0 415.5,338.5 416.2,337.2 417.0,340.7 417.8,338.9 418.5,338.8 419.2,338.2 420.0,341.6 420.8,341.4 421.5,345.7 422.2,342.4 423.0,346.9 423.8,345.0 424.5,346.0 425.2,343.3 426.0,348.6 426.8,346.9 427.5,349.8 428.2,347.6 429.0,351.7 429.8,349.4 430.5,351.1 431.2,349.3 432.0,353.0 432.8,350.2 433.5,353.0 434.2,350.1 435.0,352.0 435.8,348.8 436.5,356.3 437.2,353.9 438.0,353.7 438.8,352.8 439.5,354.2 440.2,352.4 441.0,353.7 441.8,352.5 442.5,357.8 443.2,354.0 444.0,355.2 444.8,354.2 445.5,356.4 446.2,355.1 447.0,356.2 447.8,355.4 448.5,356.9 449.2,354.6 450.0,355.8 450.8,353.1 451.5,356.6 452.2,355.4 453.0,360.9 453.8,357.2 454.5,358.3 455.2,356.9 456.0,358.4 456.8,355.2 457.5,357.6 458.2,356.2 459.0,357.6 459.8,356.9 460.5,358.4 461.2,357.5 462.0,358.9 462.8,358.1 463.5,364.1 464.2,357.0 465.0,360.5 465.8,358.3 466.5,362.7 467.2,359.5 468.0,358.5 468.8,356.1 469.5,359.5 470.2,358.8 471.0,358.6 471.8,355.9 472.5,358.6 473.2,355.5 474.0,362.1 474.8,357.8 475.5,360.7 476.2,354.7 477.0,360.6 477.8,359.2 478.5,360.7 479.2,357.0 480.0,363.1 480.8,359.4 481.5,363.2 482.2,359.5 483.0,359.0 483.8,357.1 484.5,362.5 485.2,359.1 486.0,361.2 486.8,358.5 487.5,361.2 488.2,359.5 489.0,359.9 489.8,358.2 490.5,361.5 491.2,360.4 492.0,362.4 492.8,358.7 493.5,359.8 494.2,358.2 495.0,358.8 495.8,354.7 496.5,357.2 497.2,353.2 498.0,359.4 498.8,357.4 499.5,358.6 500.2,354.7 501.0,355.4 501.8,351.6 502.5,353.9 503.2,351.2 504.0,357.8 504.8,352.2 505.5,350.2 506.2,347.3 507.0,349.5 507.8,347.0 508.5,348.6 509.2,344.8 510.0,349.3 510.8,339.8 511.5,340.7 512.2,335.7 513.0,337.1 513.8,332.1 514.5,330.7 515.2,326.0 516.0,326.7 516.8,320.9 517.5,311.3 518.2,302.3 519.0,296.3 519.8,291.5 520.5,290.3 521.2,284.9 522.0,291.8 522.8,291.0 523.5,296.8 524.2,298.9 525.0,308.8 525.8,318.3 526.5,325.7 527.2,326.4 528.0,330.6 528.8,331.3 529.5,341.3 530.2,341.3 531.0,347.0 531.8,341.6 532.5,350.0 533.2,350.3 534.0,350.4 534.8,351.0 535.5,356.8 536.2,350.2 537.0,358.7 537.8,356.5 538.5,356.5 539.2,355.9 540.0,360.2 540.8,356.2 541.5,360.2 542.2,358.0 543.0,362.1 543.8,359.6 544.5,363.0 545.2,359.8 546.0,361.1 546.8,358.2 547.5,362.8 548.2,361.1 549.0,361.5 549.8,360.0 550.5,362.1 551.2,360.1 552.0,362.9 552.8,360.3 553.5,364.1 554.2,361.4 555.0,363.5 555.8,359.8 556.5,364.6 557.2,360.4 558.0,362.8 558.8,359.7 559.5,361.9 560.2,359.3 561.0,362.6 561.8,359.6 562.5,364.8 563.2,360.7 564.0,364.5 564.8,360.8 565.5,363.2 566.2,362.2 567.0,362.0 567.8,359.8 568.5,362.8 569.2,360.2 570.0,364.1 570.8,360.6 571.5,364.5 572.2,361.5 573.0,363.6 573.8,361.6 574.5,362.2 575.2,360.6 576.0,362.0 576.8,359.5 577.5,363.3 578.2,355.9 579.0,361.9 579.8,359.1 580.5,363.0 581.2,361.4 582.0,361.9 582.8,358.4 583.5,360.2 584.2,358.4 585.0,360.5 585.8,358.9 586.5,363.2 587.2,360.6 588.0,358.9 588.8,355.8 589.5,357.8 590.2,354.0 591.0,355.4 591.8,352.3 592.5,353.1 593.2,350.6 594.0,353.9 594.8,352.1 595.5,352.4 596.2,350.6 597.0,351.7 597.8,347.7 598.5,351.9 599.2,349.1 600.0,351.1 600.8,349.8 601.5,350.3 602.2,346.9 603.0,350.7 603.8,349.1 604.5,351.5 605.2,351.4 606.0,353.2 606.8,347.4 607.5,354.7 608.2,352.9 609.0,356.7 609.8,354.5 610.5,355.2 611.2,353.5 612.0,360.4 612.8,360.0 613.5,359.9 614.2,358.9 615.0,362.6 615.8,359.6 616.5,358.0 617.2,357.5 618.0,360.6 618.8,358.9 619.5,364.4 620.2,358.4 621.0,359.7 621.8,358.5 622.5,362.3 623.2,360.3 624.0,357.9 624.8,354.7 625.5,358.2 626.2,353.9 627.0,355.5 627.8,352.8 628.5,353.0 629.2,349.3 630.0,352.6 630.8,349.2 631.5,351.0 632.2,347.1 633.0,348.4 633.8,342.9 634.5,346.1 635.2,342.9 636.0,346.5 636.8,343.1 637.5,344.6 638.2,342.6 639.0,344.4 639.8,340.2 640.5,342.6 641.2,341.6 642.0,343.7 642.8,341.5 643.5,341.8 644.2,339.4 645.0,341.0 645.8,338.0 646.5,340.4 647.2,338.5 648.0,339.6 648.8,333.2 649.5,328.8 650.2,323.7 651.0,321.8 651.8,320.0 652.5,324.4 653.2,328.3 654.0,336.2 654.8,340.6 655.5,346.9 656.2,349.0 657.0,355.8 657.8,357.6 658.5,359.5 659.2,358.8 660.0,360.6 660.8,358.7 661.5,364.6 662.2,362.7 663.0,365.0 663.8,362.5 664.5,365.3 665.2,362.4 666.0,364.2 666.8,361.1 667.5,366.6 668.2,363.4 669.0,364.4 669.8,361.2 670.5,363.0 671.2,362.3 672.0,365.5 672.8,361.9 673.5,366.2 674.2,363.4 675.0,364.6 675.8,362.6 676.5,365.0 677.2,362.1 678.0,364.0 678.8,360.5 679.5,366.2 680.2,362.4 681.0,363.2 681.8,362.1 682.5,365.4 683.2,362.0 684.0,368.1 684.8,364.5 685.5,364.2 686.2,362.1 687.0,362.4 687.8,361.0 688.5,365.0 689.2,357.4 690.0,362.2 690.8,361.1 691.5,363.3 692.2,359.9 693.0,363.9 693.8,362.3 694.5,367.9 695.2,360.7 696.0,364.3 696.8,361.0 697.5,363.9 698.2,360.7 699.0,364.7 699.8,361.8 700.5,363.0 701.2,359.8 702.0,363.6 702.8,359.7 703.5,364.3 704.2,360.4 705.0,363.1 705.8,360.6 706.5,360.0 707.2,358.1 708.0,359.2 708.8,356.8 709.5,357.5 710.2,356.1 711.0,357.7 711.8,355.2 712.5,357.4 713.2,355.4 714.0,354.6 714.8,351.2 715.5,351.5 716.2,347.4 717.0,350.8 717.8,348.1 718.5,350.5 719.2,341.4 720.0,343.8 720.8,339.6 721.5,338.2 722.2,334.6 723.0,331.9 723.8,326.1 724.5,324.5 725.2,317.1 726.0,318.5 726.8,310.6 727.5,307.8 728.2,301.6 729.0,298.6 729.8,291.3 730.5,287.6 731.2,279.4 732.0,269.0 732.8,258.5 733.5,252.4 734.2,241.8 735.0,234.9 735.8,225.3 736.5,220.5 737.2,209.9 738.0,205.5 738.8,198.0 739.5,194.6 740.2,188.5 741.0,184.8 741.8,179.5 742.5,182.2 743.2,178.8 744.0,177.3 744.8,175.3 745.5,177.6 746.2,175.3 747.0,178.9 747.8,178.0 748.5,181.1 749.2,180.1 750.0,183.3 750.8,182.9 751.5,190.1 752.2,193.3 753.0,201.0 753.8,206.5 754.5,218.5 755.2,219.0 756.0,229.6 756.8,236.2 757.5,247.4 758.2,254.8 759.0,266.8 759.8,271.0 760.5,283.2 761.2,287.9 762.0,295.6 762.8,297.6 763.5,303.3 764.2,304.1 765.0,307.4 765.8,308.4 766.5,312.4 767.2,311.2 768.0,316.1 768.8,313.2 769.5,312.1 770.2,309.2 771.0,310.5 771.8,307.4 772.5,304.1 773.2,299.3 774.0,298.0 774.8,293.4 775.5,292.2 776.2,286.6 777.0,285.9 777.8,280.8 778.5,280.0 779.2,275.1 780.0,279.2 780.8,274.8 781.5,274.5 782.2,270.4 783.0,273.8 783.8,270.3 784.5,272.7 785.2,271.7 786.0,277.2 786.8,276.3 787.5,281.3 788.2,281.6 789.0,288.2 789.8,289.5 790.5,295.2 791.2,296.2 792.0,302.7 792.8,304.5 793.5,307.5 794.2,308.9 795.0,314.6 795.8,316.9 796.5,323.7 797.2,324.0 798.0,327.0 798.8,328.0 799.5,335.8 800.2,333.2 801.0,341.5 801.8,342.1 802.5,345.0 803.2,344.7 804.0,348.6 804.8,346.0 805.5,349.9 806.2,347.4 807.0,350.7 807.8,349.1 808.5,348.7 809.2,344.4 810.0,344.7 810.8,340.8 811.5,340.4 812.2,336.1 813.0,337.5 813.8,334.0 814.5,332.5 815.2,327.4 816.0,330.3 816.8,326.2 817.5,327.9 818.2,323.7 819.0,327.6 819.8,326.1 820.5,325.6 821.2,323.0 822.0,326.8 822.8,326.0 823.5,330.5 824.2,330.6 825.0,329.9 825.8,328.5 826.5,335.8 827.2,335.3 828.0,339.5 828.8,339.0 829.5,347.4 830.2,347.3 831.0,350.5 831.8,349.7 832.5,352.7 833.2,352.6 834.0,358.2 834.8,351.6 835.5,358.3 836.2,355.9 837.0,359.8 837.8,356.6 838.5,359.4 839.2,358.5 840.0,362.7 840.8,360.0 841.5,363.3 842.2,360.3 843.0,366.4 843.8,362.6 844.5,363.2 845.2,359.9 846.0,365.6 846.8,360.5 847.5,366.2 848.2,363.6 849.0,366.1 849.8,364.7 850.5,365.8 851.2,362.7 852.0,369.1 852.8,364.4 853.5,367.3 854.2,365.8 855.0,368.5 855.8,366.6 856.5,366.5 857.2,363.9 858.0,368.2 858.8,365.6 859.5,367.1 860.2,363.2 861.0,366.0 861.8,364.9 862.5,367.6 863.2,363.7 864.0,365.8 864.8,362.1 865.5,365.1 866.2,362.3 867.0,366.6 867.8,364.7 868.5,364.7 869.2,358.8 870.0,366.0 870.8,359.5 871.5,363.7 872.2,362.2 873.0,364.6 873.8,360.6 874.5,361.6 875.2,359.2 876.0,360.2 876.8,358.9 877.5,364.0 878.2,361.0 879.0,361.9 879.8,360.5 880.5,364.1 881.2,361.2 882.0,363.2 882.8,361.8 883.5,363.0 884.2,361.7 885.0,364.9 885.8,362.7 886.5,365.7 887.2,363.7 888.0,363.8 888.8,363.0 889.5,369.1 890.2,366.2 891.0,366.9 891.8,365.3 892.5,370.0 893.2,367.6 894.0,370.0 894.8,367.4 895.5,367.9 896.2,366.2 897.0,368.5 897.8,367.7 898.5,369.5 899.2,366.4 900.0,370.3 900.8,367.4 901.5,370.0 902.2,368.5 903.0,371.0 903.8,368.9 904.5,371.5 905.2,369.1 906.0,371.2 906.8,369.4 907.5,371.5 908.2,367.9 909.0,370.1 909.8,367.6 910.5,371.7 911.2,370.7 912.0,371.3 912.8,370.6 913.5,374.4 914.2,369.9 915.0,372.3 915.8,369.3 916.5,372.8 917.2,371.2 918.0,371.9 918.8,369.7 919.5,374.2 920.2,370.9 921.0,372.6 921.8,371.3 922.5,374.3 923.2,371.5 924.0,378.8 924.8,372.4 925.5,374.4 926.2,372.9 927.0,373.7 927.8,371.7 928.5,374.8 929.2,371.7 930.0,374.9 930.8,371.2 931.5,374.0 932.2,371.9 933.0,374.2 933.8,372.0 934.5,373.6 935.2,372.5 936.0,374.8 936.8,371.2 937.5,375.1 938.2,373.3 939.0,376.3 939.8,372.0 940.5,376.6 941.2,373.5 942.0,374.8 942.8,372.4 943.5,375.4 944.2,371.7 945.0,377.5 945.8,374.1 946.5,372.9 947.2,369.8 948.0,373.8 948.8,372.7 949.5,374.8 950.2,372.4 951.0,375.5 951.8,372.0 952.5,373.7 953.2,370.7 954.0,373.9 954.8,370.9 955.5,372.3 956.2,369.9 957.0,373.8 957.8,370.3 958.5,370.8 959.2,369.9 960.0,375.3 960.8,371.4 961.5,373.1 962.2,371.0 963.0,371.6 963.8,370.3 964.5,374.6 965.2,372.8 966.0,372.9 966.8,371.1 967.5,371.2 968.2,370.4 969.0,373.1 969.8,371.8 970.5,372.9 971.2,369.7 972.0,371.2 972.8,368.0 973.5,373.1 974.2,370.7 975.0,375.0 975.8,372.1 976.5,370.8 977.2,368.7 978.0,371.9 978.8,370.5 979.5,373.4 980.2,371.6 981.0,373.0 981.8,371.0 982.5,374.4 983.2,370.9 984.0,371.9 984.8,370.6 985.5,374.4 986.2,371.6 987.0,372.7 987.8,370.0 988.5,372.0 989.2,370.3 990.0,373.5 990.8,369.7 991.5,374.3 992.2,366.9 993.0,373.8 993.8,366.9 994.5,371.7 995.2,368.1 996.0,370.0 996.8,368.3 997.5,370.8 998.2,367.1 999.0,369.0 999.8,366.6 1000.5,370.0 1001.2,368.1 1002.0,368.3 1002.8,366.3 1003.5,364.3 1004.2,361.6 1005.0,365.1 1005.8,361.1 1006.5,363.5 1007.2,360.9 1008.0,361.6 1008.8,357.3 1009.5,360.7 1010.2,358.6 1011.0,358.5 1011.8,356.5 1012.5,359.2 1013.2,356.6 1014.0,358.6 1014.8,354.8 1015.5,359.5 1016.2,356.4 1017.0,360.2 1017.8,355.5 1018.5,361.0 1019.2,359.5 1020.0,360.9 1020.8,357.4 1021.5,357.9 1022.2,354.9 1023.0,355.2 1023.8,353.3 1024.5,353.4 1025.2,350.3 1026.0,351.0 1026.8,348.3 1027.5,345.9 1028.2,341.9 1029.0,344.9 1029.8,341.6 1030.5,342.8 1031.2,340.9 1032.0,341.5 1032.8,338.6 1033.5,339.1 1034.2,336.6 1035.0,338.1 1035.8,336.5 1036.5,338.2 1037.2,337.2 1038.0,343.5 1038.8,342.6 1039.5,344.7 1040.2,342.7 1041.0,346.5 1041.8,346.6 1042.5,347.6 1043.2,347.4 1044.0,350.5 1044.8,349.5 1045.5,352.3 1046.2,351.3 1047.0,357.7 1047.8,355.9 1048.5,357.7 1049.2,356.6 1050.0,360.3 1050.8,359.1 1051.5,363.8 1052.2,363.1 1053.0,365.7 1053.8,364.6 1054.5,364.8 1055.2,364.0 1056.0,368.2 1056.8,365.5 1057.5,368.3 1058.2,365.8 1059.0,369.7 1059.8,366.8 1060.5,368.1 1061.2,365.5 1062.0,370.7 1062.8,367.8 1063.5,371.1 1064.2,368.3 1065.0,370.6 1065.8,370.1 1066.5,371.5 1067.2,370.0 1068.0,372.5 1068.8,369.2 1069.5,372.3 1070.2,370.9 1071.0,370.7 1071.8,370.0 1072.5,372.9 1073.2,370.9 1074.0,373.9 1074.8,367.5 1075.5,373.5 1076.2,370.8 1077.0,373.0 1077.8,370.4 1078.5,372.6 1079.2,370.5 1080.0,372.9 1080.8,370.7 1081.5,373.2 1082.2,370.5 1083.0,374.1 1083.8,372.7 1084.5,373.5 1085.2,369.8 1086.0,375.1 1086.8,370.6 1087.5,374.0 1088.2,371.9 1089.0,375.7 1089.8,374.0 1090.5,375.0 1091.2,371.7 1092.0,371.9 1092.8,370.2 1093.5,371.2 1094.2,370.2 1095.0,373.2 1095.8,370.8 1096.5,373.6 1097.2,371.1 1098.0,372.6 1098.8,369.3 1099.5,374.3 1100.2,371.0 1101.0,371.1 1101.8,367.2 1102.5,370.2 1103.2,367.1 1104.0,370.7 1104.8,368.7 1105.5,372.5 1106.2,369.1 1107.0,371.4 1107.8,369.9 1108.5,370.2 1109.2,368.5 1110.0,371.4 1110.8,369.8 1111.5,370.7 1112.2,367.8 1113.0,369.3 1113.8,367.1 1114.5,370.8 1115.2,369.0 1116.0,372.3 1116.8,364.6 1117.5,367.8 1118.2,366.6 1119.0,370.0 1119.8,367.8 1120.5,371.2 1121.2,364.9 1122.0,371.8 1122.8,371.0 1123.5,372.3 1124.2,369.2 1125.0,371.3 1125.8,368.2 1126.5,376.6 1127.2,371.1 1128.0,374.1 1128.8,372.8 1129.5,374.2 1130.2,371.8 1131.0,374.7 1131.8,374.1 1132.5,376.3 1133.2,374.8 1134.0,377.3 1134.8,373.2 1135.5,377.4 1136.2,374.4 1137.0,377.8 1137.8,376.5 1138.5,377.4 1139.2,373.7 1140.0,377.1 1140.8,375.0 1141.5,378.5 1142.2,377.7 1143.0,377.0 1143.8,374.3 1144.5,376.9 1145.2,373.5 1146.0,376.6 1146.8,375.5 1147.5,377.4 1148.2,376.6 1149.0,375.8 1149.8,374.1 1150.5,376.8 1151.2,374.2 1152.0,375.5 1152.8,374.5 1153.5,379.1 1154.2,376.1 1155.0,378.0 1155.8,375.9 1156.5,377.2 1157.2,374.1 1158.0,376.9 1158.8,375.4 1159.5,374.1 1160.2,371.4 1161.0,374.0 1161.8,371.7 1162.5,375.3 1163.2,371.7 1164.0,375.9 1164.8,372.3 1165.5,371.0 1166.2,369.7 1167.0,375.7 1167.8,368.2 1168.5,372.5 1169.2,368.9 1170.0,372.0 1170.8,368.3 1171.5,372.0 1172.2,368.3 1173.0,369.9 1173.8,367.0 1174.5,372.9 1175.2,369.5 1176.0,370.5 1176.8,367.9 1177.5,372.1 1178.2,369.9 1179.0,370.7 1179.8,370.1 1180.5,373.2 1181.2,370.7 1182.0,372.8 1182.8,370.6 1183.5,376.4 1184.2,375.7 1185.0,378.4 1185.8,377.7 1186.5,377.4 1187.2,373.9 1188.0,376.9 1188.8,376.3 1189.5,380.4 1190.2,377.5 1191.0,377.6 1191.8,375.1 1192.5,378.3 1193.2,377.1 1194.0,377.4 1194.8,376.1 1195.5,380.4 1196.2,376.7 1197.0,380.8 1197.8,375.3 1198.5,380.5 1199.2,377.1 1200.0,380.3 1200.8,377.2 1201.5,377.4 1202.2,375.2 1203.0,377.4 1203.8,376.3 1204.5,379.7 1205.2,375.9 1206.0,379.1 1206.8,377.4 1207.5,378.9 1208.2,376.0 1209.0,379.1 1209.8,377.5 1210.5,380.0 1211.2,376.9 1212.0,377.7 1212.8,375.9 1213.5,378.4 1214.2,375.5 1215.0,376.9 1215.8,374.9 1216.5,376.3 1217.2,372.5 1218.0,377.4 1218.8,375.3 1219.5,378.7 1220.2,374.6 1221.0,375.7 1221.8,371.7 1222.5,375.9 1223.2,374.3 1224.0,375.3 1224.8,372.8 1225.5,371.9 1226.2,369.5 1227.0,372.0 1227.8,368.8 1228.5,370.4 1229.2,369.7 1230.0,373.8 1230.8,370.9 1231.5,375.4 1232.2,372.4 1233.0,373.4 1233.8,372.6 1234.5,373.2 1235.2,372.5 1236.0,376.3 1236.8,374.2 1237.5,378.2 1238.2,375.6 1239.0,376.7 1239.8,375.5 1240.5,377.5 1241.2,374.4 1242.0,374.6 1242.8,373.8 1243.5,377.9 1244.2,376.0 1245.0,377.1 1245.8,375.0 1246.5,378.2 1247.2,374.8 1248.0,377.2 1248.8,376.3 1249.5,377.1 1250.2,375.0 1251.0,376.4 1251.8,374.4 1252.5,377.2 1253.2,375.4 1254.0,377.4 1254.8,375.3 1255.5,378.2 1256.2,376.0 1257.0,375.0 1257.8,373.3 1258.5,374.2 1259.2,370.8 1260.0,376.4 1260.8,373.6 1261.5,376.7 1262.2,369.2 1263.0,371.6 1263.8,367.1 1264.5,369.0 1265.2,367.3 1266.0,367.8 1266.8,365.2 1267.5,367.9 1268.2,364.0 1269.0,363.6 1269.8,359.6 1270.5,361.5 1271.2,358.3 1272.0,356.2 1272.8,353.6 1273.5,353.0 1274.2,347.9 1275.0,350.5 1275.8,346.9 1276.5,345.4 1277.2,342.7 1278.0,344.4 1278.8,341.7 1279.5,343.8 1280.2,342.0 1281.0,342.4 1281.8,338.0 1282.5,341.1 1283.2,338.8 1284.0,339.1 1284.8,338.4 1285.5,342.4 1286.2,339.6 1287.0,340.7 1287.8,340.3 1288.5,344.4 1289.2,343.3 1290.0,347.7 1290.8,348.2 1291.5,350.4 1292.2,349.2 1293.0,354.8 1293.8,354.8 1294.5,357.2 1295.2,357.4 1296.0,361.7 1296.8,359.7 1297.5,363.1 1298.2,361.2 1299.0,366.6 1299.8,363.9 1300.5,366.4 1301.2,365.1 1302.0,367.8 1302.8,367.0 1303.5,370.3 1304.2,367.4 1305.0,371.3 1305.8,370.4 1306.5,374.0 1307.2,370.7 1308.0,370.5 1308.8,367.4 1309.5,373.2 1310.2,370.6 1311.0,367.9 1311.8,366.5 1312.5,368.8 1313.2,365.1 1314.0,372.6 1314.8,368.8 1315.5,371.0 1316.2,368.0 1317.0,368.2 1317.8,367.0 1318.5,367.6 1319.2,365.7 1320.0,366.8 1320.8,363.6 1321.5,363.6 1322.2,359.3 1323.0,365.1 1323.8,362.0 1324.5,361.8 1325.2,360.5 1326.0,359.5 1326.8,357.4 1327.5,361.9 1328.2,359.5 1329.0,361.3 1329.8,359.1 1330.5,361.5 1331.2,358.9 1332.0,360.3 1332.8,358.3 1333.5,358.1 1334.2,356.4 1335.0,359.1 1335.8,356.9 1336.5,358.9 1337.2,355.2 1338.0,360.1 1338.8,354.7 1339.5,361.0 1340.2,358.5 1341.0,358.3 1341.8,357.5 1342.5,356.8 1343.2,355.4 1344.0,360.4 1344.8,358.1 1345.5,360.2 1346.2,357.6 1347.0,361.6 1347.8,360.1 1348.5,366.6 1349.2,363.8 1350.0,366.5 1350.8,364.5 1351.5,365.7 1352.2,364.5 1353.0,367.5 1353.8,365.5 1354.5,370.0 1355.2,366.7 1356.0,368.4 1356.8,367.5 1357.5,370.4 1358.2,369.5 1359.0,368.4 1359.8,365.4 1360.5,369.4 1361.2,366.3 1362.0,368.1 1362.8,365.4 1363.5,366.1 1364.2,362.5 1365.0,365.8 1365.8,362.5 1366.5,364.0 1367.2,361.1 1368.0,363.9 1368.8,356.0 1369.5,356.9 1370.2,347.8 1371.0,353.1 1371.8,348.5 1372.5,351.2 1373.2,343.8 1374.0,346.8 1374.8,341.2 1375.5,340.6 1376.2,338.2 1377.0,337.8 1377.8,335.6 1378.5,336.2 1379.2,332.4 1380.0,337.3 1380.8,334.0 1381.5,333.9 1382.2,333.2 1383.0,337.3 1383.8,335.6 1384.5,337.1 1385.2,337.2 1386.0,340.4 1386.8,340.1 1387.5,342.8 1388.2,343.4 1389.0,347.6 1389.8,347.4 1390.5,354.8 1391.2,353.2 1392.0,357.7 1392.8,357.6 1393.5,364.6 1394.2,362.0 1395.0,364.6 1395.8,362.3 1396.5,366.5 1397.2,365.1 1398.0,370.8 1398.8,370.2 1399.5,371.1 1400.2,368.2 1401.0,370.6 1401.8,369.0 1402.5,369.0 1403.2,368.1 1404.0,370.6 1404.8,368.8 1405.5,372.1 1406.2,370.1 1407.0,372.8 1407.8,369.6 1408.5,368.6 1409.2,366.6 1410.0,370.9 1410.8,367.9 1411.5,368.1 1412.2,365.8 1413.0,367.6 1413.8,364.8 1414.5,367.4 1415.2,365.7 1416.0,366.2 1416.8,363.1 1417.5,365.6 1418.2,363.1 1419.0,365.9 1419.8,362.1 1420.5,364.2 1421.2,362.4 1422.0,363.0 1422.8,361.5 1423.5,362.9 1424.2,361.6 1425.0,361.9 1425.8,358.5 1426.5,361.3 1427.2,357.7 1428.0,360.5 1428.8,358.7 1429.5,362.1 1430.2,360.1 1431.0,361.8 1431.8,360.1 1432.5,363.7 1433.2,362.4 1434.0,363.9 1434.8,363.2 1435.5,367.4 1436.2,364.9 1437.0,364.8 1437.8,362.9 1438.5,367.6 1439.2,366.0 1440.0,367.2 1440.8,366.2 1441.5,369.9 1442.2,367.9 1443.0,366.7 1443.8,364.9 1444.5,368.0 1445.2,366.2 1446.0,366.6 1446.8,364.8 1447.5,366.2 1448.2,365.1 1449.0,367.4 1449.8,364.8 1450.5,368.2 1451.2,365.0 1452.0,367.8 1452.8,366.0 1453.5,367.8 1454.2,361.6 1455.0,365.0 1455.8,363.4 1456.5,367.1 1457.2,363.3 1458.0,369.2 1458.8,363.4 1459.5,366.1 1460.2,365.3 1461.0,367.1 1461.8,364.5 1462.5,366.6 1463.2,365.6 1464.0,366.2 1464.8,364.0 1465.5,366.2 1466.2,365.3 1467.0,368.9 1467.8,365.9 1468.5,367.2 1469.2,364.2 1470.0,365.4 1470.8,363.3 1471.5,365.3 1472.2,364.0 1473.0,365.3 1473.8,364.4 1474.5,366.7 1475.2,364.5 1476.0,367.3 1476.8,364.8 1477.5,364.2 1478.2,363.4 1479.0,366.0 1479.8,363.7 1480.5,366.0 1481.2,364.9 1482.0,366.3 1482.8,363.6 1483.5,364.9 1484.2,363.9 1485.0,367.8 1485.8,364.7 1486.5,371.4 1487.2,368.6 1488.0,369.4 1488.8,367.5 1489.5,374.1 1490.2,371.4 1491.0,372.5 1491.8,371.3 1492.5,373.8 1493.2,372.3 1494.0,376.3 1494.8,375.5 1495.5,377.5 1496.2,376.1 1497.0,374.6 1497.8,372.7 1498.5,376.7 1499.2,374.4 1500.0,374.7 1500.8,370.6 1501.5,370.8 1502.2,366.1 1503.0,367.8 1503.8,365.8 1504.5,365.9 1505.2,362.7 1506.0,367.0 1506.8,365.5 1507.5,368.8 1508.2,365.1 1509.0,362.6 1509.8,361.3 1510.5,364.3 1511.2,361.1 1512.0,365.0 1512.8,363.5 1513.5,365.5 1514.2,364.0 1515.0,368.9 1515.8,368.4 1516.5,369.7 1517.2,369.6 1518.0,372.8 1518.8,370.0 1519.5,372.7 1520.2,371.1 1521.0,374.0 1521.8,373.0 1522.5,378.2 1523.2,375.0 1524.0,376.7 1524.8,374.3 1525.5,380.3 1526.2,379.1 1527.0,379.8 1527.8,378.5 1528.5,382.6 1529.2,380.7 1530.0,383.2 1530.8,379.8 1531.5,383.4 1532.2,381.3 1533.0,383.3 1533.8,381.9 1534.5,383.1 1535.2,380.5 1536.0,383.5 1536.8,381.0 1537.5,384.3 1538.2,381.4 1539.0,385.6 1539.8,381.9 1540.5,385.2 1541.2,384.4 1542.0,384.4 1542.8,383.4 1543.5,387.6 1544.2,384.2 1545.0,384.6 1545.8,383.6 1546.5,385.2 1547.2,381.7 1548.0,385.8 1548.8,382.5 1549.5,387.3 1550.2,381.6 1551.0,388.6 1551.8,385.3 1552.5,388.0 1553.2,384.9 1554.0,386.7 1554.8,385.6 1555.5,387.2 1556.2,384.3 1557.0,387.8 1557.8,384.9 1558.5,385.6 1559.2,383.9 1560.0,390.8 1560.8,387.3 1561.5,388.0 1562.2,385.9 1563.0,388.4 1563.8,386.9 1564.5,388.6 1565.2,387.1 1566.0,387.5 1566.8,385.4 1567.5,387.0 1568.2,385.8 1569.0,386.3 1569.8,384.6 1570.5,387.2 1571.2,385.7 1572.0,387.8 1572.8,384.8 1573.5,385.7 1574.2,383.0 1575.0,388.5 1575.8,385.0 1576.5,385.7 1577.2,384.4 1578.0,387.8 1578.8,384.5 1579.5,390.7 1580.2,387.2 1581.0,390.5 1581.8,386.1 1582.5,385.3 1583.2,383.9 1584.0,387.8 1584.8,385.1 1585.5,389.6 1586.2,383.6 1587.0,389.6 1587.8,386.3 1588.5,388.9 1589.2,387.9 1590.0,387.9 1590.8,384.2 1591.5,386.9 1592.2,383.8 1593.0,388.2 1593.8,384.3 1594.5,387.0 1595.2,385.4 1596.0,384.2 1596.8,382.6 1597.5,386.4 1598.2,384.8 1599.0,385.6 1599.8,383.6 1600.5,387.2 1601.2,386.3 1602.0,386.4 1602.8,384.3 1603.5,385.4 1604.2,384.0 1605.0,387.9 1605.8,382.5 1606.5,386.2 1607.2,381.6 1608.0,384.6 1608.8,383.6 1609.5,386.0 1610.2,382.2 1611.0,382.0 1611.8,380.9 1612.5,385.6 1613.2,383.1 1614.0,385.4 1614.8,383.3 1615.5,385.7 1616.2,382.2 1617.0,385.2 1617.8,383.4 1618.5,382.6 1619.2,380.9 1620.0,385.0 1620.8,381.8 1621.5,383.6 1622.2,382.6 1623.0,383.8 1623.8,382.8 1624.5,383.2 1625.2,381.7 1626.0,384.8 1626.8,381.3 1627.5,384.9 1628.2,383.4 1629.0,385.0 1629.8,381.5 1630.5,385.5 1631.2,382.9 1632.0,384.1 1632.8,382.7 1633.5,386.3 1634.2,384.3 1635.0,388.6 1635.8,385.8 1636.5,386.1 1637.2,384.9 1638.0,386.1 1638.8,383.9 1639.5,384.2 1640.2,383.0 1641.0,385.5 1641.8,383.3 1642.5,388.6 1643.2,383.5 1644.0,386.2 1644.8,385.0 1645.5,386.1 1646.2,384.2 1647.0,384.1 1647.8,382.5 1648.5,385.6 1649.2,382.7 1650.0,387.3 1650.8,384.5 1651.5,384.9 1652.2,383.7 1653.0,387.6 1653.8,385.1 1654.5,386.4 1655.2,384.6 1656.0,385.0 1656.8,383.4 1657.5,388.4 1658.2,386.3 1659.0,382.7 1659.8,381.9 1660.5,385.7 1661.2,383.6 1662.0,384.2 1662.8,382.5 1663.5,387.1 1664.2,382.2 1665.0,387.0 1665.8,384.2 1666.5,388.3 1667.2,384.7 1668.0,386.5 1668.8,384.4 1669.5,385.8 1670.2,383.8 1671.0,387.0 1671.8,383.7 1672.5,384.3 1673.2,383.2 1674.0,385.7 1674.8,384.6 1675.5,387.6 1676.2,385.1 1677.0,387.2 1677.8,384.7 1678.5,388.2 1679.2,385.1 1680.0,387.0 1680.8,384.0 1681.5,387.8 1682.2,386.0 1683.0,387.5 1683.8,385.0 1684.5,386.6 1685.2,384.4 1686.0,386.8 1686.8,383.0 1687.5,385.1 1688.2,383.2 1689.0,387.3 1689.8,384.5 1690.5,387.8 1691.2,385.1 1692.0,388.7 1692.8,385.9 1693.5,387.0 1694.2,385.4 1695.0,386.6 1695.8,385.1 1696.5,389.6 1697.2,385.8 1698.0,389.3 1698.8,386.5 1699.5,388.9 1700.2,387.1 1701.0,391.4 1701.8,384.4 1702.5,387.8 1703.2,385.9 1704.0,388.9 1704.8,387.2 1705.5,388.5 1706.2,387.8 1707.0,390.5 1707.8,387.0 1708.5,388.7 1709.2,386.2 1710.0,387.0 1710.8,386.1 1711.5,390.5 1712.2,387.4 1713.0,390.7 1713.8,387.2 1714.5,389.3 1715.2,386.0 1716.0,387.3 1716.8,383.5 1717.5,387.5 1718.2,386.4 1719.0,389.8 1719.8,388.4 1720.5,388.8 1721.2,385.7 1722.0,388.7 1722.8,386.1 1723.5,391.2 1724.2,387.5 1725.0,389.7 1725.8,386.8 1726.5,389.1 1727.2,387.3 1728.0,388.8 1728.8,386.0 1729.5,389.5 1730.2,387.7 1731.0,389.6 1731.8,387.4 1732.5,390.1 1733.2,388.1 1734.0,387.1 1734.8,385.5 1735.5,390.4 1736.2,389.1 1737.0,392.1 1737.8,389.0 1738.5,390.1 1739.2,388.0 1740.0,389.4 1740.8,386.7 1741.5,391.1 1742.2,388.7 1743.0,391.0 1743.8,388.9 1744.5,388.3 1745.2,387.1 1746.0,388.8 1746.8,388.0 1747.5,389.8 1748.2,387.6 1749.0,388.1 1749.8,386.7 1750.5,390.1 1751.2,386.5 1752.0,390.1 1752.8,388.7 1753.5,392.0 1754.2,389.3 1755.0,386.6 1755.8,385.7 1756.5,389.7 1757.2,388.1 1758.0,386.8 1758.8,386.0 1759.5,389.0" fill="none" stroke="#ff00ff" stroke-width="3.8" stroke-linejoin="round" stroke-linecap="butt"/>
</g>
<g id="ticklabels" font-family="'Liberation Sans', sans-serif" font-weight="bold" font-size="75.2" text-anchor="middle" fill="#000">
<text x="309.9" y="1309" textLength="82.4" lengthAdjust="spacingAndGlyphs">20</text>
<text x="673.0" y="1309" textLength="82.4" lengthAdjust="spacingAndGlyphs">30</text>
<text x="1036.1" y="1309" textLength="82.4" lengthAdjust="spacingAndGlyphs">40</text>
<text x="1399.2" y="1309" textLength="82.4" lengthAdjust="spacingAndGlyphs">50</text>
<text x="1762.3" y="1309" textLength="82.4" lengthAdjust="spacingAndGlyphs">60</text>
</g>
<text id="xlabel" fill="#000" font-weight="bold"><tspan x="775.2" y="1391.8" font-family="'Liberation Sans', sans-serif" font-size="98.4" textLength="51.3" lengthAdjust="spacingAndGlyphs">2</tspan><tspan x="824" y="1392.9" font-family="'Liberation Serif', serif" font-size="88.6" textLength="49.3" lengthAdjust="spacingAndGlyphs">θ</tspan><tspan font-family="'Liberation Serif', serif" font-size="60"> </tspan><tspan x="895.2" y="1390.2" font-family="'Liberation Serif', serif" font-size="97.5" textLength="331" lengthAdjust="spacingAndGlyphs">(degree)</tspan></text>
<text id="ylabel" transform="translate(74.1,968.8) rotate(-90)" fill="#000" font-family="'Liberation Sans', sans-serif" font-weight="bold" font-size="98" textLength="649.7" lengthAdjust="spacingAndGlyphs">Intensity (a.u.)</text>
<g id="serieslabels" font-family="'Liberation Serif', serif" font-weight="bold" font-size="95.5" fill="#000">
<text x="145.9" y="296.2">(e)</text>
<text x="145.9" y="507.1">(d)</text>
<text x="145.9" y="704.9">(c)</text>
<text x="145.9" y="907">(b)</text>
<text x="145.9" y="1074.1">(a)</text>
</g>
<g id="legend" font-family="'Liberation Serif', serif" font-weight="bold" fill="#000">
<text><tspan x="1289.0" y="72.5" font-family="'DejaVu Sans', sans-serif" font-size="48.5" font-weight="normal" text-anchor="middle">❖</tspan><tspan x="1306.4" y="86.5" font-size="74" text-anchor="start">Cellulose</tspan></text>
<text><tspan x="1292.7" y="152.9" font-family="'DejaVu Sans', sans-serif" font-size="57.5" font-weight="normal" text-anchor="middle">★</tspan><tspan x="1313" y="179.6" font-size="81.5" text-anchor="start">HA</tspan> <tspan x="1480.4" y="163.0" font-family="'DejaVu Sans', sans-serif" font-size="53.5" font-weight="normal" text-anchor="middle">◆</tspan><tspan x="1504" y="183.5" font-size="74" text-anchor="start">Calcite</tspan></text>
</g>
<g id="markers" font-family="'DejaVu Sans', sans-serif" text-anchor="middle" fill="#000">
<text class="star" x="522.9" y="263.0" font-size="57.5">★</text>
<text class="star" x="613.4" y="323.0" font-size="57.5">★</text>
<text class="star" x="654.5" y="287.0" font-size="57.5">★</text>
<text class="star" x="747.5" y="148.0" font-size="57.5">★</text>
<text class="star" x="782.4" y="247.1" font-size="57.5">★</text>
<text class="star" x="824.5" y="308.1" font-size="57.5">★</text>
<text class="star" x="1003.0" y="336.9" font-size="57.5">★</text>
<text class="star" x="1034.3" y="298.8" font-size="57.5">★</text>
<text class="star" x="1175.3" y="356.2" font-size="57.5">★</text>
<text class="star" x="1282.4" y="320.3" font-size="57.5">★</text>
<text class="star" x="1337.3" y="339.2" font-size="57.5">★</text>
<text class="star" x="1378.4" y="302.2" font-size="57.5">★</text>
<text class="star" x="1514.3" y="330.1" font-size="57.5">★</text>
<text class="dia" x="424.7" y="916.2" font-size="53.5">◆</text>
<text class="dia" x="654.9" y="848.1" font-size="53.5">◆</text>
<text class="dia" x="888.7" y="940.2" font-size="53.5">◆</text>
<text class="dia" x="1016.7" y="925.5" font-size="53.5">◆</text>
<text class="dia" x="1151.0" y="942.2" font-size="53.5">◆</text>
<text class="dia" x="1307.0" y="934.2" font-size="53.5">◆</text>
<text class="dia" x="1344.6" y="932.5" font-size="53.5">◆</text>
<text class="dia" x="1664.3" y="958.9" font-size="53.5">◆</text>
<text class="cel" x="313.5" y="266.1" font-size="48.5">❖</text>
<text class="cel" x="375.4" y="285.0" font-size="48.5">❖</text>
</g>
</svg>
</body>
</html>
